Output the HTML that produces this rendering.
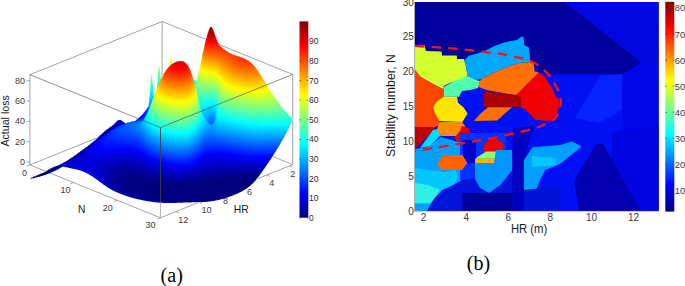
<!DOCTYPE html>
<html><head><meta charset="utf-8"><style>
html,body{margin:0;padding:0;background:#fff;}
svg{display:block;}
text{font-family:"Liberation Sans",sans-serif;fill:#333;}
.tb{font-size:10px;fill:#383838;}
.ta{font-size:9px;fill:#3a3a3a;}
.lb{font-size:12px;fill:#1a1a1a;}
.la{font-size:10.5px;fill:#1a1a1a;}
.tc{font-size:8.5px;fill:#2a2a2a;}
.tcb{font-size:9.3px;fill:#383838;}
.cap{font-family:"Liberation Serif",serif;font-size:20px;fill:#000;}
</style></head><body>
<svg width="685" height="286" viewBox="0 0 685 286">
<rect x="415" y="2" width="243.5" height="209" fill="#00009c"/>
<polygon points="565.0,2.0 658.5,2.0 658.5,211.0 415.0,211.0 415.0,62.0 530.0,62.0 534.0,64.0 538.8,72.5 548.0,74.3 622.7,74.3 642.0,62.7" fill="#0010f4"/>
<polygon points="565.0,2.0 658.5,2.0 658.5,66.0 642.0,62.7" fill="#0008e0"/>
<polygon points="622.7,74.3 642.0,62.7 658.5,66.0 658.5,211.0 622.0,211.0 622.0,120.0" fill="#0006ea"/>
<polygon points="600.0,76.0 622.0,74.0 622.0,110.0 600.0,123.0 575.0,118.0" fill="#0622ff"/>
<polygon points="415.0,45.0 424.5,45.0 426.0,51.0 441.5,51.5 442.0,55.5 456.8,55.5 457.0,59.0 463.8,59.0 465.5,64.0 467.6,76.0 460.0,80.0 450.0,83.0 443.5,86.0 443.5,89.3 433.0,84.0 420.4,76.7 415.0,70.0" fill="#d2ff2d"/>
<polygon points="463.8,59.0 464.6,59.9 468.8,55.7 477.2,53.6 485.6,50.4 494.0,46.2 502.4,43.1 510.8,41.0 517.0,40.0 521.3,36.8 523.4,36.5 524.4,45.2 528.6,47.3 530.5,62.0 519.2,63.0 506.6,67.2 494.0,72.5 481.4,79.0 476.0,80.0 467.6,76.0 465.5,64.0" fill="#00a8ff"/>
<polygon points="443.5,87.0 455.0,81.0 467.6,76.0 476.0,80.0 480.0,81.0 478.0,88.0 470.0,90.0 462.0,91.0 459.0,96.8 443.5,96.8" fill="#50ffaa"/>
<polygon points="415.0,70.0 420.4,76.7 433.0,84.0 443.5,89.3 443.5,97.0 437.0,101.0 433.0,107.3 435.0,113.6 439.3,121.0 439.3,125.0 433.0,128.0 415.0,128.0" fill="#ff4600"/>
<polygon points="415.0,127.0 433.0,127.0 434.0,130.0 415.0,149.0" fill="#c00000"/>
<polygon points="433.0,130.0 441.0,128.0 442.0,134.0 430.0,146.0 420.0,148.0" fill="#00dcff"/>
<polygon points="443.5,96.8 457.0,96.8 458.2,103.0 463.4,107.3 467.6,113.6 462.4,122.0 439.3,121.0 435.0,113.6 433.0,107.3 437.2,101.0" fill="#ffe600"/>
<polygon points="481.4,79.0 494.0,72.5 506.6,67.2 519.2,63.0 530.5,62.0 533.6,63.1 534.6,71.5 538.8,72.5 531.5,79.9 527.3,84.1 521.0,90.4 516.0,95.2 486.5,90.0 478.0,86.8 480.0,81.0" fill="#ff7000"/>
<polygon points="483.5,91.0 516.0,95.0 521.0,97.0 521.0,107.3 483.5,107.3" fill="#aa0000"/>
<polygon points="538.8,72.5 544.0,75.7 548.3,82.0 553.5,90.4 555.6,96.7 558.8,98.9 558.8,107.3 556.7,114.6 550.4,121.0 535.7,120.0 531.5,115.7 525.2,109.4 521.0,107.3 521.0,97.0 516.0,95.2 521.0,90.4 527.3,84.1 531.5,79.9" fill="#f00000"/>
<polygon points="488.0,107.3 512.0,107.3 500.0,118.0 497.0,120.4 474.0,121.0 480.0,114.0" fill="#ff7000"/>
<polygon points="439.3,122.0 462.0,122.0 465.0,126.0 460.0,136.0 441.0,136.0 437.0,130.0" fill="#ff8c00"/>
<polygon points="462.0,126.0 468.0,128.0 471.0,134.0 471.0,142.0 458.0,142.0 454.0,138.0 460.0,131.0" fill="#e60000"/>
<polygon points="415.0,149.0 428.0,147.0 441.0,137.0 458.0,142.0 464.0,142.0 466.0,150.0 462.0,160.0 462.0,180.0 455.0,184.0 442.0,190.0 434.7,198.0 427.0,211.0 415.0,211.0" fill="#00a0ff"/>
<polygon points="460.0,133.0 506.0,133.0 506.0,180.0 460.0,180.0" fill="#0032ff"/>
<polygon points="463.0,140.0 476.0,140.0 476.0,163.0 463.0,163.0" fill="#0000c8"/>
<polygon points="415.0,168.0 430.0,170.0 445.0,172.0 455.0,170.0 458.0,176.0 455.0,184.0 442.0,190.0 434.7,198.0 430.0,204.0 415.0,204.0" fill="#00c8ff"/>
<polygon points="415.0,183.0 428.0,185.0 439.7,190.0 434.7,198.0 430.0,203.0 415.0,203.0" fill="#30f0e6"/>
<polygon points="443.5,155.0 462.4,155.0 467.4,162.7 462.0,170.0 442.0,170.0 437.0,164.0" fill="#ff6400"/>
<polygon points="427.0,211.0 434.7,198.0 442.2,190.4 449.8,189.0 454.8,184.0 462.4,180.3 475.0,177.8 482.0,177.8 489.3,193.0 500.8,184.5 512.3,170.0 512.3,211.0" fill="#0014dc"/>
<polygon points="462.4,211.0 462.4,193.0 482.0,193.0 515.0,193.0 515.0,211.0" fill="#00009a"/>
<polygon points="490.0,138.6 497.0,139.0 503.7,144.0 503.7,151.5 483.6,151.5 484.0,145.0" fill="#f00000"/>
<polygon points="486.0,151.5 500.8,151.5 495.0,158.7 475.0,158.7" fill="#8cff6e"/>
<polygon points="475.0,158.7 496.5,158.7 494.0,163.0 475.0,163.0" fill="#ffb400"/>
<polygon points="496.0,150.0 512.3,150.0 512.3,170.0 500.8,184.5 489.3,193.0 480.0,188.0 475.0,178.8 475.0,163.0 494.0,163.0" fill="#0096ff"/>
<polygon points="513.0,128.4 534.6,126.0 526.6,150.0 526.6,211.0 512.3,211.0 512.3,150.0" fill="#0000c0"/>
<polygon points="532.5,147.3 560.0,145.0 572.0,141.6 581.6,146.6 560.0,164.0 545.0,170.0 540.0,180.0 535.0,193.0 524.0,193.0 524.0,160.0" fill="#00a0ff"/>
<polygon points="532.0,156.0 555.6,158.0 555.6,165.0 532.0,167.0" fill="#00c8ff"/>
<polygon points="524.0,190.0 560.0,186.0 560.0,211.0 524.0,211.0" fill="#0012d8"/>
<polygon points="612.0,132.0 658.5,126.0 658.5,211.0 612.0,211.0" fill="#0006e2"/>
<polygon points="596.0,144.0 603.0,144.0 641.0,211.0 579.0,211.0 574.0,181.0" fill="#0000b0"/>
<path d="M415.0,45.9 L452.0,48.3 L500.0,53.6 L524.4,58.8 L533.0,62.0 L541.0,67.0 L550.4,76.7 L556.7,87.2 L559.8,94.6 L560.9,101.0 L559.8,111.5 L554.6,118.8 L548.3,123.0 L537.8,127.2 L527.3,130.4 L512.6,133.5 L492.0,138.3 L452.0,145.0 L415.0,151.0" fill="none" stroke="#ff1010" stroke-width="2.3" stroke-dasharray="9.6 7"/>
<line x1="414.5" y1="2" x2="414.5" y2="211.5" stroke="#999" stroke-width="0.8"/>
<line x1="414.5" y1="211.3" x2="659" y2="211.3" stroke="#999" stroke-width="0.6"/>
<defs><linearGradient id="gb" x1="0" y1="0" x2="0" y2="1"><stop offset="0.000" stop-color="#800000"/><stop offset="0.025" stop-color="#990000"/><stop offset="0.050" stop-color="#b30000"/><stop offset="0.075" stop-color="#cc0000"/><stop offset="0.100" stop-color="#e50000"/><stop offset="0.125" stop-color="#ff0000"/><stop offset="0.150" stop-color="#ff1a00"/><stop offset="0.175" stop-color="#ff3300"/><stop offset="0.200" stop-color="#ff4c00"/><stop offset="0.225" stop-color="#ff6600"/><stop offset="0.250" stop-color="#ff8000"/><stop offset="0.275" stop-color="#ff9900"/><stop offset="0.300" stop-color="#ffb300"/><stop offset="0.325" stop-color="#ffcc00"/><stop offset="0.350" stop-color="#ffe500"/><stop offset="0.375" stop-color="#ffff00"/><stop offset="0.400" stop-color="#e5ff1a"/><stop offset="0.425" stop-color="#ccff33"/><stop offset="0.450" stop-color="#b3ff4c"/><stop offset="0.475" stop-color="#99ff66"/><stop offset="0.500" stop-color="#80ff80"/><stop offset="0.525" stop-color="#66ff99"/><stop offset="0.550" stop-color="#4cffb3"/><stop offset="0.575" stop-color="#33ffcc"/><stop offset="0.600" stop-color="#1affe5"/><stop offset="0.625" stop-color="#00ffff"/><stop offset="0.650" stop-color="#00e5ff"/><stop offset="0.675" stop-color="#00ccff"/><stop offset="0.700" stop-color="#00b3ff"/><stop offset="0.725" stop-color="#0099ff"/><stop offset="0.750" stop-color="#0080ff"/><stop offset="0.775" stop-color="#0066ff"/><stop offset="0.800" stop-color="#004cff"/><stop offset="0.825" stop-color="#0033ff"/><stop offset="0.850" stop-color="#001aff"/><stop offset="0.875" stop-color="#0000ff"/><stop offset="0.900" stop-color="#0000e5"/><stop offset="0.925" stop-color="#0000cc"/><stop offset="0.950" stop-color="#0000b3"/><stop offset="0.975" stop-color="#000099"/><stop offset="1.000" stop-color="#000080"/></linearGradient></defs>
<rect x="665.3" y="1.8" width="9" height="209.8" fill="url(#gb)"/>
<text x="674.8" y="194.0" class="tcb">10</text>
<path d="M665.3 190.6h1.6M672.7 190.6h1.6" stroke="#333" stroke-width="0.6"/>
<text x="674.8" y="167.9" class="tcb">20</text>
<path d="M665.3 164.5h1.6M672.7 164.5h1.6" stroke="#333" stroke-width="0.6"/>
<text x="674.8" y="141.8" class="tcb">30</text>
<path d="M665.3 138.4h1.6M672.7 138.4h1.6" stroke="#333" stroke-width="0.6"/>
<text x="674.8" y="115.7" class="tcb">40</text>
<path d="M665.3 112.3h1.6M672.7 112.3h1.6" stroke="#333" stroke-width="0.6"/>
<text x="674.8" y="89.7" class="tcb">50</text>
<path d="M665.3 86.2h1.6M672.7 86.2h1.6" stroke="#333" stroke-width="0.6"/>
<text x="674.8" y="63.6" class="tcb">60</text>
<path d="M665.3 60.2h1.6M672.7 60.2h1.6" stroke="#333" stroke-width="0.6"/>
<text x="674.8" y="37.5" class="tcb">70</text>
<path d="M665.3 34.1h1.6M672.7 34.1h1.6" stroke="#333" stroke-width="0.6"/>
<text x="674.8" y="11.4" class="tcb">80</text>
<path d="M665.3 8.0h1.6M672.7 8.0h1.6" stroke="#333" stroke-width="0.6"/>
<text x="413.8" y="214.6" class="tb" text-anchor="end">0</text>
<text x="413.8" y="179.8" class="tb" text-anchor="end">5</text>
<text x="413.8" y="144.9" class="tb" text-anchor="end">10</text>
<text x="413.8" y="110.0" class="tb" text-anchor="end">15</text>
<text x="413.8" y="75.2" class="tb" text-anchor="end">20</text>
<text x="413.8" y="40.4" class="tb" text-anchor="end">25</text>
<text x="413.8" y="5.5" class="tb" text-anchor="end">30</text>
<text x="423.5" y="220.8" class="tb" text-anchor="middle">2</text>
<text x="466.2" y="220.8" class="tb" text-anchor="middle">4</text>
<text x="508.3" y="220.8" class="tb" text-anchor="middle">6</text>
<text x="550.3" y="220.8" class="tb" text-anchor="middle">8</text>
<text x="591.5" y="220.8" class="tb" text-anchor="middle">10</text>
<text x="633.6" y="220.8" class="tb" text-anchor="middle">12</text>
<text x="510.9" y="232.6" class="lb" textLength="36.4" lengthAdjust="spacingAndGlyphs">HR (m)</text>
<text transform="translate(395.1,157.1) rotate(-90)" class="lb" textLength="102.9" lengthAdjust="spacingAndGlyphs">Stability number, N</text>
<text x="466.8" y="269.8" class="cap">(b)</text>
<text x="160.6" y="281.5" class="cap">(a)</text>
<line x1="29.9" y1="164.9" x2="162.1" y2="111.7" stroke="#666" stroke-width="0.60"/><line x1="162.1" y1="111.7" x2="292.7" y2="164.6" stroke="#666" stroke-width="0.60"/><line x1="162.1" y1="111.7" x2="162.1" y2="21.5" stroke="#666" stroke-width="0.60"/><line x1="29.9" y1="74.7" x2="162.1" y2="21.5" stroke="#666" stroke-width="0.60"/><line x1="162.1" y1="21.5" x2="292.7" y2="74.4" stroke="#666" stroke-width="0.60"/><line x1="29.9" y1="164.9" x2="29.9" y2="74.7" stroke="#666" stroke-width="0.60"/><line x1="292.7" y1="164.6" x2="292.7" y2="74.4" stroke="#666" stroke-width="0.60"/><line x1="29.9" y1="164.9" x2="160.5" y2="217.8" stroke="#666" stroke-width="0.60"/><line x1="160.5" y1="217.8" x2="292.7" y2="164.6" stroke="#666" stroke-width="0.60"/>
<line x1="26.2" y1="162.0" x2="29.9" y2="162.0" stroke="#777" stroke-width="0.60"/>
<text x="24.9" y="164.9" class="ta" text-anchor="end">0</text>
<line x1="26.2" y1="141.7" x2="29.9" y2="141.7" stroke="#777" stroke-width="0.60"/>
<text x="24.9" y="144.6" class="ta" text-anchor="end">20</text>
<line x1="26.2" y1="121.4" x2="29.9" y2="121.4" stroke="#777" stroke-width="0.60"/>
<text x="24.9" y="124.3" class="ta" text-anchor="end">40</text>
<line x1="26.2" y1="101.1" x2="29.9" y2="101.1" stroke="#777" stroke-width="0.60"/>
<text x="24.9" y="104.0" class="ta" text-anchor="end">60</text>
<line x1="26.2" y1="80.8" x2="29.9" y2="80.8" stroke="#777" stroke-width="0.60"/>
<text x="24.9" y="83.7" class="ta" text-anchor="end">80</text>
<line x1="29.9" y1="164.9" x2="26.7" y2="166.2" stroke="#777" stroke-width="0.60"/>
<line x1="73.4" y1="182.5" x2="70.2" y2="183.8" stroke="#777" stroke-width="0.60"/>
<line x1="117.0" y1="200.2" x2="113.8" y2="201.5" stroke="#777" stroke-width="0.60"/>
<line x1="160.5" y1="217.8" x2="157.3" y2="219.1" stroke="#777" stroke-width="0.60"/>
<line x1="289.5" y1="165.9" x2="292.7" y2="167.2" stroke="#777" stroke-width="0.60"/>
<line x1="266.8" y1="175.0" x2="270.0" y2="176.3" stroke="#777" stroke-width="0.60"/>
<line x1="244.1" y1="184.2" x2="247.3" y2="185.5" stroke="#777" stroke-width="0.60"/>
<line x1="221.4" y1="193.3" x2="224.6" y2="194.6" stroke="#777" stroke-width="0.60"/>
<line x1="198.7" y1="202.4" x2="201.9" y2="203.7" stroke="#777" stroke-width="0.60"/>
<line x1="175.9" y1="211.6" x2="179.1" y2="212.9" stroke="#777" stroke-width="0.60"/>
<defs><linearGradient id="s0" x2="0" y2="1"><stop offset="0" stop-color="#9f9fcf"/><stop offset="0.75" stop-color="#8080c0"/></linearGradient><linearGradient id="s1" x2="0" y2="1"><stop offset="0" stop-color="#5050a8"/><stop offset="0.75" stop-color="#9f9fcf"/></linearGradient><linearGradient id="s2" x2="0" y2="1"><stop offset="0" stop-color="#efeff7"/><stop offset="0.5" stop-color="#000080"/><stop offset="0.833" stop-color="#bfbfdf"/></linearGradient><linearGradient id="s3" x2="0" y2="1"><stop offset="0" stop-color="#8080c0"/><stop offset="0.75" stop-color="#101088"/></linearGradient><linearGradient id="s4" x2="0" y2="1"><stop offset="0" stop-color="#303098"/><stop offset="0.75" stop-color="#5050a8"/></linearGradient><linearGradient id="s5" x2="0" y2="1"><stop offset="0" stop-color="#bfbfdf"/><stop offset="0.5" stop-color="#000080"/><stop offset="0.833" stop-color="#8080c0"/></linearGradient><linearGradient id="s6" x2="0" y2="1"><stop offset="0" stop-color="#5050a8"/><stop offset="0.5" stop-color="#000080"/><stop offset="0.833" stop-color="#cfcfe7"/></linearGradient><linearGradient id="s7" x2="0" y2="1"><stop offset="0" stop-color="#efeff7"/><stop offset="0.5" stop-color="#000080"/><stop offset="0.833" stop-color="#202090"/></linearGradient><linearGradient id="s8" x2="0" y2="1"><stop offset="0" stop-color="#8080c0"/><stop offset="0.5" stop-color="#000080"/><stop offset="0.833" stop-color="#5050a8"/></linearGradient><linearGradient id="s9" x2="0" y2="1"><stop offset="0" stop-color="#efeff7"/><stop offset="0.375" stop-color="#101088"/><stop offset="0.625" stop-color="#000080"/><stop offset="0.875" stop-color="#9f9fcf"/></linearGradient><linearGradient id="s10" x2="0" y2="1"><stop offset="0" stop-color="#9f9fcf"/><stop offset="0.375" stop-color="#000080"/><stop offset="0.625" stop-color="#000080"/><stop offset="0.875" stop-color="#efeff7"/></linearGradient><linearGradient id="s11" x2="0" y2="1"><stop offset="0" stop-color="#303098"/><stop offset="0.5" stop-color="#000080"/><stop offset="0.833" stop-color="#303098"/></linearGradient><linearGradient id="s12" x2="0" y2="1"><stop offset="0" stop-color="#dfdfef"/><stop offset="0.375" stop-color="#000080"/><stop offset="0.625" stop-color="#000080"/><stop offset="0.875" stop-color="#8f8fc7"/></linearGradient><linearGradient id="s13" x2="0" y2="1"><stop offset="0" stop-color="#5050a8"/><stop offset="0.375" stop-color="#000080"/><stop offset="0.625" stop-color="#000080"/><stop offset="0.875" stop-color="#dfdfef"/></linearGradient><linearGradient id="s14" x2="0" y2="1"><stop offset="0" stop-color="#cfcfe7"/><stop offset="0.375" stop-color="#000080"/><stop offset="0.625" stop-color="#000080"/><stop offset="0.875" stop-color="#303098"/></linearGradient><linearGradient id="s15" x2="0" y2="1"><stop offset="0" stop-color="#efeff7"/><stop offset="0.3" stop-color="#303098"/><stop offset="0.5" stop-color="#000080"/><stop offset="0.7" stop-color="#000080"/><stop offset="0.9" stop-color="#9f9fcf"/></linearGradient><linearGradient id="s16" x2="0" y2="1"><stop offset="0" stop-color="#7070b8"/><stop offset="0.3" stop-color="#000080"/><stop offset="0.7" stop-color="#000080"/><stop offset="0.9" stop-color="#efeff7"/></linearGradient><linearGradient id="s17" x2="0" y2="1"><stop offset="0" stop-color="#cfcfe7"/><stop offset="0.3" stop-color="#000080"/><stop offset="0.7" stop-color="#000080"/><stop offset="0.9" stop-color="#6060b0"/></linearGradient><linearGradient id="s18" x2="0" y2="1"><stop offset="0" stop-color="#4040a2"/><stop offset="0.3" stop-color="#000080"/><stop offset="0.7" stop-color="#000080"/><stop offset="0.9" stop-color="#afafd7"/></linearGradient><linearGradient id="s19" x2="0" y2="1"><stop offset="0" stop-color="#afafdc"/><stop offset="0.3" stop-color="#000082"/><stop offset="0.7" stop-color="#000080"/><stop offset="0.9" stop-color="#202090"/></linearGradient><linearGradient id="s20" x2="0" y2="1"><stop offset="0" stop-color="#3030a4"/><stop offset="0.3" stop-color="#000080"/><stop offset="0.7" stop-color="#000080"/><stop offset="0.9" stop-color="#9f9fcf"/></linearGradient><linearGradient id="s21" x2="0" y2="1"><stop offset="0" stop-color="#bfbfe8"/><stop offset="0.3" stop-color="#000088"/><stop offset="0.7" stop-color="#000080"/><stop offset="0.9" stop-color="#101088"/></linearGradient><linearGradient id="s22" x2="0" y2="1"><stop offset="0" stop-color="#4040b6"/><stop offset="0.3" stop-color="#000081"/><stop offset="0.7" stop-color="#000080"/><stop offset="0.9" stop-color="#8080c0"/></linearGradient><linearGradient id="s23" x2="0" y2="1"><stop offset="0" stop-color="#efeffa"/><stop offset="0.25" stop-color="#000095"/><stop offset="0.417" stop-color="#000080"/><stop offset="0.583" stop-color="#000080"/><stop offset="0.75" stop-color="#101088"/><stop offset="0.917" stop-color="#efeff7"/></linearGradient><linearGradient id="s24" x2="0" y2="1"><stop offset="0" stop-color="#8f8fdc"/><stop offset="0.3" stop-color="#000086"/><stop offset="0.7" stop-color="#000080"/><stop offset="0.9" stop-color="#6060b0"/></linearGradient><linearGradient id="s25" x2="0" y2="1"><stop offset="0" stop-color="#2020b2"/><stop offset="0.3" stop-color="#000080"/><stop offset="0.7" stop-color="#000080"/><stop offset="0.9" stop-color="#dfdfef"/></linearGradient><linearGradient id="s26" x2="0" y2="1"><stop offset="0" stop-color="#dfdff6"/><stop offset="0.3" stop-color="#0000a3"/><stop offset="0.5" stop-color="#000080"/><stop offset="0.7" stop-color="#000080"/><stop offset="0.9" stop-color="#8080c0"/></linearGradient><linearGradient id="s27" x2="0" y2="1"><stop offset="0" stop-color="#7070da"/><stop offset="0.3" stop-color="#0000a0"/><stop offset="0.5" stop-color="#000080"/><stop offset="0.7" stop-color="#101088"/><stop offset="0.9" stop-color="#dfdfef"/></linearGradient><linearGradient id="s28" x2="0" y2="1"><stop offset="0" stop-color="#dfdff2"/><stop offset="0.3" stop-color="#1010c5"/><stop offset="0.5" stop-color="#000094"/><stop offset="0.7" stop-color="#000080"/><stop offset="0.9" stop-color="#8080c0"/></linearGradient><linearGradient id="s29" x2="0" y2="1"><stop offset="0" stop-color="#8080d0"/><stop offset="0.375" stop-color="#0000c7"/><stop offset="0.625" stop-color="#00009e"/><stop offset="0.875" stop-color="#202090"/></linearGradient><linearGradient id="s30" x2="0" y2="1"><stop offset="0" stop-color="#dfdfef"/><stop offset="0.3" stop-color="#1010b5"/><stop offset="0.5" stop-color="#0000cb"/><stop offset="0.7" stop-color="#0000aa"/><stop offset="0.9" stop-color="#afafd7"/></linearGradient><linearGradient id="s31" x2="0" y2="1"><stop offset="0" stop-color="#7070c1"/><stop offset="0.375" stop-color="#0000c2"/><stop offset="0.625" stop-color="#0000cf"/><stop offset="0.875" stop-color="#4040d0"/></linearGradient><linearGradient id="s32" x2="0" y2="1"><stop offset="0" stop-color="#dfdfef"/><stop offset="0.3" stop-color="#0000a3"/><stop offset="0.5" stop-color="#0000c6"/><stop offset="0.7" stop-color="#0000d1"/><stop offset="0.9" stop-color="#4040e2"/></linearGradient><linearGradient id="s33" x2="0" y2="1"><stop offset="0" stop-color="#4040a3"/><stop offset="0.3" stop-color="#0000be"/><stop offset="0.7" stop-color="#0000d2"/><stop offset="0.9" stop-color="#1010dc"/></linearGradient><linearGradient id="s34" x2="0" y2="1"><stop offset="0" stop-color="#bfbfdf"/><stop offset="0.214" stop-color="#000098"/><stop offset="0.357" stop-color="#0000c4"/><stop offset="0.786" stop-color="#0000db"/><stop offset="0.929" stop-color="#dfdffb"/></linearGradient><linearGradient id="s35" x2="0" y2="1"><stop offset="0" stop-color="#30309a"/><stop offset="0.214" stop-color="#0000b7"/><stop offset="0.5" stop-color="#0000ce"/><stop offset="0.786" stop-color="#0000db"/><stop offset="0.929" stop-color="#afaff5"/></linearGradient><linearGradient id="s36" x2="0" y2="1"><stop offset="0" stop-color="#8080c0"/><stop offset="0.188" stop-color="#000097"/><stop offset="0.312" stop-color="#0000c2"/><stop offset="0.812" stop-color="#0000db"/><stop offset="0.938" stop-color="#8080f0"/></linearGradient><linearGradient id="s37" x2="0" y2="1"><stop offset="0" stop-color="#efeff7"/><stop offset="0.167" stop-color="#101088"/><stop offset="0.278" stop-color="#0000b3"/><stop offset="0.389" stop-color="#0000c6"/><stop offset="0.833" stop-color="#0000da"/><stop offset="0.944" stop-color="#4040e9"/></linearGradient><linearGradient id="s38" x2="0" y2="1"><stop offset="0" stop-color="#4040a0"/><stop offset="0.167" stop-color="#000097"/><stop offset="0.278" stop-color="#0000c2"/><stop offset="0.944" stop-color="#0000e2"/></linearGradient><linearGradient id="s39" x2="0" y2="1"><stop offset="0" stop-color="#9f9fcf"/><stop offset="0.136" stop-color="#000080"/><stop offset="0.227" stop-color="#0000b8"/><stop offset="0.409" stop-color="#0000cb"/><stop offset="0.864" stop-color="#0000e2"/><stop offset="0.955" stop-color="#cfcffb"/></linearGradient><linearGradient id="s40" x2="0" y2="1"><stop offset="0" stop-color="#efeff7"/><stop offset="0.125" stop-color="#101088"/><stop offset="0.208" stop-color="#00009a"/><stop offset="0.292" stop-color="#0000c2"/><stop offset="0.875" stop-color="#0000e1"/><stop offset="0.958" stop-color="#8f8ff5"/></linearGradient><linearGradient id="s41" x2="0" y2="1"><stop offset="0" stop-color="#5050a8"/><stop offset="0.125" stop-color="#000086"/><stop offset="0.208" stop-color="#0000ba"/><stop offset="0.375" stop-color="#0000cc"/><stop offset="0.875" stop-color="#0000e0"/><stop offset="0.958" stop-color="#6060f2"/></linearGradient><linearGradient id="s42" x2="0" y2="1"><stop offset="0" stop-color="#9f9fcf"/><stop offset="0.115" stop-color="#000080"/><stop offset="0.269" stop-color="#0000c4"/><stop offset="0.885" stop-color="#0000e0"/><stop offset="0.962" stop-color="#3030ef"/></linearGradient><linearGradient id="s43" x2="0" y2="1"><stop offset="0" stop-color="#dfdfef"/><stop offset="0.107" stop-color="#101088"/><stop offset="0.179" stop-color="#00008c"/><stop offset="0.25" stop-color="#0000bf"/><stop offset="0.536" stop-color="#0000d0"/><stop offset="0.893" stop-color="#0000e0"/><stop offset="0.964" stop-color="#0000ec"/></linearGradient><linearGradient id="s44" x2="0" y2="1"><stop offset="0" stop-color="#303098"/><stop offset="0.1" stop-color="#000083"/><stop offset="0.167" stop-color="#0000b3"/><stop offset="0.233" stop-color="#0000c7"/><stop offset="0.833" stop-color="#0000df"/><stop offset="0.9" stop-color="#0000eb"/><stop offset="0.967" stop-color="#bfbffc"/></linearGradient><linearGradient id="s45" x2="0" y2="1"><stop offset="0" stop-color="#8f8fc7"/><stop offset="0.094" stop-color="#000080"/><stop offset="0.156" stop-color="#00009b"/><stop offset="0.219" stop-color="#0000c4"/><stop offset="0.531" stop-color="#0000d1"/><stop offset="0.844" stop-color="#0000df"/><stop offset="0.906" stop-color="#0000ea"/><stop offset="0.969" stop-color="#8080f9"/></linearGradient><linearGradient id="s46" x2="0" y2="1"><stop offset="0" stop-color="#bfbfdf"/><stop offset="0.088" stop-color="#000080"/><stop offset="0.147" stop-color="#00008f"/><stop offset="0.206" stop-color="#0000bf"/><stop offset="0.382" stop-color="#0000d0"/><stop offset="0.794" stop-color="#0000d7"/><stop offset="0.912" stop-color="#0000e9"/><stop offset="0.971" stop-color="#5050f7"/></linearGradient><linearGradient id="s47" x2="0" y2="1"><stop offset="0" stop-color="#efeff7"/><stop offset="0.083" stop-color="#101088"/><stop offset="0.139" stop-color="#000083"/><stop offset="0.194" stop-color="#0000b5"/><stop offset="0.25" stop-color="#0000ca"/><stop offset="0.806" stop-color="#0000d7"/><stop offset="0.972" stop-color="#0000f3"/></linearGradient><linearGradient id="s48" x2="0" y2="1"><stop offset="0" stop-color="#6060b0"/><stop offset="0.079" stop-color="#000082"/><stop offset="0.184" stop-color="#0000c7"/><stop offset="0.395" stop-color="#0000d3"/><stop offset="0.763" stop-color="#0000d7"/><stop offset="0.921" stop-color="#0000f3"/><stop offset="0.974" stop-color="#bfbffd"/></linearGradient><linearGradient id="s49" x2="0" y2="1"><stop offset="0" stop-color="#8f8fc7"/><stop offset="0.075" stop-color="#000080"/><stop offset="0.175" stop-color="#0000c5"/><stop offset="0.325" stop-color="#0000d4"/><stop offset="0.775" stop-color="#0000d7"/><stop offset="0.925" stop-color="#0000f1"/><stop offset="0.975" stop-color="#7070fb"/></linearGradient><linearGradient id="s50" x2="0" y2="1"><stop offset="0" stop-color="#dfdfef"/><stop offset="0.071" stop-color="#000080"/><stop offset="0.119" stop-color="#000094"/><stop offset="0.167" stop-color="#0000bf"/><stop offset="0.262" stop-color="#0000d4"/><stop offset="0.786" stop-color="#0000d6"/><stop offset="0.929" stop-color="#0000f0"/><stop offset="0.976" stop-color="#1010f8"/></linearGradient><linearGradient id="s51" x2="0" y2="1"><stop offset="0" stop-color="#efeff7"/><stop offset="0.065" stop-color="#303098"/><stop offset="0.109" stop-color="#000091"/><stop offset="0.152" stop-color="#0000bb"/><stop offset="0.196" stop-color="#0000ce"/><stop offset="0.413" stop-color="#0000d7"/><stop offset="0.761" stop-color="#0000d6"/><stop offset="0.935" stop-color="#0000f6"/><stop offset="0.978" stop-color="#afaffd"/></linearGradient><linearGradient id="s52" x2="0" y2="1"><stop offset="0" stop-color="#6060b0"/><stop offset="0.065" stop-color="#000088"/><stop offset="0.109" stop-color="#0000b9"/><stop offset="0.152" stop-color="#0000ce"/><stop offset="0.326" stop-color="#0000da"/><stop offset="0.761" stop-color="#0000d6"/><stop offset="0.935" stop-color="#0000f4"/><stop offset="0.978" stop-color="#6060fb"/></linearGradient><linearGradient id="s53" x2="0" y2="1"><stop offset="0" stop-color="#afafd7"/><stop offset="0.06" stop-color="#000086"/><stop offset="0.1" stop-color="#0000b0"/><stop offset="0.14" stop-color="#0000cc"/><stop offset="0.26" stop-color="#0000dc"/><stop offset="0.7" stop-color="#0000d2"/><stop offset="0.94" stop-color="#0000f7"/><stop offset="0.98" stop-color="#dfdffe"/></linearGradient><linearGradient id="s54" x2="0" y2="1"><stop offset="0" stop-color="#cfcfe7"/><stop offset="0.058" stop-color="#10108a"/><stop offset="0.096" stop-color="#0000af"/><stop offset="0.135" stop-color="#0000cc"/><stop offset="0.25" stop-color="#0000de"/><stop offset="0.712" stop-color="#0000d2"/><stop offset="0.942" stop-color="#0000f5"/><stop offset="0.981" stop-color="#7070fb"/></linearGradient><linearGradient id="s55" x2="0" y2="1"><stop offset="0" stop-color="#303098"/><stop offset="0.056" stop-color="#0000a3"/><stop offset="0.093" stop-color="#0000cc"/><stop offset="0.204" stop-color="#0000e0"/><stop offset="0.685" stop-color="#0000d2"/><stop offset="0.907" stop-color="#0000f2"/><stop offset="0.944" stop-color="#1010f7"/><stop offset="0.981" stop-color="#dfdffe"/></linearGradient><linearGradient id="s56" x2="0" y2="1"><stop offset="0" stop-color="#7070b8"/><stop offset="0.054" stop-color="#00009e"/><stop offset="0.089" stop-color="#0000c8"/><stop offset="0.161" stop-color="#0000df"/><stop offset="0.411" stop-color="#0000dc"/><stop offset="0.696" stop-color="#0000d1"/><stop offset="0.946" stop-color="#0000f3"/><stop offset="0.982" stop-color="#6060f9"/></linearGradient><linearGradient id="s57" x2="0" y2="1"><stop offset="0" stop-color="#9f9fcf"/><stop offset="0.05" stop-color="#000094"/><stop offset="0.083" stop-color="#0000ca"/><stop offset="0.15" stop-color="#0000e2"/><stop offset="0.383" stop-color="#0000df"/><stop offset="0.683" stop-color="#0000d1"/><stop offset="0.95" stop-color="#0000f4"/><stop offset="0.983" stop-color="#dfdffe"/></linearGradient><linearGradient id="s58" x2="0" y2="1"><stop offset="0" stop-color="#efeff7"/><stop offset="0.048" stop-color="#00008a"/><stop offset="0.081" stop-color="#0000c2"/><stop offset="0.113" stop-color="#0000db"/><stop offset="0.242" stop-color="#0000e9"/><stop offset="0.694" stop-color="#0000d0"/><stop offset="0.952" stop-color="#0000f0"/><stop offset="0.984" stop-color="#4040f5"/></linearGradient><linearGradient id="s59" x2="0" y2="1"><stop offset="0" stop-color="#efeff7"/><stop offset="0.045" stop-color="#30309d"/><stop offset="0.076" stop-color="#0000c0"/><stop offset="0.106" stop-color="#0000db"/><stop offset="0.197" stop-color="#0000ec"/><stop offset="0.682" stop-color="#0000d0"/><stop offset="0.955" stop-color="#0000ef"/><stop offset="0.985" stop-color="#afaffa"/></linearGradient><linearGradient id="s60" x2="0" y2="1"><stop offset="0" stop-color="#5050a8"/><stop offset="0.045" stop-color="#0000b5"/><stop offset="0.076" stop-color="#0000dd"/><stop offset="0.167" stop-color="#0000ef"/><stop offset="0.682" stop-color="#0000cf"/><stop offset="0.955" stop-color="#0000eb"/><stop offset="0.985" stop-color="#1010ef"/></linearGradient><linearGradient id="s61" x2="0" y2="1"><stop offset="0" stop-color="#8f8fc7"/><stop offset="0.043" stop-color="#0000a6"/><stop offset="0.071" stop-color="#0000da"/><stop offset="0.129" stop-color="#0000f0"/><stop offset="0.329" stop-color="#0000ea"/><stop offset="0.671" stop-color="#0000ce"/><stop offset="0.957" stop-color="#0000ea"/><stop offset="0.986" stop-color="#7070f4"/></linearGradient><linearGradient id="s62" x2="0" y2="1"><stop offset="0" stop-color="#9f9fcf"/><stop offset="0.041" stop-color="#000096"/><stop offset="0.068" stop-color="#0000db"/><stop offset="0.122" stop-color="#0000f2"/><stop offset="0.311" stop-color="#0000ee"/><stop offset="0.662" stop-color="#0000cd"/><stop offset="0.959" stop-color="#0000e8"/><stop offset="0.986" stop-color="#afaff8"/></linearGradient><linearGradient id="s63" x2="0" y2="1"><stop offset="0" stop-color="#cfcfe7"/><stop offset="0.038" stop-color="#101091"/><stop offset="0.064" stop-color="#0000d2"/><stop offset="0.09" stop-color="#0000ec"/><stop offset="0.192" stop-color="#0000f9"/><stop offset="0.654" stop-color="#0000cc"/><stop offset="0.936" stop-color="#0000e3"/><stop offset="0.962" stop-color="#1010e8"/><stop offset="0.987" stop-color="#efeffd"/></linearGradient><linearGradient id="s64" x2="0" y2="1"><stop offset="0" stop-color="#efeff7"/><stop offset="0.037" stop-color="#30309c"/><stop offset="0.062" stop-color="#0000c7"/><stop offset="0.087" stop-color="#0000ec"/><stop offset="0.188" stop-color="#0000fd"/><stop offset="0.662" stop-color="#0000cb"/><stop offset="0.963" stop-color="#0000e1"/><stop offset="0.988" stop-color="#6060ee"/></linearGradient><linearGradient id="s65" x2="0" y2="1"><stop offset="0" stop-color="#efeff7"/><stop offset="0.036" stop-color="#303098"/><stop offset="0.06" stop-color="#0000b7"/><stop offset="0.083" stop-color="#0000ed"/><stop offset="0.155" stop-color="#0001ff"/><stop offset="0.369" stop-color="#0000ec"/><stop offset="0.655" stop-color="#0000ca"/><stop offset="0.964" stop-color="#0000df"/><stop offset="0.988" stop-color="#9f9ff3"/></linearGradient><linearGradient id="s66" x2="0" y2="1"><stop offset="0" stop-color="#efeff7"/><stop offset="0.034" stop-color="#303098"/><stop offset="0.057" stop-color="#00009e"/><stop offset="0.08" stop-color="#0000e9"/><stop offset="0.102" stop-color="#0000fb"/><stop offset="0.284" stop-color="#0000fb"/><stop offset="0.648" stop-color="#0000c9"/><stop offset="0.943" stop-color="#0000da"/><stop offset="0.966" stop-color="#1010df"/><stop offset="0.989" stop-color="#efeffd"/></linearGradient><linearGradient id="s67" x2="0" y2="1"><stop offset="0" stop-color="#efeff7"/><stop offset="0.033" stop-color="#303098"/><stop offset="0.056" stop-color="#000091"/><stop offset="0.078" stop-color="#0000e6"/><stop offset="0.1" stop-color="#0000fa"/><stop offset="0.233" stop-color="#0005ff"/><stop offset="0.522" stop-color="#0000d6"/><stop offset="0.722" stop-color="#0000c7"/><stop offset="0.967" stop-color="#0000d8"/><stop offset="0.989" stop-color="#3030e0"/></linearGradient><linearGradient id="s68" x2="0" y2="1"><stop offset="0" stop-color="#efeff7"/><stop offset="0.032" stop-color="#303098"/><stop offset="0.053" stop-color="#000083"/><stop offset="0.074" stop-color="#0000da"/><stop offset="0.096" stop-color="#0001fc"/><stop offset="0.202" stop-color="#000bff"/><stop offset="0.351" stop-color="#0000f5"/><stop offset="0.649" stop-color="#0000c6"/><stop offset="0.968" stop-color="#0000d5"/><stop offset="0.989" stop-color="#7070e8"/></linearGradient><linearGradient id="s69" x2="0" y2="1"><stop offset="0" stop-color="#4040a0"/><stop offset="0.031" stop-color="#000081"/><stop offset="0.073" stop-color="#0001fa"/><stop offset="0.156" stop-color="#000fff"/><stop offset="0.323" stop-color="#0000f9"/><stop offset="0.656" stop-color="#0000c3"/><stop offset="0.948" stop-color="#0000d0"/><stop offset="0.969" stop-color="#0000d3"/><stop offset="0.99" stop-color="#afaff1"/></linearGradient><linearGradient id="s70" x2="0" y2="1"><stop offset="0" stop-color="#6060b0"/><stop offset="0.03" stop-color="#000080"/><stop offset="0.05" stop-color="#0000ab"/><stop offset="0.07" stop-color="#0001f8"/><stop offset="0.15" stop-color="#0012ff"/><stop offset="0.33" stop-color="#0000f9"/><stop offset="0.63" stop-color="#0000c3"/><stop offset="0.91" stop-color="#0000c8"/><stop offset="0.95" stop-color="#0000ce"/><stop offset="0.97" stop-color="#1010d2"/><stop offset="0.99" stop-color="#efeffc"/></linearGradient><linearGradient id="s71" x2="0" y2="1"><stop offset="0" stop-color="#6060b0"/><stop offset="0.029" stop-color="#000081"/><stop offset="0.049" stop-color="#000093"/><stop offset="0.069" stop-color="#0001f0"/><stop offset="0.088" stop-color="#000cff"/><stop offset="0.167" stop-color="#0016ff"/><stop offset="0.343" stop-color="#0000fa"/><stop offset="0.657" stop-color="#0000c0"/><stop offset="0.931" stop-color="#0000c5"/><stop offset="0.971" stop-color="#0000cb"/><stop offset="0.99" stop-color="#3030d6"/></linearGradient><linearGradient id="s72" x2="0" y2="1"><stop offset="0" stop-color="#8f8fc7"/><stop offset="0.028" stop-color="#000082"/><stop offset="0.047" stop-color="#00008d"/><stop offset="0.066" stop-color="#0000de"/><stop offset="0.085" stop-color="#000aff"/><stop offset="0.142" stop-color="#001aff"/><stop offset="0.349" stop-color="#0000fa"/><stop offset="0.651" stop-color="#0000be"/><stop offset="0.915" stop-color="#0000c1"/><stop offset="0.972" stop-color="#0000c9"/><stop offset="0.991" stop-color="#7070e1"/></linearGradient><linearGradient id="s73" x2="0" y2="1"><stop offset="0" stop-color="#9f9fd1"/><stop offset="0.027" stop-color="#000085"/><stop offset="0.045" stop-color="#00008c"/><stop offset="0.082" stop-color="#000afe"/><stop offset="0.136" stop-color="#001cff"/><stop offset="0.318" stop-color="#0003ff"/><stop offset="0.645" stop-color="#0000bc"/><stop offset="0.9" stop-color="#0000bb"/><stop offset="0.973" stop-color="#0000c6"/><stop offset="0.991" stop-color="#cfcff4"/></linearGradient><linearGradient id="s74" x2="0" y2="1"><stop offset="0" stop-color="#afafda"/><stop offset="0.026" stop-color="#000089"/><stop offset="0.044" stop-color="#00008e"/><stop offset="0.061" stop-color="#0000aa"/><stop offset="0.079" stop-color="#0008f8"/><stop offset="0.114" stop-color="#001eff"/><stop offset="0.254" stop-color="#0013ff"/><stop offset="0.377" stop-color="#0000f5"/><stop offset="0.64" stop-color="#0000ba"/><stop offset="0.886" stop-color="#0000b7"/><stop offset="0.956" stop-color="#0000c2"/><stop offset="0.974" stop-color="#2020ca"/><stop offset="0.991" stop-color="#efeffb"/></linearGradient><linearGradient id="s75" x2="0" y2="1"><stop offset="0" stop-color="#efeff8"/><stop offset="0.026" stop-color="#20209a"/><stop offset="0.043" stop-color="#00008f"/><stop offset="0.06" stop-color="#00009c"/><stop offset="0.078" stop-color="#0004ec"/><stop offset="0.095" stop-color="#0016ff"/><stop offset="0.164" stop-color="#0024ff"/><stop offset="0.371" stop-color="#0000fa"/><stop offset="0.647" stop-color="#0000b9"/><stop offset="0.888" stop-color="#0000b2"/><stop offset="0.974" stop-color="#0000bf"/><stop offset="0.991" stop-color="#6060d8"/></linearGradient><linearGradient id="s76" x2="0" y2="1"><stop offset="0" stop-color="#3030a5"/><stop offset="0.025" stop-color="#000092"/><stop offset="0.042" stop-color="#00009a"/><stop offset="0.059" stop-color="#0003d1"/><stop offset="0.076" stop-color="#0015ff"/><stop offset="0.127" stop-color="#0027ff"/><stop offset="0.314" stop-color="#0008ff"/><stop offset="0.415" stop-color="#0000eb"/><stop offset="0.653" stop-color="#0000b5"/><stop offset="0.89" stop-color="#0000b0"/><stop offset="0.975" stop-color="#0000be"/><stop offset="0.992" stop-color="#bfbfee"/></linearGradient><linearGradient id="s77" x2="0" y2="1"><stop offset="0" stop-color="#8f8fd0"/><stop offset="0.025" stop-color="#000094"/><stop offset="0.041" stop-color="#00009a"/><stop offset="0.057" stop-color="#0000b5"/><stop offset="0.074" stop-color="#000ffb"/><stop offset="0.107" stop-color="#0029ff"/><stop offset="0.221" stop-color="#0020ff"/><stop offset="0.369" stop-color="#0000f9"/><stop offset="0.648" stop-color="#0000b4"/><stop offset="0.877" stop-color="#0000ab"/><stop offset="0.959" stop-color="#0000ba"/><stop offset="0.975" stop-color="#2020c4"/><stop offset="0.992" stop-color="#efeffb"/></linearGradient><linearGradient id="s78" x2="0" y2="1"><stop offset="0" stop-color="#cfcfeb"/><stop offset="0.024" stop-color="#000096"/><stop offset="0.056" stop-color="#0000a4"/><stop offset="0.073" stop-color="#000aed"/><stop offset="0.089" stop-color="#0021ff"/><stop offset="0.153" stop-color="#002eff"/><stop offset="0.379" stop-color="#0000f9"/><stop offset="0.653" stop-color="#0000b1"/><stop offset="0.879" stop-color="#0000a8"/><stop offset="0.976" stop-color="#0000b8"/><stop offset="0.992" stop-color="#7070d8"/></linearGradient><linearGradient id="s79" x2="0" y2="1"><stop offset="0" stop-color="#efeff9"/><stop offset="0.023" stop-color="#3030ac"/><stop offset="0.039" stop-color="#00009c"/><stop offset="0.055" stop-color="#0000a3"/><stop offset="0.07" stop-color="#0004ce"/><stop offset="0.086" stop-color="#0020ff"/><stop offset="0.133" stop-color="#0032ff"/><stop offset="0.305" stop-color="#0011ff"/><stop offset="0.398" stop-color="#0000f4"/><stop offset="0.648" stop-color="#0000b0"/><stop offset="0.867" stop-color="#0000a3"/><stop offset="0.961" stop-color="#0000b5"/><stop offset="0.977" stop-color="#1010bc"/><stop offset="0.992" stop-color="#dfdff6"/></linearGradient><linearGradient id="s80" x2="0" y2="1"><stop offset="0" stop-color="#8f8fd3"/><stop offset="0.023" stop-color="#00009d"/><stop offset="0.039" stop-color="#0000a2"/><stop offset="0.055" stop-color="#0000b5"/><stop offset="0.07" stop-color="#0014f8"/><stop offset="0.086" stop-color="#002bff"/><stop offset="0.148" stop-color="#0034ff"/><stop offset="0.383" stop-color="#0000f8"/><stop offset="0.648" stop-color="#0000ae"/><stop offset="0.867" stop-color="#00009f"/><stop offset="0.977" stop-color="#0000b4"/><stop offset="0.992" stop-color="#5050cd"/></linearGradient><linearGradient id="s81" x2="0" y2="1"><stop offset="0" stop-color="#afafe1"/><stop offset="0.023" stop-color="#00009f"/><stop offset="0.053" stop-color="#0000ab"/><stop offset="0.068" stop-color="#000be0"/><stop offset="0.083" stop-color="#0029ff"/><stop offset="0.129" stop-color="#0038ff"/><stop offset="0.295" stop-color="#0016ff"/><stop offset="0.386" stop-color="#0000f8"/><stop offset="0.644" stop-color="#0000ad"/><stop offset="0.856" stop-color="#00009c"/><stop offset="0.977" stop-color="#0000b4"/><stop offset="0.992" stop-color="#bfbfec"/></linearGradient><linearGradient id="s82" x2="0" y2="1"><stop offset="0" stop-color="#cfcfee"/><stop offset="0.022" stop-color="#1010aa"/><stop offset="0.037" stop-color="#0000a6"/><stop offset="0.052" stop-color="#0000ac"/><stop offset="0.067" stop-color="#0001bf"/><stop offset="0.082" stop-color="#0024ff"/><stop offset="0.112" stop-color="#003aff"/><stop offset="0.231" stop-color="#002bff"/><stop offset="0.381" stop-color="#0000fc"/><stop offset="0.649" stop-color="#0000ab"/><stop offset="0.873" stop-color="#000099"/><stop offset="0.978" stop-color="#0000b1"/><stop offset="0.993" stop-color="#5050cb"/></linearGradient><linearGradient id="s83" x2="0" y2="1"><stop offset="0" stop-color="#cfcff0"/><stop offset="0.022" stop-color="#1010af"/><stop offset="0.036" stop-color="#0000ab"/><stop offset="0.065" stop-color="#0000b6"/><stop offset="0.08" stop-color="#0012ea"/><stop offset="0.094" stop-color="#0031ff"/><stop offset="0.138" stop-color="#003fff"/><stop offset="0.312" stop-color="#0016ff"/><stop offset="0.399" stop-color="#0000f6"/><stop offset="0.645" stop-color="#0000aa"/><stop offset="0.862" stop-color="#000096"/><stop offset="0.978" stop-color="#0000b2"/><stop offset="0.993" stop-color="#bfbfec"/></linearGradient><linearGradient id="s84" x2="0" y2="1"><stop offset="0" stop-color="#afafe7"/><stop offset="0.021" stop-color="#1010b6"/><stop offset="0.036" stop-color="#0000b1"/><stop offset="0.064" stop-color="#0000b5"/><stop offset="0.079" stop-color="#0005cf"/><stop offset="0.093" stop-color="#002dff"/><stop offset="0.121" stop-color="#0040ff"/><stop offset="0.236" stop-color="#0030ff"/><stop offset="0.393" stop-color="#0000fb"/><stop offset="0.65" stop-color="#0000a9"/><stop offset="0.864" stop-color="#000092"/><stop offset="0.979" stop-color="#0000af"/><stop offset="0.993" stop-color="#5050ca"/></linearGradient><linearGradient id="s85" x2="0" y2="1"><stop offset="0" stop-color="#cfcff2"/><stop offset="0.021" stop-color="#0000b6"/><stop offset="0.076" stop-color="#0000c0"/><stop offset="0.09" stop-color="#0019ec"/><stop offset="0.104" stop-color="#003aff"/><stop offset="0.16" stop-color="#0044ff"/><stop offset="0.354" stop-color="#000cff"/><stop offset="0.424" stop-color="#0000f0"/><stop offset="0.66" stop-color="#0000a5"/><stop offset="0.854" stop-color="#00008f"/><stop offset="0.979" stop-color="#0000b1"/><stop offset="0.993" stop-color="#dfdff5"/></linearGradient><linearGradient id="s86" x2="0" y2="1"><stop offset="0" stop-color="#cfcff3"/><stop offset="0.021" stop-color="#1010c0"/><stop offset="0.034" stop-color="#0000bd"/><stop offset="0.075" stop-color="#0000c0"/><stop offset="0.089" stop-color="#0004d1"/><stop offset="0.103" stop-color="#0033ff"/><stop offset="0.13" stop-color="#0047ff"/><stop offset="0.226" stop-color="#003aff"/><stop offset="0.404" stop-color="#0000fb"/><stop offset="0.651" stop-color="#0000a6"/><stop offset="0.856" stop-color="#00008c"/><stop offset="0.979" stop-color="#0000ae"/><stop offset="0.993" stop-color="#7070d3"/></linearGradient><linearGradient id="s87" x2="0" y2="1"><stop offset="0" stop-color="#2020c8"/><stop offset="0.02" stop-color="#0000c1"/><stop offset="0.074" stop-color="#0000c6"/><stop offset="0.088" stop-color="#001eed"/><stop offset="0.101" stop-color="#0040ff"/><stop offset="0.155" stop-color="#004aff"/><stop offset="0.345" stop-color="#0010ff"/><stop offset="0.412" stop-color="#0000f5"/><stop offset="0.642" stop-color="#0000a6"/><stop offset="0.845" stop-color="#000089"/><stop offset="0.953" stop-color="#0000a5"/><stop offset="0.966" stop-color="#0000aa"/><stop offset="0.98" stop-color="#1010b4"/><stop offset="0.993" stop-color="#efeffa"/></linearGradient><linearGradient id="s88" x2="0" y2="1"><stop offset="0" stop-color="#0000c0"/><stop offset="0.061" stop-color="#0000c5"/><stop offset="0.074" stop-color="#0002d0"/><stop offset="0.088" stop-color="#0036fd"/><stop offset="0.101" stop-color="#0048ff"/><stop offset="0.169" stop-color="#004bff"/><stop offset="0.399" stop-color="#0000fa"/><stop offset="0.642" stop-color="#0000a5"/><stop offset="0.858" stop-color="#000087"/><stop offset="0.98" stop-color="#0000ad"/><stop offset="0.993" stop-color="#9f9fe2"/></linearGradient><linearGradient id="s89" x2="0" y2="1"><stop offset="0" stop-color="#2020c5"/><stop offset="0.02" stop-color="#0000c1"/><stop offset="0.061" stop-color="#0000c7"/><stop offset="0.074" stop-color="#0019e8"/><stop offset="0.088" stop-color="#0044ff"/><stop offset="0.128" stop-color="#0052ff"/><stop offset="0.264" stop-color="#002fff"/><stop offset="0.399" stop-color="#0000f9"/><stop offset="0.642" stop-color="#0000a4"/><stop offset="0.845" stop-color="#000084"/><stop offset="0.939" stop-color="#000098"/><stop offset="0.98" stop-color="#0000aa"/><stop offset="0.993" stop-color="#4040c4"/></linearGradient><linearGradient id="s90" x2="0" y2="1"><stop offset="0" stop-color="#afafe7"/><stop offset="0.02" stop-color="#0000ba"/><stop offset="0.06" stop-color="#0000c9"/><stop offset="0.073" stop-color="#0039fc"/><stop offset="0.087" stop-color="#004cff"/><stop offset="0.14" stop-color="#0053ff"/><stop offset="0.353" stop-color="#000aff"/><stop offset="0.42" stop-color="#0000ee"/><stop offset="0.647" stop-color="#0000a0"/><stop offset="0.847" stop-color="#000082"/><stop offset="0.94" stop-color="#000099"/><stop offset="0.98" stop-color="#0000ae"/><stop offset="0.993" stop-color="#bfbfec"/></linearGradient><linearGradient id="s91" x2="0" y2="1"><stop offset="0" stop-color="#6060cf"/><stop offset="0.02" stop-color="#0000b9"/><stop offset="0.034" stop-color="#0000bf"/><stop offset="0.047" stop-color="#0012dc"/><stop offset="0.061" stop-color="#0047ff"/><stop offset="0.101" stop-color="#0058ff"/><stop offset="0.236" stop-color="#0035ff"/><stop offset="0.385" stop-color="#0000f9"/><stop offset="0.628" stop-color="#0000a3"/><stop offset="0.845" stop-color="#000080"/><stop offset="0.926" stop-color="#000091"/><stop offset="0.98" stop-color="#0000ab"/><stop offset="0.993" stop-color="#7070d3"/></linearGradient><linearGradient id="s92" x2="0" y2="1"><stop offset="0" stop-color="#4040c1"/><stop offset="0.021" stop-color="#0000b9"/><stop offset="0.034" stop-color="#002ef0"/><stop offset="0.048" stop-color="#004fff"/><stop offset="0.103" stop-color="#0059ff"/><stop offset="0.295" stop-color="#001bff"/><stop offset="0.377" stop-color="#0000f9"/><stop offset="0.637" stop-color="#00009f"/><stop offset="0.829" stop-color="#000080"/><stop offset="0.911" stop-color="#000087"/><stop offset="0.979" stop-color="#0000a6"/><stop offset="0.993" stop-color="#2020b9"/></linearGradient><linearGradient id="s93" x2="0" y2="1"><stop offset="0" stop-color="#efeff9"/><stop offset="0.02" stop-color="#0004b1"/><stop offset="0.034" stop-color="#0048ff"/><stop offset="0.061" stop-color="#005bff"/><stop offset="0.155" stop-color="#004eff"/><stop offset="0.372" stop-color="#0000f9"/><stop offset="0.615" stop-color="#0000a2"/><stop offset="0.804" stop-color="#000080"/><stop offset="0.899" stop-color="#000084"/><stop offset="0.98" stop-color="#0000ac"/><stop offset="0.993" stop-color="#9f9fe2"/></linearGradient><linearGradient id="s94" x2="0" y2="1"><stop offset="0" stop-color="#607bec"/><stop offset="0.021" stop-color="#0050ff"/><stop offset="0.062" stop-color="#0060ff"/><stop offset="0.185" stop-color="#0041ff"/><stop offset="0.363" stop-color="#0000f9"/><stop offset="0.61" stop-color="#0000a2"/><stop offset="0.801" stop-color="#000080"/><stop offset="0.911" stop-color="#000086"/><stop offset="0.979" stop-color="#0000a8"/><stop offset="0.993" stop-color="#6060ce"/></linearGradient><linearGradient id="s95" x2="0" y2="1"><stop offset="0" stop-color="#3069ff"/><stop offset="0.02" stop-color="#0057ff"/><stop offset="0.074" stop-color="#0061ff"/><stop offset="0.236" stop-color="#002cff"/><stop offset="0.358" stop-color="#0000f9"/><stop offset="0.601" stop-color="#0000a2"/><stop offset="0.777" stop-color="#000080"/><stop offset="0.912" stop-color="#000087"/><stop offset="0.966" stop-color="#0000a4"/><stop offset="0.98" stop-color="#1010b4"/><stop offset="0.993" stop-color="#efeffa"/></linearGradient><linearGradient id="s96" x2="0" y2="1"><stop offset="0" stop-color="#dfe6ff"/><stop offset="0.02" stop-color="#004eff"/><stop offset="0.047" stop-color="#0062ff"/><stop offset="0.127" stop-color="#005aff"/><stop offset="0.353" stop-color="#0000fe"/><stop offset="0.62" stop-color="#00009e"/><stop offset="0.78" stop-color="#000080"/><stop offset="0.913" stop-color="#000084"/><stop offset="0.98" stop-color="#0000aa"/><stop offset="0.993" stop-color="#9f9fe3"/></linearGradient><linearGradient id="s97" x2="0" y2="1"><stop offset="0" stop-color="#8facff"/><stop offset="0.02" stop-color="#0055ff"/><stop offset="0.06" stop-color="#0067ff"/><stop offset="0.167" stop-color="#004eff"/><stop offset="0.367" stop-color="#0000f9"/><stop offset="0.62" stop-color="#00009e"/><stop offset="0.78" stop-color="#000080"/><stop offset="0.927" stop-color="#000086"/><stop offset="0.98" stop-color="#0000a6"/><stop offset="0.993" stop-color="#5050ca"/></linearGradient><linearGradient id="s98" x2="0" y2="1"><stop offset="0" stop-color="#5083ff"/><stop offset="0.02" stop-color="#005bff"/><stop offset="0.072" stop-color="#0069ff"/><stop offset="0.217" stop-color="#003aff"/><stop offset="0.362" stop-color="#0000fa"/><stop offset="0.612" stop-color="#00009f"/><stop offset="0.757" stop-color="#000080"/><stop offset="0.914" stop-color="#000083"/><stop offset="0.967" stop-color="#0000a0"/><stop offset="0.98" stop-color="#0000af"/><stop offset="0.993" stop-color="#efeffa"/></linearGradient><linearGradient id="s99" x2="0" y2="1"><stop offset="0" stop-color="#004fff"/><stop offset="0.033" stop-color="#0068ff"/><stop offset="0.099" stop-color="#0066ff"/><stop offset="0.362" stop-color="#0000fa"/><stop offset="0.625" stop-color="#00009b"/><stop offset="0.757" stop-color="#000080"/><stop offset="0.928" stop-color="#000086"/><stop offset="0.98" stop-color="#0000a9"/><stop offset="0.993" stop-color="#9f9fe4"/></linearGradient><linearGradient id="s100" x2="0" y2="1"><stop offset="0" stop-color="#bfd0ff"/><stop offset="0.019" stop-color="#0056ff"/><stop offset="0.058" stop-color="#006eff"/><stop offset="0.149" stop-color="#005cff"/><stop offset="0.37" stop-color="#0000fb"/><stop offset="0.617" stop-color="#00009f"/><stop offset="0.76" stop-color="#000080"/><stop offset="0.929" stop-color="#000082"/><stop offset="0.981" stop-color="#0000a4"/><stop offset="0.994" stop-color="#6060d0"/></linearGradient><linearGradient id="s101" x2="0" y2="1"><stop offset="0" stop-color="#80a5ff"/><stop offset="0.019" stop-color="#005cff"/><stop offset="0.058" stop-color="#0071ff"/><stop offset="0.162" stop-color="#0059ff"/><stop offset="0.37" stop-color="#0000fc"/><stop offset="0.63" stop-color="#00009c"/><stop offset="0.76" stop-color="#000080"/><stop offset="0.942" stop-color="#000085"/><stop offset="0.981" stop-color="#00009e"/><stop offset="0.994" stop-color="#2020ba"/></linearGradient><linearGradient id="s102" x2="0" y2="1"><stop offset="0" stop-color="#407aff"/><stop offset="0.019" stop-color="#0060ff"/><stop offset="0.058" stop-color="#0074ff"/><stop offset="0.147" stop-color="#005fff"/><stop offset="0.365" stop-color="#0000fd"/><stop offset="0.635" stop-color="#000098"/><stop offset="0.75" stop-color="#000080"/><stop offset="0.929" stop-color="#000082"/><stop offset="0.968" stop-color="#000099"/><stop offset="0.981" stop-color="#0000ab"/><stop offset="0.994" stop-color="#cfcff2"/></linearGradient><linearGradient id="s103" x2="0" y2="1"><stop offset="0" stop-color="#105cff"/><stop offset="0.019" stop-color="#0064ff"/><stop offset="0.058" stop-color="#0078ff"/><stop offset="0.147" stop-color="#0062ff"/><stop offset="0.378" stop-color="#0000f9"/><stop offset="0.66" stop-color="#000092"/><stop offset="0.75" stop-color="#000080"/><stop offset="0.942" stop-color="#000085"/><stop offset="0.981" stop-color="#0000a3"/><stop offset="0.994" stop-color="#8f8fe0"/></linearGradient><linearGradient id="s104" x2="0" y2="1"><stop offset="0" stop-color="#bfccfc"/><stop offset="0.019" stop-color="#0057ff"/><stop offset="0.057" stop-color="#0079ff"/><stop offset="0.12" stop-color="#0073ff"/><stop offset="0.386" stop-color="#0000fb"/><stop offset="0.652" stop-color="#000096"/><stop offset="0.753" stop-color="#000080"/><stop offset="0.943" stop-color="#000082"/><stop offset="0.981" stop-color="#00009e"/><stop offset="0.994" stop-color="#5050cb"/></linearGradient><linearGradient id="s105" x2="0" y2="1"><stop offset="0" stop-color="#efeffd"/><stop offset="0.019" stop-color="#1026ee"/><stop offset="0.031" stop-color="#005bff"/><stop offset="0.069" stop-color="#007eff"/><stop offset="0.131" stop-color="#0077ff"/><stop offset="0.394" stop-color="#0000fc"/><stop offset="0.681" stop-color="#00008e"/><stop offset="0.769" stop-color="#000080"/><stop offset="0.956" stop-color="#000085"/><stop offset="0.981" stop-color="#000098"/><stop offset="0.994" stop-color="#1010b4"/></linearGradient><linearGradient id="s106" x2="0" y2="1"><stop offset="0" stop-color="#6060ee"/><stop offset="0.019" stop-color="#002efe"/><stop offset="0.031" stop-color="#005fff"/><stop offset="0.068" stop-color="#0084ff"/><stop offset="0.13" stop-color="#007bff"/><stop offset="0.401" stop-color="#0000fa"/><stop offset="0.673" stop-color="#00008f"/><stop offset="0.747" stop-color="#000080"/><stop offset="0.944" stop-color="#000082"/><stop offset="0.969" stop-color="#000094"/><stop offset="0.981" stop-color="#0000a7"/><stop offset="0.994" stop-color="#cfcff3"/></linearGradient><linearGradient id="s107" x2="0" y2="1"><stop offset="0" stop-color="#6060ed"/><stop offset="0.018" stop-color="#0004f9"/><stop offset="0.03" stop-color="#0043ff"/><stop offset="0.043" stop-color="#0064ff"/><stop offset="0.079" stop-color="#008bff"/><stop offset="0.14" stop-color="#0080ff"/><stop offset="0.409" stop-color="#0000fd"/><stop offset="0.665" stop-color="#000094"/><stop offset="0.75" stop-color="#000080"/><stop offset="0.957" stop-color="#000086"/><stop offset="0.982" stop-color="#00009f"/><stop offset="0.994" stop-color="#9f9fe7"/></linearGradient><linearGradient id="s108" x2="0" y2="1"><stop offset="0" stop-color="#8080f3"/><stop offset="0.018" stop-color="#0002f8"/><stop offset="0.03" stop-color="#0018ff"/><stop offset="0.042" stop-color="#004dff"/><stop offset="0.078" stop-color="#0090ff"/><stop offset="0.114" stop-color="#0092ff"/><stop offset="0.428" stop-color="#0000fa"/><stop offset="0.693" stop-color="#00008c"/><stop offset="0.765" stop-color="#000080"/><stop offset="0.958" stop-color="#000083"/><stop offset="0.982" stop-color="#000098"/><stop offset="0.994" stop-color="#7070d7"/></linearGradient><linearGradient id="s109" x2="0" y2="1"><stop offset="0" stop-color="#9f9ffa"/><stop offset="0.018" stop-color="#0002f9"/><stop offset="0.03" stop-color="#000eff"/><stop offset="0.054" stop-color="#0053ff"/><stop offset="0.089" stop-color="#009eff"/><stop offset="0.149" stop-color="#008fff"/><stop offset="0.435" stop-color="#0001fd"/><stop offset="0.696" stop-color="#00008d"/><stop offset="0.768" stop-color="#000080"/><stop offset="0.958" stop-color="#000081"/><stop offset="0.982" stop-color="#000094"/><stop offset="0.994" stop-color="#4040c3"/></linearGradient><linearGradient id="s110" x2="0" y2="1"><stop offset="0" stop-color="#9fa0fd"/><stop offset="0.018" stop-color="#0005fd"/><stop offset="0.041" stop-color="#001cff"/><stop offset="0.076" stop-color="#0073ff"/><stop offset="0.088" stop-color="#00a8ff"/><stop offset="0.112" stop-color="#00abff"/><stop offset="0.453" stop-color="#0000fb"/><stop offset="0.688" stop-color="#000091"/><stop offset="0.759" stop-color="#000080"/><stop offset="0.971" stop-color="#000084"/><stop offset="0.982" stop-color="#00008e"/><stop offset="0.994" stop-color="#0000ad"/></linearGradient><linearGradient id="s111" x2="0" y2="1"><stop offset="0" stop-color="#8f91fe"/><stop offset="0.017" stop-color="#000aff"/><stop offset="0.052" stop-color="#0029ff"/><stop offset="0.063" stop-color="#003fff"/><stop offset="0.075" stop-color="#0069ff"/><stop offset="0.086" stop-color="#00acff"/><stop offset="0.098" stop-color="#00baff"/><stop offset="0.27" stop-color="#0066ff"/><stop offset="0.454" stop-color="#0001fc"/><stop offset="0.707" stop-color="#00008a"/><stop offset="0.787" stop-color="#000080"/><stop offset="0.96" stop-color="#000082"/><stop offset="0.971" stop-color="#00008b"/><stop offset="0.983" stop-color="#0000a5"/><stop offset="0.994" stop-color="#bfbff1"/></linearGradient><linearGradient id="s112" x2="0" y2="1"><stop offset="0" stop-color="#efeffe"/><stop offset="0.017" stop-color="#5057fe"/><stop offset="0.028" stop-color="#0014ff"/><stop offset="0.073" stop-color="#0033ff"/><stop offset="0.084" stop-color="#006eff"/><stop offset="0.096" stop-color="#00c2ff"/><stop offset="0.107" stop-color="#00cbff"/><stop offset="0.478" stop-color="#0000fc"/><stop offset="0.713" stop-color="#00008a"/><stop offset="0.792" stop-color="#000080"/><stop offset="0.961" stop-color="#000080"/><stop offset="0.983" stop-color="#000097"/><stop offset="0.994" stop-color="#8f8fe8"/></linearGradient><linearGradient id="s113" x2="0" y2="1"><stop offset="0" stop-color="#eff0ff"/><stop offset="0.017" stop-color="#303fff"/><stop offset="0.028" stop-color="#001dff"/><stop offset="0.061" stop-color="#002aff"/><stop offset="0.072" stop-color="#0044ff"/><stop offset="0.083" stop-color="#00a8ff"/><stop offset="0.094" stop-color="#00dbff"/><stop offset="0.239" stop-color="#0091ff"/><stop offset="0.494" stop-color="#0000f9"/><stop offset="0.717" stop-color="#00008a"/><stop offset="0.794" stop-color="#000080"/><stop offset="0.972" stop-color="#000084"/><stop offset="0.983" stop-color="#000091"/><stop offset="0.994" stop-color="#6060df"/></linearGradient><linearGradient id="s114" x2="0" y2="1"><stop offset="0" stop-color="#afb7ff"/><stop offset="0.016" stop-color="#102dff"/><stop offset="0.027" stop-color="#0026ff"/><stop offset="0.049" stop-color="#002eff"/><stop offset="0.06" stop-color="#003cff"/><stop offset="0.082" stop-color="#00e3ff"/><stop offset="0.093" stop-color="#00edff"/><stop offset="0.346" stop-color="#005dff"/><stop offset="0.5" stop-color="#0000fc"/><stop offset="0.731" stop-color="#000087"/><stop offset="0.885" stop-color="#000080"/><stop offset="0.973" stop-color="#000082"/><stop offset="0.984" stop-color="#00008d"/><stop offset="0.995" stop-color="#3030c9"/></linearGradient><linearGradient id="s115" x2="0" y2="1"><stop offset="0" stop-color="#7085ff"/><stop offset="0.016" stop-color="#002dff"/><stop offset="0.049" stop-color="#0143fe"/><stop offset="0.06" stop-color="#0580fa"/><stop offset="0.071" stop-color="#07f2f8"/><stop offset="0.082" stop-color="#05fefa"/><stop offset="0.234" stop-color="#00aeff"/><stop offset="0.505" stop-color="#0002fe"/><stop offset="0.745" stop-color="#000083"/><stop offset="0.973" stop-color="#000081"/><stop offset="0.984" stop-color="#000089"/><stop offset="0.995" stop-color="#0000c1"/></linearGradient><linearGradient id="s116" x2="0" y2="1"><stop offset="0" stop-color="#bfc9ff"/><stop offset="0.016" stop-color="#204dff"/><stop offset="0.026" stop-color="#003fff"/><stop offset="0.037" stop-color="#0042ff"/><stop offset="0.047" stop-color="#0559fa"/><stop offset="0.058" stop-color="#0f9ff0"/><stop offset="0.068" stop-color="#1bf3e4"/><stop offset="0.079" stop-color="#19ffe6"/><stop offset="0.142" stop-color="#00f6ff"/><stop offset="0.521" stop-color="#0002fc"/><stop offset="0.742" stop-color="#000084"/><stop offset="0.974" stop-color="#000086"/><stop offset="0.984" stop-color="#0000b3"/><stop offset="0.995" stop-color="#cfcff3"/></linearGradient><linearGradient id="s117" x2="0" y2="1"><stop offset="0" stop-color="#eff6ff"/><stop offset="0.015" stop-color="#bfe0ff"/><stop offset="0.025" stop-color="#afd6ff"/><stop offset="0.035" stop-color="#70adff"/><stop offset="0.045" stop-color="#005bff"/><stop offset="0.056" stop-color="#0063ff"/><stop offset="0.066" stop-color="#0c77f3"/><stop offset="0.086" stop-color="#36ffc9"/><stop offset="0.187" stop-color="#00f8ff"/><stop offset="0.389" stop-color="#006eff"/><stop offset="0.551" stop-color="#0000fb"/><stop offset="0.742" stop-color="#00008a"/><stop offset="0.813" stop-color="#000080"/><stop offset="0.975" stop-color="#000083"/><stop offset="0.985" stop-color="#0000b4"/><stop offset="0.995" stop-color="#afafee"/></linearGradient><linearGradient id="s118" x2="0" y2="1"><stop offset="0" stop-color="#e2fdfc"/><stop offset="0.014" stop-color="#c1f8fd"/><stop offset="0.032" stop-color="#bff3ff"/><stop offset="0.041" stop-color="#80efff"/><stop offset="0.05" stop-color="#80deff"/><stop offset="0.059" stop-color="#80e1ff"/><stop offset="0.068" stop-color="#40c9ff"/><stop offset="0.077" stop-color="#40c6ff"/><stop offset="0.086" stop-color="#30b7ff"/><stop offset="0.095" stop-color="#00a1ff"/><stop offset="0.123" stop-color="#0088ff"/><stop offset="0.132" stop-color="#0685fa"/><stop offset="0.15" stop-color="#3ed9c1"/><stop offset="0.159" stop-color="#4cffb3"/><stop offset="0.277" stop-color="#02f9fd"/><stop offset="0.595" stop-color="#0000fe"/><stop offset="0.768" stop-color="#00008b"/><stop offset="0.823" stop-color="#000080"/><stop offset="0.977" stop-color="#000081"/><stop offset="0.986" stop-color="#0000b0"/><stop offset="0.995" stop-color="#8080e6"/></linearGradient><linearGradient id="s119" x2="0" y2="1"><stop offset="0" stop-color="#dbffe3"/><stop offset="0.02" stop-color="#d6ffe8"/><stop offset="0.028" stop-color="#a4ffda"/><stop offset="0.037" stop-color="#a7ffd8"/><stop offset="0.045" stop-color="#9cffe2"/><stop offset="0.053" stop-color="#7affd4"/><stop offset="0.061" stop-color="#66ffd9"/><stop offset="0.069" stop-color="#54ffeb"/><stop offset="0.077" stop-color="#49ffe5"/><stop offset="0.085" stop-color="#1cfde3"/><stop offset="0.093" stop-color="#17ffe8"/><stop offset="0.118" stop-color="#02eefd"/><stop offset="0.126" stop-color="#00eeff"/><stop offset="0.134" stop-color="#00deff"/><stop offset="0.142" stop-color="#00e1ff"/><stop offset="0.159" stop-color="#00c0ff"/><stop offset="0.175" stop-color="#00bcff"/><stop offset="0.191" stop-color="#0099ff"/><stop offset="0.199" stop-color="#0097ff"/><stop offset="0.224" stop-color="#5ff6a0"/><stop offset="0.248" stop-color="#59ffa6"/><stop offset="0.362" stop-color="#00f9ff"/><stop offset="0.541" stop-color="#005dff"/><stop offset="0.573" stop-color="#003aff"/><stop offset="0.646" stop-color="#0000fb"/><stop offset="0.793" stop-color="#00008c"/><stop offset="0.841" stop-color="#000080"/><stop offset="0.98" stop-color="#000080"/><stop offset="0.988" stop-color="#00009f"/><stop offset="0.996" stop-color="#6060e2"/></linearGradient><linearGradient id="s120" x2="0" y2="1"><stop offset="0" stop-color="#e9ffe5"/><stop offset="0.012" stop-color="#b5ffa9"/><stop offset="0.02" stop-color="#8bff94"/><stop offset="0.028" stop-color="#73ff8c"/><stop offset="0.035" stop-color="#76ff89"/><stop offset="0.043" stop-color="#6aff95"/><stop offset="0.051" stop-color="#50ffaf"/><stop offset="0.075" stop-color="#4bffb4"/><stop offset="0.091" stop-color="#21ffde"/><stop offset="0.122" stop-color="#15feea"/><stop offset="0.138" stop-color="#00edff"/><stop offset="0.169" stop-color="#00daff"/><stop offset="0.177" stop-color="#00c6ff"/><stop offset="0.201" stop-color="#00b6ff"/><stop offset="0.209" stop-color="#09b2f6"/><stop offset="0.217" stop-color="#3dc6c2"/><stop offset="0.224" stop-color="#73f28c"/><stop offset="0.232" stop-color="#7eff81"/><stop offset="0.35" stop-color="#20ffdf"/><stop offset="0.39" stop-color="#01fbfe"/><stop offset="0.5" stop-color="#0096ff"/><stop offset="0.531" stop-color="#0075ff"/><stop offset="0.657" stop-color="#0002fd"/><stop offset="0.815" stop-color="#000083"/><stop offset="0.98" stop-color="#000080"/><stop offset="0.988" stop-color="#00009e"/><stop offset="0.996" stop-color="#4040e0"/></linearGradient><linearGradient id="s121" x2="0" y2="1"><stop offset="0" stop-color="#eefff0"/><stop offset="0.028" stop-color="#b3ffcc"/><stop offset="0.036" stop-color="#abffd3"/><stop offset="0.044" stop-color="#7affc5"/><stop offset="0.052" stop-color="#82ffbd"/><stop offset="0.06" stop-color="#71ffce"/><stop offset="0.068" stop-color="#36ffc9"/><stop offset="0.108" stop-color="#14fcea"/><stop offset="0.124" stop-color="#00f0ff"/><stop offset="0.14" stop-color="#00f7ff"/><stop offset="0.156" stop-color="#00cdff"/><stop offset="0.172" stop-color="#00ccff"/><stop offset="0.188" stop-color="#70e58f"/><stop offset="0.196" stop-color="#9dff62"/><stop offset="0.332" stop-color="#2effd1"/><stop offset="0.388" stop-color="#01fafe"/><stop offset="0.46" stop-color="#00baff"/><stop offset="0.508" stop-color="#0088ff"/><stop offset="0.532" stop-color="#0075ff"/><stop offset="0.54" stop-color="#0066ff"/><stop offset="0.588" stop-color="#0040ff"/><stop offset="0.62" stop-color="#001eff"/><stop offset="0.66" stop-color="#0000f8"/><stop offset="0.812" stop-color="#000085"/><stop offset="0.98" stop-color="#000080"/><stop offset="0.988" stop-color="#00009d"/><stop offset="0.996" stop-color="#0000d5"/></linearGradient><linearGradient id="s122" x2="0" y2="1"><stop offset="0" stop-color="#c5fff9"/><stop offset="0.013" stop-color="#c0fffe"/><stop offset="0.022" stop-color="#cafef4"/><stop offset="0.031" stop-color="#90f9fe"/><stop offset="0.039" stop-color="#82fdfc"/><stop offset="0.048" stop-color="#75f4fa"/><stop offset="0.057" stop-color="#40edfe"/><stop offset="0.066" stop-color="#40ddff"/><stop offset="0.075" stop-color="#35f0da"/><stop offset="0.083" stop-color="#6ae895"/><stop offset="0.092" stop-color="#aefb51"/><stop offset="0.11" stop-color="#afff50"/><stop offset="0.259" stop-color="#3dffc2"/><stop offset="0.329" stop-color="#03fbfc"/><stop offset="0.355" stop-color="#00ecff"/><stop offset="0.364" stop-color="#00deff"/><stop offset="0.373" stop-color="#00ddff"/><stop offset="0.443" stop-color="#009bff"/><stop offset="0.478" stop-color="#007aff"/><stop offset="0.487" stop-color="#007aff"/><stop offset="0.496" stop-color="#006bff"/><stop offset="0.627" stop-color="#0002fb"/><stop offset="0.794" stop-color="#000086"/><stop offset="0.978" stop-color="#000080"/><stop offset="0.987" stop-color="#000096"/><stop offset="0.996" stop-color="#0000dc"/></linearGradient><linearGradient id="s123" x2="0" y2="1"><stop offset="0" stop-color="#fdfff1"/><stop offset="0.014" stop-color="#f3ffac"/><stop offset="0.023" stop-color="#d9ff46"/><stop offset="0.032" stop-color="#d2ff2d"/><stop offset="0.186" stop-color="#64ff9b"/><stop offset="0.268" stop-color="#21ffde"/><stop offset="0.277" stop-color="#12ffed"/><stop offset="0.314" stop-color="#00f5ff"/><stop offset="0.423" stop-color="#009cff"/><stop offset="0.432" stop-color="#008dff"/><stop offset="0.441" stop-color="#008dff"/><stop offset="0.45" stop-color="#007dff"/><stop offset="0.459" stop-color="#007eff"/><stop offset="0.468" stop-color="#006fff"/><stop offset="0.605" stop-color="#0004fd"/><stop offset="0.786" stop-color="#000082"/><stop offset="0.977" stop-color="#000082"/><stop offset="0.986" stop-color="#0000e2"/><stop offset="0.995" stop-color="#bfbfee"/></linearGradient><linearGradient id="s124" x2="0" y2="1"><stop offset="0" stop-color="#fdffb1"/><stop offset="0.022" stop-color="#efff10"/><stop offset="0.174" stop-color="#7eff82"/><stop offset="0.317" stop-color="#02fcfd"/><stop offset="0.326" stop-color="#00fdfe"/><stop offset="0.335" stop-color="#00efff"/><stop offset="0.344" stop-color="#00eeff"/><stop offset="0.353" stop-color="#00dfff"/><stop offset="0.362" stop-color="#00deff"/><stop offset="0.371" stop-color="#00d0ff"/><stop offset="0.379" stop-color="#00d0ff"/><stop offset="0.388" stop-color="#00c1ff"/><stop offset="0.397" stop-color="#00c0ff"/><stop offset="0.406" stop-color="#00b0ff"/><stop offset="0.415" stop-color="#00b0ff"/><stop offset="0.424" stop-color="#00a0ff"/><stop offset="0.433" stop-color="#00a0ff"/><stop offset="0.442" stop-color="#0091ff"/><stop offset="0.451" stop-color="#0091ff"/><stop offset="0.46" stop-color="#0081ff"/><stop offset="0.469" stop-color="#0082ff"/><stop offset="0.478" stop-color="#0072ff"/><stop offset="0.487" stop-color="#0072ff"/><stop offset="0.496" stop-color="#0063ff"/><stop offset="0.621" stop-color="#0001fa"/><stop offset="0.79" stop-color="#000083"/><stop offset="0.978" stop-color="#000081"/><stop offset="0.987" stop-color="#0000e7"/><stop offset="0.996" stop-color="#bfbff1"/></linearGradient><linearGradient id="s125" x2="0" y2="1"><stop offset="0" stop-color="#eff9ef"/><stop offset="0.013" stop-color="#fff78f"/><stop offset="0.022" stop-color="#fff620"/><stop offset="0.03" stop-color="#fdf902"/><stop offset="0.083" stop-color="#e1ff1e"/><stop offset="0.204" stop-color="#7eff82"/><stop offset="0.23" stop-color="#61ff9e"/><stop offset="0.239" stop-color="#60ff9e"/><stop offset="0.248" stop-color="#53ffac"/><stop offset="0.257" stop-color="#52ffad"/><stop offset="0.265" stop-color="#43ffbc"/><stop offset="0.274" stop-color="#42ffbe"/><stop offset="0.283" stop-color="#34ffcc"/><stop offset="0.309" stop-color="#22ffdc"/><stop offset="0.317" stop-color="#14ffeb"/><stop offset="0.326" stop-color="#12ffed"/><stop offset="0.335" stop-color="#04fffb"/><stop offset="0.361" stop-color="#00f4ff"/><stop offset="0.37" stop-color="#00e3ff"/><stop offset="0.378" stop-color="#00e4ff"/><stop offset="0.387" stop-color="#00d4ff"/><stop offset="0.396" stop-color="#00d5ff"/><stop offset="0.404" stop-color="#00c3ff"/><stop offset="0.413" stop-color="#00c5ff"/><stop offset="0.422" stop-color="#00b3ff"/><stop offset="0.43" stop-color="#00b4ff"/><stop offset="0.439" stop-color="#00a4ff"/><stop offset="0.448" stop-color="#00a4ff"/><stop offset="0.457" stop-color="#0095ff"/><stop offset="0.465" stop-color="#0094ff"/><stop offset="0.474" stop-color="#0086ff"/><stop offset="0.483" stop-color="#0085ff"/><stop offset="0.491" stop-color="#0076ff"/><stop offset="0.5" stop-color="#0075ff"/><stop offset="0.509" stop-color="#0066ff"/><stop offset="0.517" stop-color="#0066ff"/><stop offset="0.526" stop-color="#0056ff"/><stop offset="0.535" stop-color="#0056ff"/><stop offset="0.63" stop-color="#0003fc"/><stop offset="0.804" stop-color="#000080"/><stop offset="0.978" stop-color="#000080"/><stop offset="0.987" stop-color="#0000ed"/><stop offset="0.996" stop-color="#8f8fe5"/></linearGradient><linearGradient id="s126" x2="0" y2="1"><stop offset="0" stop-color="#edfff2"/><stop offset="0.012" stop-color="#d1ffee"/><stop offset="0.02" stop-color="#d6ffe8"/><stop offset="0.027" stop-color="#cdfff1"/><stop offset="0.035" stop-color="#9dffe1"/><stop offset="0.051" stop-color="#90ffee"/><stop offset="0.059" stop-color="#7bfdf3"/><stop offset="0.066" stop-color="#5cffe3"/><stop offset="0.074" stop-color="#4cfdf3"/><stop offset="0.082" stop-color="#48f8f7"/><stop offset="0.09" stop-color="#48eeb7"/><stop offset="0.105" stop-color="#ffdd00"/><stop offset="0.16" stop-color="#f8fe07"/><stop offset="0.254" stop-color="#a4ff5b"/><stop offset="0.262" stop-color="#96ff69"/><stop offset="0.402" stop-color="#0afff5"/><stop offset="0.426" stop-color="#00f5ff"/><stop offset="0.434" stop-color="#00e8ff"/><stop offset="0.441" stop-color="#00e9ff"/><stop offset="0.449" stop-color="#00d7ff"/><stop offset="0.457" stop-color="#00d8ff"/><stop offset="0.465" stop-color="#00c7ff"/><stop offset="0.473" stop-color="#00c8ff"/><stop offset="0.48" stop-color="#00b8ff"/><stop offset="0.488" stop-color="#00b7ff"/><stop offset="0.66" stop-color="#0009ff"/><stop offset="0.707" stop-color="#0000de"/><stop offset="0.824" stop-color="#000081"/><stop offset="0.98" stop-color="#000080"/><stop offset="0.988" stop-color="#0000f2"/><stop offset="0.996" stop-color="#8080e5"/></linearGradient><linearGradient id="s127" x2="0" y2="1"><stop offset="0" stop-color="#eeffe1"/><stop offset="0.011" stop-color="#cdffb1"/><stop offset="0.018" stop-color="#cbffb4"/><stop offset="0.026" stop-color="#b3ff9c"/><stop offset="0.033" stop-color="#a0ff9e"/><stop offset="0.04" stop-color="#9fff9f"/><stop offset="0.047" stop-color="#70ff8f"/><stop offset="0.055" stop-color="#73ff8c"/><stop offset="0.069" stop-color="#54ffab"/><stop offset="0.091" stop-color="#46ffb9"/><stop offset="0.106" stop-color="#28ffd7"/><stop offset="0.12" stop-color="#27ffd8"/><stop offset="0.128" stop-color="#16ffe9"/><stop offset="0.135" stop-color="#62e69d"/><stop offset="0.142" stop-color="#d0ce2f"/><stop offset="0.15" stop-color="#ffca00"/><stop offset="0.223" stop-color="#f9fe06"/><stop offset="0.325" stop-color="#92ff6d"/><stop offset="0.332" stop-color="#83ff7c"/><stop offset="0.339" stop-color="#82ff7c"/><stop offset="0.347" stop-color="#74ff8b"/><stop offset="0.354" stop-color="#73ff8c"/><stop offset="0.361" stop-color="#64ff9b"/><stop offset="0.456" stop-color="#00fcff"/><stop offset="0.464" stop-color="#00fbff"/><stop offset="0.471" stop-color="#00ebff"/><stop offset="0.478" stop-color="#00ecff"/><stop offset="0.485" stop-color="#00daff"/><stop offset="0.493" stop-color="#00dbff"/><stop offset="0.5" stop-color="#00ccff"/><stop offset="0.602" stop-color="#0062ff"/><stop offset="0.69" stop-color="#0005ff"/><stop offset="0.836" stop-color="#000081"/><stop offset="0.982" stop-color="#000080"/><stop offset="0.989" stop-color="#0000f6"/><stop offset="0.996" stop-color="#8080e8"/></linearGradient><linearGradient id="s128" x2="0" y2="1"><stop offset="0" stop-color="#d8ffb7"/><stop offset="0.011" stop-color="#cfffb0"/><stop offset="0.018" stop-color="#afff90"/><stop offset="0.026" stop-color="#a9ff96"/><stop offset="0.033" stop-color="#8cff73"/><stop offset="0.055" stop-color="#6bff94"/><stop offset="0.069" stop-color="#60ff9f"/><stop offset="0.077" stop-color="#4cffb3"/><stop offset="0.099" stop-color="#44ffbb"/><stop offset="0.106" stop-color="#2bffd4"/><stop offset="0.113" stop-color="#3ef4c1"/><stop offset="0.12" stop-color="#90d16f"/><stop offset="0.128" stop-color="#f1b50e"/><stop offset="0.135" stop-color="#ffb200"/><stop offset="0.23" stop-color="#fafe05"/><stop offset="0.274" stop-color="#c7ff38"/><stop offset="0.281" stop-color="#c6ff38"/><stop offset="0.288" stop-color="#b6ff49"/><stop offset="0.296" stop-color="#b5ff4a"/><stop offset="0.303" stop-color="#a7ff58"/><stop offset="0.31" stop-color="#a7ff58"/><stop offset="0.318" stop-color="#98ff68"/><stop offset="0.325" stop-color="#97ff68"/><stop offset="0.332" stop-color="#88ff78"/><stop offset="0.339" stop-color="#89ff76"/><stop offset="0.347" stop-color="#77ff88"/><stop offset="0.354" stop-color="#79ff86"/><stop offset="0.361" stop-color="#66ff99"/><stop offset="0.369" stop-color="#68ff97"/><stop offset="0.376" stop-color="#56ffa9"/><stop offset="0.383" stop-color="#57ffa8"/><stop offset="0.442" stop-color="#11ffee"/><stop offset="0.449" stop-color="#10ffef"/><stop offset="0.456" stop-color="#00ffff"/><stop offset="0.464" stop-color="#00ffff"/><stop offset="0.471" stop-color="#00efff"/><stop offset="0.478" stop-color="#00eeff"/><stop offset="0.507" stop-color="#00ccff"/><stop offset="0.558" stop-color="#0097ff"/><stop offset="0.566" stop-color="#0088ff"/><stop offset="0.573" stop-color="#0087ff"/><stop offset="0.609" stop-color="#0059ff"/><stop offset="0.697" stop-color="#0003fe"/><stop offset="0.836" stop-color="#000082"/><stop offset="0.982" stop-color="#000080"/><stop offset="0.989" stop-color="#0002f8"/><stop offset="0.996" stop-color="#4040da"/></linearGradient><linearGradient id="s129" x2="0" y2="1"><stop offset="0" stop-color="#dbffe3"/><stop offset="0.012" stop-color="#deffe1"/><stop offset="0.019" stop-color="#d3ffeb"/><stop offset="0.027" stop-color="#b1ffce"/><stop offset="0.035" stop-color="#a8ffd7"/><stop offset="0.042" stop-color="#8effe0"/><stop offset="0.05" stop-color="#70f1af"/><stop offset="0.058" stop-color="#b6bc49"/><stop offset="0.065" stop-color="#ff9700"/><stop offset="0.196" stop-color="#f9ff06"/><stop offset="0.204" stop-color="#eaff15"/><stop offset="0.212" stop-color="#e9ff16"/><stop offset="0.219" stop-color="#dbff24"/><stop offset="0.258" stop-color="#baff45"/><stop offset="0.296" stop-color="#8dff72"/><stop offset="0.304" stop-color="#8eff71"/><stop offset="0.312" stop-color="#7cff83"/><stop offset="0.319" stop-color="#7cff83"/><stop offset="0.327" stop-color="#6bff94"/><stop offset="0.335" stop-color="#6bff94"/><stop offset="0.358" stop-color="#4cffb2"/><stop offset="0.404" stop-color="#23ffdc"/><stop offset="0.412" stop-color="#13ffec"/><stop offset="0.419" stop-color="#13ffec"/><stop offset="0.427" stop-color="#02fffd"/><stop offset="0.45" stop-color="#00efff"/><stop offset="0.488" stop-color="#00caff"/><stop offset="0.496" stop-color="#00bbff"/><stop offset="0.504" stop-color="#00bbff"/><stop offset="0.512" stop-color="#00abff"/><stop offset="0.519" stop-color="#00aaff"/><stop offset="0.681" stop-color="#0002ff"/><stop offset="0.827" stop-color="#000083"/><stop offset="0.981" stop-color="#000080"/><stop offset="0.988" stop-color="#0004fa"/><stop offset="0.996" stop-color="#4040de"/></linearGradient><linearGradient id="s130" x2="0" y2="1"><stop offset="0" stop-color="#ffeedf"/><stop offset="0.012" stop-color="#ffae60"/><stop offset="0.02" stop-color="#ff8300"/><stop offset="0.139" stop-color="#ffe300"/><stop offset="0.147" stop-color="#fff100"/><stop offset="0.171" stop-color="#fbfe04"/><stop offset="0.258" stop-color="#a0ff5e"/><stop offset="0.266" stop-color="#9fff60"/><stop offset="0.274" stop-color="#8fff70"/><stop offset="0.282" stop-color="#90ff6f"/><stop offset="0.29" stop-color="#7eff81"/><stop offset="0.298" stop-color="#7fff80"/><stop offset="0.345" stop-color="#49ffb6"/><stop offset="0.369" stop-color="#37ffc8"/><stop offset="0.377" stop-color="#27ffd8"/><stop offset="0.385" stop-color="#26ffd9"/><stop offset="0.417" stop-color="#02fffd"/><stop offset="0.44" stop-color="#00edff"/><stop offset="0.448" stop-color="#00ddff"/><stop offset="0.456" stop-color="#00ddff"/><stop offset="0.464" stop-color="#00ceff"/><stop offset="0.544" stop-color="#0085ff"/><stop offset="0.552" stop-color="#0077ff"/><stop offset="0.56" stop-color="#0075ff"/><stop offset="0.567" stop-color="#0067ff"/><stop offset="0.575" stop-color="#0065ff"/><stop offset="0.583" stop-color="#0057ff"/><stop offset="0.591" stop-color="#0055ff"/><stop offset="0.679" stop-color="#0000fe"/><stop offset="0.821" stop-color="#000084"/><stop offset="0.98" stop-color="#000080"/><stop offset="0.988" stop-color="#0001dc"/><stop offset="0.996" stop-color="#4040e1"/></linearGradient><linearGradient id="s131" x2="0" y2="1"><stop offset="0" stop-color="#fff6ef"/><stop offset="0.012" stop-color="#ffa360"/><stop offset="0.02" stop-color="#ff7100"/><stop offset="0.098" stop-color="#ffab00"/><stop offset="0.176" stop-color="#fffa00"/><stop offset="0.23" stop-color="#d1ff2e"/><stop offset="0.254" stop-color="#b4ff4b"/><stop offset="0.262" stop-color="#b3ff4c"/><stop offset="0.27" stop-color="#a2ff5d"/><stop offset="0.277" stop-color="#a2ff5d"/><stop offset="0.285" stop-color="#93ff6c"/><stop offset="0.348" stop-color="#5affa5"/><stop offset="0.355" stop-color="#4bffb4"/><stop offset="0.363" stop-color="#4affb5"/><stop offset="0.371" stop-color="#3affc5"/><stop offset="0.418" stop-color="#11ffee"/><stop offset="0.426" stop-color="#02fffd"/><stop offset="0.434" stop-color="#01fffe"/><stop offset="0.496" stop-color="#00b9ff"/><stop offset="0.504" stop-color="#00b7ff"/><stop offset="0.512" stop-color="#00a9ff"/><stop offset="0.559" stop-color="#007dff"/><stop offset="0.684" stop-color="#0001fd"/><stop offset="0.832" stop-color="#000081"/><stop offset="0.98" stop-color="#000080"/><stop offset="0.988" stop-color="#0000bd"/><stop offset="0.996" stop-color="#3030df"/></linearGradient><linearGradient id="s132" x2="0" y2="1"><stop offset="0" stop-color="#fff5ef"/><stop offset="0.019" stop-color="#ff6810"/><stop offset="0.027" stop-color="#ff6300"/><stop offset="0.119" stop-color="#ffb000"/><stop offset="0.142" stop-color="#ffcb00"/><stop offset="0.15" stop-color="#ffca00"/><stop offset="0.173" stop-color="#ffe800"/><stop offset="0.212" stop-color="#f5ff0a"/><stop offset="0.219" stop-color="#e7ff18"/><stop offset="0.227" stop-color="#e5ff1a"/><stop offset="0.235" stop-color="#d7ff28"/><stop offset="0.242" stop-color="#d6ff29"/><stop offset="0.25" stop-color="#c6ff39"/><stop offset="0.258" stop-color="#c6ff39"/><stop offset="0.265" stop-color="#b6ff49"/><stop offset="0.327" stop-color="#7cff82"/><stop offset="0.335" stop-color="#6dff92"/><stop offset="0.342" stop-color="#6dff92"/><stop offset="0.35" stop-color="#5effa2"/><stop offset="0.396" stop-color="#34ffca"/><stop offset="0.404" stop-color="#24ffdb"/><stop offset="0.412" stop-color="#24ffdb"/><stop offset="0.442" stop-color="#00feff"/><stop offset="0.465" stop-color="#00eaff"/><stop offset="0.473" stop-color="#00dbff"/><stop offset="0.519" stop-color="#00b2ff"/><stop offset="0.681" stop-color="#0009ff"/><stop offset="0.727" stop-color="#0000de"/><stop offset="0.835" stop-color="#000081"/><stop offset="0.981" stop-color="#000080"/><stop offset="0.996" stop-color="#0000d4"/></linearGradient><linearGradient id="s133" x2="0" y2="1"><stop offset="0" stop-color="#ffd0bf"/><stop offset="0.011" stop-color="#ff6120"/><stop offset="0.019" stop-color="#ff4d00"/><stop offset="0.126" stop-color="#ffac00"/><stop offset="0.164" stop-color="#ffd500"/><stop offset="0.172" stop-color="#ffd600"/><stop offset="0.179" stop-color="#ffe400"/><stop offset="0.187" stop-color="#ffe500"/><stop offset="0.195" stop-color="#fff400"/><stop offset="0.218" stop-color="#f8ff07"/><stop offset="0.263" stop-color="#c5ff3a"/><stop offset="0.302" stop-color="#a0ff5f"/><stop offset="0.309" stop-color="#90ff6e"/><stop offset="0.355" stop-color="#66ff99"/><stop offset="0.378" stop-color="#48ffb7"/><stop offset="0.424" stop-color="#1effe1"/><stop offset="0.447" stop-color="#02fdfd"/><stop offset="0.477" stop-color="#00e2ff"/><stop offset="0.691" stop-color="#0003ff"/><stop offset="0.836" stop-color="#000082"/><stop offset="0.981" stop-color="#000080"/><stop offset="0.989" stop-color="#00009d"/><stop offset="0.996" stop-color="#0000d6"/></linearGradient><linearGradient id="s134" x2="0" y2="1"><stop offset="0" stop-color="#fff2ef"/><stop offset="0.011" stop-color="#ff7850"/><stop offset="0.019" stop-color="#ff3d00"/><stop offset="0.117" stop-color="#ff9000"/><stop offset="0.222" stop-color="#fcfa03"/><stop offset="0.252" stop-color="#e3ff1c"/><stop offset="0.259" stop-color="#d5ff2a"/><stop offset="0.267" stop-color="#d3ff2c"/><stop offset="0.327" stop-color="#8dff72"/><stop offset="0.335" stop-color="#8bff74"/><stop offset="0.342" stop-color="#7cff83"/><stop offset="0.387" stop-color="#52ffad"/><stop offset="0.462" stop-color="#01f9fe"/><stop offset="0.47" stop-color="#00f7ff"/><stop offset="0.688" stop-color="#000dff"/><stop offset="0.711" stop-color="#0000f6"/><stop offset="0.838" stop-color="#000082"/><stop offset="0.981" stop-color="#000080"/><stop offset="0.989" stop-color="#00008e"/><stop offset="0.996" stop-color="#0000d8"/></linearGradient><linearGradient id="s135" x2="0" y2="1"><stop offset="0" stop-color="#ffd7cf"/><stop offset="0.011" stop-color="#ff4820"/><stop offset="0.019" stop-color="#ff3100"/><stop offset="0.108" stop-color="#ff7f00"/><stop offset="0.213" stop-color="#ffe900"/><stop offset="0.22" stop-color="#fff700"/><stop offset="0.257" stop-color="#e3ff1c"/><stop offset="0.362" stop-color="#74ff8b"/><stop offset="0.369" stop-color="#65ff9a"/><stop offset="0.377" stop-color="#64ff9b"/><stop offset="0.407" stop-color="#3fffc0"/><stop offset="0.429" stop-color="#2cffd3"/><stop offset="0.459" stop-color="#07fff8"/><stop offset="0.481" stop-color="#00f2ff"/><stop offset="0.489" stop-color="#00e3ff"/><stop offset="0.705" stop-color="#0003fd"/><stop offset="0.847" stop-color="#000080"/><stop offset="0.989" stop-color="#000080"/><stop offset="0.996" stop-color="#0000d8"/></linearGradient><linearGradient id="s136" x2="0" y2="1"><stop offset="0" stop-color="#ffaa9f"/><stop offset="0.011" stop-color="#ff2100"/><stop offset="0.093" stop-color="#ff6500"/><stop offset="0.241" stop-color="#fefd01"/><stop offset="0.47" stop-color="#02fffd"/><stop offset="0.707" stop-color="#0002ff"/><stop offset="0.848" stop-color="#000080"/><stop offset="0.989" stop-color="#000080"/><stop offset="0.996" stop-color="#0000cb"/></linearGradient><linearGradient id="s137" x2="0" y2="1"><stop offset="0" stop-color="#ff6c60"/><stop offset="0.011" stop-color="#ff1700"/><stop offset="0.077" stop-color="#ff4d00"/><stop offset="0.246" stop-color="#fdff02"/><stop offset="0.482" stop-color="#00faff"/><stop offset="0.717" stop-color="#0000fc"/><stop offset="0.849" stop-color="#000081"/><stop offset="0.989" stop-color="#000080"/><stop offset="0.996" stop-color="#0000be"/></linearGradient><linearGradient id="s138" x2="0" y2="1"><stop offset="0" stop-color="#fefff1"/><stop offset="0.011" stop-color="#f0ffce"/><stop offset="0.018" stop-color="#f6ffc9"/><stop offset="0.025" stop-color="#ff6660"/><stop offset="0.032" stop-color="#ff0c00"/><stop offset="0.111" stop-color="#ff5000"/><stop offset="0.268" stop-color="#fdfb02"/><stop offset="0.496" stop-color="#02fafd"/><stop offset="0.725" stop-color="#0001fc"/><stop offset="0.854" stop-color="#000081"/><stop offset="0.989" stop-color="#000080"/><stop offset="0.996" stop-color="#0000bc"/></linearGradient><linearGradient id="s139" x2="0" y2="1"><stop offset="0" stop-color="#fffecf"/><stop offset="0.01" stop-color="#feff80"/><stop offset="0.024" stop-color="#eeff31"/><stop offset="0.031" stop-color="#e2ff1d"/><stop offset="0.045" stop-color="#dbff24"/><stop offset="0.051" stop-color="#c1ff3e"/><stop offset="0.058" stop-color="#d6a029"/><stop offset="0.065" stop-color="#ff0200"/><stop offset="0.147" stop-color="#ff4f00"/><stop offset="0.305" stop-color="#fcff03"/><stop offset="0.517" stop-color="#00fefe"/><stop offset="0.736" stop-color="#0001fd"/><stop offset="0.86" stop-color="#000081"/><stop offset="0.99" stop-color="#000080"/><stop offset="0.997" stop-color="#0000ba"/></linearGradient><linearGradient id="s140" x2="0" y2="1"><stop offset="0" stop-color="#fdffd1"/><stop offset="0.01" stop-color="#fdff91"/><stop offset="0.017" stop-color="#f6ff89"/><stop offset="0.031" stop-color="#e4ff5b"/><stop offset="0.038" stop-color="#e2ff5d"/><stop offset="0.045" stop-color="#dc9f20"/><stop offset="0.052" stop-color="#f90000"/><stop offset="0.086" stop-color="#ff1300"/><stop offset="0.3" stop-color="#faff05"/><stop offset="0.514" stop-color="#03fcfc"/><stop offset="0.734" stop-color="#0002fe"/><stop offset="0.859" stop-color="#000082"/><stop offset="0.99" stop-color="#000080"/><stop offset="0.997" stop-color="#0000b3"/></linearGradient><linearGradient id="s141" x2="0" y2="1"><stop offset="0" stop-color="#feefef"/><stop offset="0.011" stop-color="#f20000"/><stop offset="0.046" stop-color="#ff0a00"/><stop offset="0.275" stop-color="#fdfe02"/><stop offset="0.496" stop-color="#02fffd"/><stop offset="0.725" stop-color="#0003fe"/><stop offset="0.854" stop-color="#000081"/><stop offset="0.989" stop-color="#000080"/><stop offset="0.996" stop-color="#0000a3"/></linearGradient><linearGradient id="s142" x2="0" y2="1"><stop offset="0" stop-color="#f04040"/><stop offset="0.011" stop-color="#ec0000"/><stop offset="0.046" stop-color="#ff0a00"/><stop offset="0.275" stop-color="#fcfd03"/><stop offset="0.504" stop-color="#00f9fe"/><stop offset="0.725" stop-color="#0003ff"/><stop offset="0.854" stop-color="#000082"/><stop offset="0.989" stop-color="#000080"/><stop offset="0.996" stop-color="#0000a1"/></linearGradient><linearGradient id="s143" x2="0" y2="1"><stop offset="0" stop-color="#f8bfbf"/><stop offset="0.011" stop-color="#e60000"/><stop offset="0.053" stop-color="#ff0700"/><stop offset="0.28" stop-color="#fefe01"/><stop offset="0.507" stop-color="#01fcfe"/><stop offset="0.727" stop-color="#0005ff"/><stop offset="0.855" stop-color="#000082"/><stop offset="0.989" stop-color="#000080"/><stop offset="0.996" stop-color="#00009f"/></linearGradient><linearGradient id="s144" x2="0" y2="1"><stop offset="0" stop-color="#ea5050"/><stop offset="0.011" stop-color="#e20000"/><stop offset="0.053" stop-color="#ff0600"/><stop offset="0.28" stop-color="#fefc01"/><stop offset="0.507" stop-color="#01fcfe"/><stop offset="0.734" stop-color="#0000fa"/><stop offset="0.855" stop-color="#000082"/><stop offset="0.989" stop-color="#000080"/><stop offset="0.996" stop-color="#00009c"/></linearGradient><linearGradient id="s145" x2="0" y2="1"><stop offset="0" stop-color="#fdefef"/><stop offset="0.011" stop-color="#de0000"/><stop offset="0.06" stop-color="#ff0500"/><stop offset="0.292" stop-color="#f9ff06"/><stop offset="0.511" stop-color="#01fcfe"/><stop offset="0.736" stop-color="#0000fc"/><stop offset="0.863" stop-color="#000080"/><stop offset="0.989" stop-color="#000080"/><stop offset="0.996" stop-color="#00009a"/></linearGradient><linearGradient id="s146" x2="0" y2="1"><stop offset="0" stop-color="#f29f9f"/><stop offset="0.011" stop-color="#db0000"/><stop offset="0.06" stop-color="#ff0400"/><stop offset="0.292" stop-color="#faff06"/><stop offset="0.511" stop-color="#02fdfe"/><stop offset="0.736" stop-color="#0001fc"/><stop offset="0.856" stop-color="#000083"/><stop offset="0.989" stop-color="#000080"/><stop offset="0.996" stop-color="#4040af"/></linearGradient><linearGradient id="s147" x2="0" y2="1"><stop offset="0" stop-color="#ec8080"/><stop offset="0.011" stop-color="#da0000"/><stop offset="0.06" stop-color="#ff0400"/><stop offset="0.292" stop-color="#fafe05"/><stop offset="0.511" stop-color="#02fdfd"/><stop offset="0.736" stop-color="#0001fd"/><stop offset="0.863" stop-color="#000080"/><stop offset="0.989" stop-color="#000080"/><stop offset="0.996" stop-color="#4040ae"/></linearGradient><linearGradient id="s148" x2="0" y2="1"><stop offset="0" stop-color="#e24040"/><stop offset="0.011" stop-color="#d90000"/><stop offset="0.06" stop-color="#ff0300"/><stop offset="0.292" stop-color="#faff05"/><stop offset="0.511" stop-color="#03fdfc"/><stop offset="0.736" stop-color="#0000fd"/><stop offset="0.863" stop-color="#000080"/><stop offset="0.989" stop-color="#000080"/><stop offset="0.996" stop-color="#4040ad"/></linearGradient><linearGradient id="s149" x2="0" y2="1"><stop offset="0" stop-color="#e14040"/><stop offset="0.011" stop-color="#d90000"/><stop offset="0.06" stop-color="#ff0300"/><stop offset="0.292" stop-color="#faff05"/><stop offset="0.511" stop-color="#02fdfd"/><stop offset="0.736" stop-color="#0001fe"/><stop offset="0.856" stop-color="#000083"/><stop offset="0.989" stop-color="#000080"/><stop offset="0.996" stop-color="#4040b0"/></linearGradient><linearGradient id="s150" x2="0" y2="1"><stop offset="0" stop-color="#e14040"/><stop offset="0.011" stop-color="#d90000"/><stop offset="0.06" stop-color="#ff0300"/><stop offset="0.292" stop-color="#faff05"/><stop offset="0.511" stop-color="#01fdfe"/><stop offset="0.736" stop-color="#0001fe"/><stop offset="0.856" stop-color="#000083"/><stop offset="0.989" stop-color="#000080"/><stop offset="0.996" stop-color="#4040b3"/></linearGradient><linearGradient id="s151" x2="0" y2="1"><stop offset="0" stop-color="#e55050"/><stop offset="0.011" stop-color="#da0000"/><stop offset="0.06" stop-color="#ff0300"/><stop offset="0.292" stop-color="#faff05"/><stop offset="0.511" stop-color="#03fdfc"/><stop offset="0.736" stop-color="#0000fe"/><stop offset="0.856" stop-color="#000082"/><stop offset="0.989" stop-color="#000080"/><stop offset="0.996" stop-color="#4040b0"/></linearGradient><linearGradient id="s152" x2="0" y2="1"><stop offset="0" stop-color="#f4afaf"/><stop offset="0.011" stop-color="#dc0000"/><stop offset="0.06" stop-color="#ff0400"/><stop offset="0.292" stop-color="#fbff04"/><stop offset="0.511" stop-color="#02fdfc"/><stop offset="0.736" stop-color="#0001fc"/><stop offset="0.856" stop-color="#000083"/><stop offset="0.989" stop-color="#000080"/><stop offset="0.996" stop-color="#8080c8"/></linearGradient><linearGradient id="s153" x2="0" y2="1"><stop offset="0" stop-color="#e63030"/><stop offset="0.011" stop-color="#e40000"/><stop offset="0.053" stop-color="#ff0600"/><stop offset="0.287" stop-color="#faff05"/><stop offset="0.507" stop-color="#02fefe"/><stop offset="0.734" stop-color="#0001fb"/><stop offset="0.855" stop-color="#000082"/><stop offset="0.989" stop-color="#000080"/><stop offset="0.996" stop-color="#8080c7"/></linearGradient><linearGradient id="s154" x2="0" y2="1"><stop offset="0" stop-color="#fdefef"/><stop offset="0.011" stop-color="#ed3030"/><stop offset="0.018" stop-color="#ec0000"/><stop offset="0.053" stop-color="#ff0900"/><stop offset="0.223" stop-color="#ffbe00"/><stop offset="0.28" stop-color="#fffc00"/><stop offset="0.507" stop-color="#01fafe"/><stop offset="0.734" stop-color="#0001fd"/><stop offset="0.855" stop-color="#000081"/><stop offset="0.989" stop-color="#000080"/><stop offset="0.996" stop-color="#8080c6"/></linearGradient><linearGradient id="s155" x2="0" y2="1"><stop offset="0" stop-color="#feefef"/><stop offset="0.011" stop-color="#f53030"/><stop offset="0.018" stop-color="#f60000"/><stop offset="0.046" stop-color="#ff0d00"/><stop offset="0.182" stop-color="#ff9800"/><stop offset="0.275" stop-color="#fcfb03"/><stop offset="0.346" stop-color="#b2ff4d"/><stop offset="0.389" stop-color="#7eff81"/><stop offset="0.425" stop-color="#59ffa6"/><stop offset="0.454" stop-color="#35ffca"/><stop offset="0.504" stop-color="#00fdff"/><stop offset="0.718" stop-color="#0009ff"/><stop offset="0.754" stop-color="#0000e3"/><stop offset="0.854" stop-color="#000081"/><stop offset="0.989" stop-color="#000080"/><stop offset="0.996" stop-color="#8080c5"/></linearGradient><linearGradient id="s156" x2="0" y2="1"><stop offset="0" stop-color="#ffefef"/><stop offset="0.011" stop-color="#fd5050"/><stop offset="0.018" stop-color="#ff0200"/><stop offset="0.097" stop-color="#ff4700"/><stop offset="0.27" stop-color="#f9ff06"/><stop offset="0.291" stop-color="#e8ff17"/><stop offset="0.299" stop-color="#d9ff26"/><stop offset="0.371" stop-color="#90ff6f"/><stop offset="0.378" stop-color="#81ff7e"/><stop offset="0.385" stop-color="#7fff80"/><stop offset="0.392" stop-color="#70ff8f"/><stop offset="0.421" stop-color="#53ffac"/><stop offset="0.457" stop-color="#28ffd7"/><stop offset="0.464" stop-color="#26ffd9"/><stop offset="0.493" stop-color="#02fffd"/><stop offset="0.514" stop-color="#00edff"/><stop offset="0.522" stop-color="#00deff"/><stop offset="0.565" stop-color="#00b4ff"/><stop offset="0.723" stop-color="#0001fe"/><stop offset="0.853" stop-color="#000081"/><stop offset="0.989" stop-color="#000080"/><stop offset="0.996" stop-color="#8080c4"/></linearGradient><linearGradient id="s157" x2="0" y2="1"><stop offset="0" stop-color="#ffc3bf"/><stop offset="0.011" stop-color="#ff2d20"/><stop offset="0.018" stop-color="#ff1400"/><stop offset="0.106" stop-color="#ff6100"/><stop offset="0.252" stop-color="#fcfa03"/><stop offset="0.296" stop-color="#d3ff2c"/><stop offset="0.303" stop-color="#c5ff3a"/><stop offset="0.31" stop-color="#c6ff39"/><stop offset="0.318" stop-color="#b4ff4b"/><stop offset="0.325" stop-color="#b5ff4a"/><stop offset="0.332" stop-color="#a4ff5b"/><stop offset="0.339" stop-color="#a4ff5b"/><stop offset="0.398" stop-color="#5dffa2"/><stop offset="0.405" stop-color="#5dffa2"/><stop offset="0.412" stop-color="#4cffb3"/><stop offset="0.42" stop-color="#4cffb4"/><stop offset="0.464" stop-color="#15ffea"/><stop offset="0.471" stop-color="#14ffeb"/><stop offset="0.478" stop-color="#03fffc"/><stop offset="0.485" stop-color="#03fffc"/><stop offset="0.536" stop-color="#00caff"/><stop offset="0.544" stop-color="#00baff"/><stop offset="0.551" stop-color="#00baff"/><stop offset="0.558" stop-color="#00aaff"/><stop offset="0.617" stop-color="#0071ff"/><stop offset="0.624" stop-color="#0063ff"/><stop offset="0.719" stop-color="#0002fe"/><stop offset="0.85" stop-color="#000080"/><stop offset="0.989" stop-color="#000080"/><stop offset="0.996" stop-color="#8080c3"/></linearGradient><linearGradient id="s158" x2="0" y2="1"><stop offset="0" stop-color="#ffaa9f"/><stop offset="0.011" stop-color="#ff3e20"/><stop offset="0.019" stop-color="#ff2600"/><stop offset="0.122" stop-color="#ff8300"/><stop offset="0.241" stop-color="#f9fc06"/><stop offset="0.27" stop-color="#e1ff1e"/><stop offset="0.293" stop-color="#c2ff3d"/><stop offset="0.3" stop-color="#c3ff3c"/><stop offset="0.307" stop-color="#b0ff4e"/><stop offset="0.315" stop-color="#b2ff4d"/><stop offset="0.322" stop-color="#a0ff60"/><stop offset="0.33" stop-color="#a1ff5e"/><stop offset="0.389" stop-color="#5affa5"/><stop offset="0.396" stop-color="#5bffa4"/><stop offset="0.404" stop-color="#48ffb7"/><stop offset="0.411" stop-color="#49ffb6"/><stop offset="0.419" stop-color="#37ffc8"/><stop offset="0.426" stop-color="#37ffc8"/><stop offset="0.47" stop-color="#01fffe"/><stop offset="0.478" stop-color="#02fffd"/><stop offset="0.485" stop-color="#00eeff"/><stop offset="0.493" stop-color="#00eeff"/><stop offset="0.552" stop-color="#00a7ff"/><stop offset="0.559" stop-color="#00a8ff"/><stop offset="0.567" stop-color="#0096ff"/><stop offset="0.574" stop-color="#0096ff"/><stop offset="0.619" stop-color="#0063ff"/><stop offset="0.715" stop-color="#0001f9"/><stop offset="0.848" stop-color="#000080"/><stop offset="0.989" stop-color="#000080"/><stop offset="0.996" stop-color="#8080c2"/></linearGradient><linearGradient id="s159" x2="0" y2="1"><stop offset="0" stop-color="#ffbfaf"/><stop offset="0.011" stop-color="#ff6a40"/><stop offset="0.019" stop-color="#ff3c00"/><stop offset="0.102" stop-color="#ff8200"/><stop offset="0.184" stop-color="#ffd200"/><stop offset="0.192" stop-color="#ffe000"/><stop offset="0.199" stop-color="#ffe100"/><stop offset="0.207" stop-color="#fff100"/><stop offset="0.214" stop-color="#fff100"/><stop offset="0.222" stop-color="#fcfe03"/><stop offset="0.229" stop-color="#fcfe03"/><stop offset="0.237" stop-color="#edff12"/><stop offset="0.244" stop-color="#edff12"/><stop offset="0.252" stop-color="#ddff22"/><stop offset="0.259" stop-color="#ddff22"/><stop offset="0.267" stop-color="#cdff32"/><stop offset="0.274" stop-color="#ceff31"/><stop offset="0.282" stop-color="#bdff42"/><stop offset="0.289" stop-color="#bdff42"/><stop offset="0.297" stop-color="#adff52"/><stop offset="0.357" stop-color="#75ff8a"/><stop offset="0.365" stop-color="#65ff9a"/><stop offset="0.372" stop-color="#64ff9b"/><stop offset="0.38" stop-color="#53ffac"/><stop offset="0.387" stop-color="#55ffaa"/><stop offset="0.395" stop-color="#44ffbb"/><stop offset="0.425" stop-color="#28ffd7"/><stop offset="0.447" stop-color="#0dfff2"/><stop offset="0.455" stop-color="#0cfff2"/><stop offset="0.462" stop-color="#00fbff"/><stop offset="0.47" stop-color="#00fcff"/><stop offset="0.477" stop-color="#00e9ff"/><stop offset="0.485" stop-color="#00eaff"/><stop offset="0.545" stop-color="#00a4ff"/><stop offset="0.553" stop-color="#00a5ff"/><stop offset="0.56" stop-color="#0092ff"/><stop offset="0.568" stop-color="#0094ff"/><stop offset="0.575" stop-color="#0082ff"/><stop offset="0.583" stop-color="#0083ff"/><stop offset="0.695" stop-color="#0007ff"/><stop offset="0.756" stop-color="#0000cd"/><stop offset="0.846" stop-color="#000080"/><stop offset="0.989" stop-color="#000080"/><stop offset="0.996" stop-color="#8080c1"/></linearGradient><linearGradient id="s160" x2="0" y2="1"><stop offset="0" stop-color="#ffe8df"/><stop offset="0.011" stop-color="#ffa580"/><stop offset="0.019" stop-color="#ff7230"/><stop offset="0.027" stop-color="#ff5700"/><stop offset="0.149" stop-color="#ffc300"/><stop offset="0.21" stop-color="#f8fd07"/><stop offset="0.271" stop-color="#c0ff3f"/><stop offset="0.279" stop-color="#b1ff4e"/><stop offset="0.286" stop-color="#afff50"/><stop offset="0.294" stop-color="#a0ff5f"/><stop offset="0.302" stop-color="#a0ff5f"/><stop offset="0.309" stop-color="#91ff6e"/><stop offset="0.317" stop-color="#90ff6f"/><stop offset="0.324" stop-color="#80ff7f"/><stop offset="0.332" stop-color="#80ff7f"/><stop offset="0.34" stop-color="#70ff8f"/><stop offset="0.385" stop-color="#47ffb8"/><stop offset="0.408" stop-color="#28ffd7"/><stop offset="0.416" stop-color="#29ffd6"/><stop offset="0.424" stop-color="#17ffe8"/><stop offset="0.431" stop-color="#18ffe7"/><stop offset="0.439" stop-color="#09fff6"/><stop offset="0.469" stop-color="#00eaff"/><stop offset="0.508" stop-color="#00c0ff"/><stop offset="0.515" stop-color="#00c0ff"/><stop offset="0.523" stop-color="#00afff"/><stop offset="0.531" stop-color="#00b1ff"/><stop offset="0.538" stop-color="#009fff"/><stop offset="0.546" stop-color="#00a0ff"/><stop offset="0.553" stop-color="#0090ff"/><stop offset="0.561" stop-color="#008fff"/><stop offset="0.569" stop-color="#0080ff"/><stop offset="0.637" stop-color="#003fff"/><stop offset="0.645" stop-color="#0031ff"/><stop offset="0.653" stop-color="#0031ff"/><stop offset="0.66" stop-color="#0022ff"/><stop offset="0.706" stop-color="#0000f9"/><stop offset="0.836" stop-color="#000082"/><stop offset="0.989" stop-color="#000080"/><stop offset="0.996" stop-color="#9f9fd0"/></linearGradient><linearGradient id="s161" x2="0" y2="1"><stop offset="0" stop-color="#ffe2cf"/><stop offset="0.012" stop-color="#ffaa70"/><stop offset="0.02" stop-color="#ff8120"/><stop offset="0.027" stop-color="#ff7600"/><stop offset="0.121" stop-color="#ffc600"/><stop offset="0.184" stop-color="#fcfb03"/><stop offset="0.285" stop-color="#94ff6b"/><stop offset="0.293" stop-color="#93ff6c"/><stop offset="0.301" stop-color="#82ff7d"/><stop offset="0.309" stop-color="#81ff7e"/><stop offset="0.316" stop-color="#72ff8d"/><stop offset="0.324" stop-color="#70ff8f"/><stop offset="0.332" stop-color="#62ff9c"/><stop offset="0.34" stop-color="#61ff9e"/><stop offset="0.348" stop-color="#53ffac"/><stop offset="0.434" stop-color="#00f9ff"/><stop offset="0.441" stop-color="#00faff"/><stop offset="0.449" stop-color="#00e9ff"/><stop offset="0.457" stop-color="#00ebff"/><stop offset="0.465" stop-color="#00d8ff"/><stop offset="0.473" stop-color="#00d9ff"/><stop offset="0.621" stop-color="#003eff"/><stop offset="0.645" stop-color="#002eff"/><stop offset="0.652" stop-color="#001fff"/><stop offset="0.691" stop-color="#0000f8"/><stop offset="0.832" stop-color="#000081"/><stop offset="0.988" stop-color="#000080"/><stop offset="0.996" stop-color="#bfbfdf"/></linearGradient><linearGradient id="s162" x2="0" y2="1"><stop offset="0" stop-color="#ffeedf"/><stop offset="0.012" stop-color="#f1cb8d"/><stop offset="0.02" stop-color="#c7ab38"/><stop offset="0.028" stop-color="#ff9300"/><stop offset="0.156" stop-color="#fafc04"/><stop offset="0.284" stop-color="#84ff7c"/><stop offset="0.292" stop-color="#75ff8a"/><stop offset="0.3" stop-color="#73ff8c"/><stop offset="0.308" stop-color="#65ff9a"/><stop offset="0.412" stop-color="#02fcfd"/><stop offset="0.436" stop-color="#00ecff"/><stop offset="0.444" stop-color="#00dcff"/><stop offset="0.452" stop-color="#00dbff"/><stop offset="0.46" stop-color="#00cdff"/><stop offset="0.468" stop-color="#00cbff"/><stop offset="0.476" stop-color="#00bcff"/><stop offset="0.484" stop-color="#00bdff"/><stop offset="0.492" stop-color="#00adff"/><stop offset="0.5" stop-color="#00adff"/><stop offset="0.508" stop-color="#009cff"/><stop offset="0.516" stop-color="#009dff"/><stop offset="0.524" stop-color="#008dff"/><stop offset="0.532" stop-color="#008dff"/><stop offset="0.54" stop-color="#007eff"/><stop offset="0.548" stop-color="#007dff"/><stop offset="0.556" stop-color="#006fff"/><stop offset="0.564" stop-color="#006eff"/><stop offset="0.572" stop-color="#005fff"/><stop offset="0.676" stop-color="#0003ff"/><stop offset="0.828" stop-color="#000080"/><stop offset="0.988" stop-color="#000080"/><stop offset="0.996" stop-color="#bfbfdf"/></linearGradient><linearGradient id="s163" x2="0" y2="1"><stop offset="0" stop-color="#66ffe9"/><stop offset="0.012" stop-color="#1cffe3"/><stop offset="0.028" stop-color="#98d067"/><stop offset="0.037" stop-color="#d2c42d"/><stop offset="0.045" stop-color="#ffbb00"/><stop offset="0.126" stop-color="#fdf802"/><stop offset="0.248" stop-color="#90ff6f"/><stop offset="0.394" stop-color="#02fcfd"/><stop offset="0.451" stop-color="#00ceff"/><stop offset="0.524" stop-color="#0082ff"/><stop offset="0.671" stop-color="#0000fb"/><stop offset="0.825" stop-color="#000080"/><stop offset="0.988" stop-color="#000080"/><stop offset="0.996" stop-color="#bfbfdf"/></linearGradient><linearGradient id="s164" x2="0" y2="1"><stop offset="0" stop-color="#9efff0"/><stop offset="0.012" stop-color="#20ffdf"/><stop offset="0.02" stop-color="#1bffe4"/><stop offset="0.037" stop-color="#3cffc3"/><stop offset="0.045" stop-color="#5ffda0"/><stop offset="0.069" stop-color="#e2e01d"/><stop offset="0.077" stop-color="#ffe000"/><stop offset="0.126" stop-color="#f6fe09"/><stop offset="0.232" stop-color="#9aff65"/><stop offset="0.28" stop-color="#68ff98"/><stop offset="0.386" stop-color="#05fdfa"/><stop offset="0.654" stop-color="#0005ff"/><stop offset="0.825" stop-color="#000080"/><stop offset="0.988" stop-color="#000080"/><stop offset="0.996" stop-color="#bfbfdf"/></linearGradient><linearGradient id="s165" x2="0" y2="1"><stop offset="0" stop-color="#efffef"/><stop offset="0.012" stop-color="#93ffbc"/><stop offset="0.02" stop-color="#60ff9f"/><stop offset="0.028" stop-color="#74ff8b"/><stop offset="0.085" stop-color="#6efd91"/><stop offset="0.101" stop-color="#abfc54"/><stop offset="0.117" stop-color="#f2fe0d"/><stop offset="0.23" stop-color="#97ff68"/><stop offset="0.278" stop-color="#64ff9b"/><stop offset="0.286" stop-color="#63ff9c"/><stop offset="0.383" stop-color="#04fbfa"/><stop offset="0.448" stop-color="#00c4ff"/><stop offset="0.657" stop-color="#0001fe"/><stop offset="0.827" stop-color="#000080"/><stop offset="0.988" stop-color="#000080"/><stop offset="0.996" stop-color="#bfbfdf"/></linearGradient><linearGradient id="s166" x2="0" y2="1"><stop offset="0" stop-color="#f4ffea"/><stop offset="0.027" stop-color="#a8ff77"/><stop offset="0.035" stop-color="#97ff68"/><stop offset="0.113" stop-color="#69ff96"/><stop offset="0.145" stop-color="#4effb1"/><stop offset="0.16" stop-color="#8dff72"/><stop offset="0.184" stop-color="#c4ff3c"/><stop offset="0.285" stop-color="#6bff94"/><stop offset="0.395" stop-color="#04fcfb"/><stop offset="0.66" stop-color="#0003ff"/><stop offset="0.832" stop-color="#000080"/><stop offset="0.988" stop-color="#000080"/><stop offset="0.996" stop-color="#bfbfdf"/></linearGradient><linearGradient id="s167" x2="0" y2="1"><stop offset="0" stop-color="#f6ffd8"/><stop offset="0.011" stop-color="#eaffa5"/><stop offset="0.027" stop-color="#caff55"/><stop offset="0.034" stop-color="#baff45"/><stop offset="0.155" stop-color="#60ffa0"/><stop offset="0.201" stop-color="#34ffcb"/><stop offset="0.208" stop-color="#3cffc3"/><stop offset="0.231" stop-color="#8eff71"/><stop offset="0.239" stop-color="#9cff63"/><stop offset="0.405" stop-color="#04fcfb"/><stop offset="0.663" stop-color="#0006ff"/><stop offset="0.837" stop-color="#000080"/><stop offset="0.989" stop-color="#000080"/><stop offset="0.996" stop-color="#bfbfdf"/></linearGradient><linearGradient id="s168" x2="0" y2="1"><stop offset="0" stop-color="#fdfec2"/><stop offset="0.011" stop-color="#f9ff86"/><stop offset="0.018" stop-color="#f2ff5d"/><stop offset="0.026" stop-color="#e7ff28"/><stop offset="0.033" stop-color="#e1ff1e"/><stop offset="0.18" stop-color="#62ff9d"/><stop offset="0.254" stop-color="#18ffe7"/><stop offset="0.261" stop-color="#1effe1"/><stop offset="0.283" stop-color="#64fe9b"/><stop offset="0.29" stop-color="#70ff8f"/><stop offset="0.415" stop-color="#03f9fc"/><stop offset="0.673" stop-color="#0001fe"/><stop offset="0.842" stop-color="#000080"/><stop offset="0.989" stop-color="#000080"/><stop offset="0.996" stop-color="#bfbfdf"/></linearGradient><linearGradient id="s169" x2="0" y2="1"><stop offset="0" stop-color="#fff8cf"/><stop offset="0.018" stop-color="#fff170"/><stop offset="0.025" stop-color="#ffee30"/><stop offset="0.032" stop-color="#fff100"/><stop offset="0.06" stop-color="#f2ff0d"/><stop offset="0.216" stop-color="#5cffa3"/><stop offset="0.309" stop-color="#00f8ff"/><stop offset="0.316" stop-color="#0af4f5"/><stop offset="0.337" stop-color="#4afdb5"/><stop offset="0.387" stop-color="#26ffd9"/><stop offset="0.422" stop-color="#04fafb"/><stop offset="0.528" stop-color="#0095ff"/><stop offset="0.677" stop-color="#0003ff"/><stop offset="0.848" stop-color="#000080"/><stop offset="0.989" stop-color="#000080"/><stop offset="0.996" stop-color="#bfbfdf"/></linearGradient><linearGradient id="s170" x2="0" y2="1"><stop offset="0" stop-color="#fffaef"/><stop offset="0.01" stop-color="#ffe9bf"/><stop offset="0.024" stop-color="#ffce40"/><stop offset="0.031" stop-color="#ffc810"/><stop offset="0.038" stop-color="#ffcd00"/><stop offset="0.092" stop-color="#f9fe06"/><stop offset="0.271" stop-color="#40ffbf"/><stop offset="0.332" stop-color="#00faff"/><stop offset="0.36" stop-color="#00ddff"/><stop offset="0.38" stop-color="#27fcd8"/><stop offset="0.435" stop-color="#02fbfd"/><stop offset="0.682" stop-color="#0003ff"/><stop offset="0.853" stop-color="#000080"/><stop offset="0.99" stop-color="#000080"/><stop offset="0.997" stop-color="#bfbfdf"/></linearGradient><linearGradient id="s171" x2="0" y2="1"><stop offset="0" stop-color="#ffe0bf"/><stop offset="0.01" stop-color="#ffcc8f"/><stop offset="0.017" stop-color="#ffb350"/><stop offset="0.023" stop-color="#ffa420"/><stop offset="0.03" stop-color="#ff9e00"/><stop offset="0.117" stop-color="#fdfa02"/><stop offset="0.299" stop-color="#3affc6"/><stop offset="0.352" stop-color="#00fbff"/><stop offset="0.399" stop-color="#00cbff"/><stop offset="0.419" stop-color="#0dfff2"/><stop offset="0.453" stop-color="#00f0ff"/><stop offset="0.695" stop-color="#0001fe"/><stop offset="0.862" stop-color="#000080"/><stop offset="0.997" stop-color="#000080"/></linearGradient><linearGradient id="s172" x2="0" y2="1"><stop offset="0" stop-color="#ffe9df"/><stop offset="0.01" stop-color="#ffccaf"/><stop offset="0.016" stop-color="#ffa570"/><stop offset="0.023" stop-color="#ff8c40"/><stop offset="0.029" stop-color="#ff6b00"/><stop offset="0.088" stop-color="#ffb800"/><stop offset="0.094" stop-color="#ffb900"/><stop offset="0.101" stop-color="#ffc800"/><stop offset="0.107" stop-color="#ffc900"/><stop offset="0.114" stop-color="#ffd700"/><stop offset="0.153" stop-color="#fffe00"/><stop offset="0.373" stop-color="#00faff"/><stop offset="0.432" stop-color="#00c0ff"/><stop offset="0.438" stop-color="#00c4ff"/><stop offset="0.451" stop-color="#00f1ff"/><stop offset="0.516" stop-color="#00bcff"/><stop offset="0.698" stop-color="#0002ff"/><stop offset="0.867" stop-color="#000080"/><stop offset="0.997" stop-color="#000080"/></linearGradient><linearGradient id="s173" x2="0" y2="1"><stop offset="0" stop-color="#ffcbbf"/><stop offset="0.009" stop-color="#ff9980"/><stop offset="0.016" stop-color="#ff7550"/><stop offset="0.022" stop-color="#ff4b10"/><stop offset="0.028" stop-color="#ff4900"/><stop offset="0.066" stop-color="#ff7a00"/><stop offset="0.073" stop-color="#ff7a00"/><stop offset="0.079" stop-color="#ff8b00"/><stop offset="0.085" stop-color="#ff8b00"/><stop offset="0.092" stop-color="#ff9c00"/><stop offset="0.117" stop-color="#ffb700"/><stop offset="0.174" stop-color="#fffb00"/><stop offset="0.37" stop-color="#12ffed"/><stop offset="0.396" stop-color="#00f3ff"/><stop offset="0.459" stop-color="#00b5ff"/><stop offset="0.465" stop-color="#00c2ff"/><stop offset="0.472" stop-color="#00ddff"/><stop offset="0.509" stop-color="#00c7ff"/><stop offset="0.706" stop-color="#0001fe"/><stop offset="0.864" stop-color="#000080"/><stop offset="0.997" stop-color="#000080"/></linearGradient><linearGradient id="s174" x2="0" y2="1"><stop offset="0" stop-color="#fec1bf"/><stop offset="0.022" stop-color="#ff1600"/><stop offset="0.071" stop-color="#ff5e00"/><stop offset="0.077" stop-color="#ff5d00"/><stop offset="0.09" stop-color="#ff7300"/><stop offset="0.102" stop-color="#ff8700"/><stop offset="0.108" stop-color="#ff8700"/><stop offset="0.114" stop-color="#ff9900"/><stop offset="0.139" stop-color="#ffb200"/><stop offset="0.145" stop-color="#ffc000"/><stop offset="0.201" stop-color="#fafd05"/><stop offset="0.404" stop-color="#00faff"/><stop offset="0.472" stop-color="#00afff"/><stop offset="0.485" stop-color="#00b1ff"/><stop offset="0.491" stop-color="#00c8ff"/><stop offset="0.503" stop-color="#00ceff"/><stop offset="0.59" stop-color="#007bff"/><stop offset="0.713" stop-color="#0000fc"/><stop offset="0.867" stop-color="#000080"/><stop offset="0.997" stop-color="#000080"/></linearGradient><linearGradient id="s175" x2="0" y2="1"><stop offset="0" stop-color="#f9cfcf"/><stop offset="0.009" stop-color="#f38f8f"/><stop offset="0.015" stop-color="#f04040"/><stop offset="0.021" stop-color="#f40000"/><stop offset="0.039" stop-color="#ff0700"/><stop offset="0.045" stop-color="#ff1700"/><stop offset="0.063" stop-color="#ff2f00"/><stop offset="0.069" stop-color="#ff2f00"/><stop offset="0.075" stop-color="#ff4400"/><stop offset="0.087" stop-color="#ff4b00"/><stop offset="0.093" stop-color="#ff5b00"/><stop offset="0.099" stop-color="#ff5c00"/><stop offset="0.111" stop-color="#ff7300"/><stop offset="0.117" stop-color="#ff7300"/><stop offset="0.123" stop-color="#ff8500"/><stop offset="0.148" stop-color="#ff9e00"/><stop offset="0.154" stop-color="#ffad00"/><stop offset="0.22" stop-color="#fefe01"/><stop offset="0.413" stop-color="#00ffff"/><stop offset="0.485" stop-color="#00a9ff"/><stop offset="0.503" stop-color="#00a0ff"/><stop offset="0.515" stop-color="#00c5ff"/><stop offset="0.569" stop-color="#0098ff"/><stop offset="0.714" stop-color="#0001fe"/><stop offset="0.87" stop-color="#000080"/><stop offset="0.991" stop-color="#000080"/><stop offset="0.997" stop-color="#4040a0"/></linearGradient><linearGradient id="s176" x2="0" y2="1"><stop offset="0" stop-color="#fbefef"/><stop offset="0.009" stop-color="#eaafaf"/><stop offset="0.021" stop-color="#d11010"/><stop offset="0.026" stop-color="#d70000"/><stop offset="0.056" stop-color="#ff0200"/><stop offset="0.062" stop-color="#ff0100"/><stop offset="0.068" stop-color="#ff1600"/><stop offset="0.079" stop-color="#ff1d00"/><stop offset="0.085" stop-color="#ff2e00"/><stop offset="0.097" stop-color="#ff3a00"/><stop offset="0.103" stop-color="#ff4800"/><stop offset="0.109" stop-color="#ff4900"/><stop offset="0.121" stop-color="#ff6000"/><stop offset="0.126" stop-color="#ff6300"/><stop offset="0.138" stop-color="#ff7800"/><stop offset="0.238" stop-color="#fdfe02"/><stop offset="0.385" stop-color="#39ffc6"/><stop offset="0.391" stop-color="#2affd5"/><stop offset="0.415" stop-color="#0efff1"/><stop offset="0.421" stop-color="#02fffd"/><stop offset="0.426" stop-color="#02fefd"/><stop offset="0.432" stop-color="#00f0ff"/><stop offset="0.438" stop-color="#00efff"/><stop offset="0.444" stop-color="#00e0ff"/><stop offset="0.521" stop-color="#008fff"/><stop offset="0.526" stop-color="#0098ff"/><stop offset="0.532" stop-color="#00b6ff"/><stop offset="0.562" stop-color="#00a7ff"/><stop offset="0.721" stop-color="#0001fd"/><stop offset="0.874" stop-color="#000080"/><stop offset="0.991" stop-color="#000080"/><stop offset="0.997" stop-color="#4040a0"/></linearGradient><linearGradient id="s177" x2="0" y2="1"><stop offset="0" stop-color="#e8bfbf"/><stop offset="0.009" stop-color="#ca6060"/><stop offset="0.015" stop-color="#b71010"/><stop offset="0.02" stop-color="#b80000"/><stop offset="0.026" stop-color="#c50000"/><stop offset="0.032" stop-color="#c50000"/><stop offset="0.038" stop-color="#d70000"/><stop offset="0.044" stop-color="#d60000"/><stop offset="0.073" stop-color="#ff0600"/><stop offset="0.09" stop-color="#ff1f00"/><stop offset="0.125" stop-color="#ff5200"/><stop offset="0.247" stop-color="#fffc00"/><stop offset="0.416" stop-color="#17ffe8"/><stop offset="0.422" stop-color="#06fff8"/><stop offset="0.445" stop-color="#00eeff"/><stop offset="0.451" stop-color="#00dcff"/><stop offset="0.456" stop-color="#00dcff"/><stop offset="0.485" stop-color="#00b1ff"/><stop offset="0.532" stop-color="#007eff"/><stop offset="0.538" stop-color="#0084ff"/><stop offset="0.544" stop-color="#00a9ff"/><stop offset="0.555" stop-color="#00aeff"/><stop offset="0.724" stop-color="#0000fd"/><stop offset="0.875" stop-color="#000080"/><stop offset="0.991" stop-color="#000080"/><stop offset="0.997" stop-color="#6060b0"/></linearGradient><linearGradient id="s178" x2="0" y2="1"><stop offset="0" stop-color="#f8efef"/><stop offset="0.009" stop-color="#c78080"/><stop offset="0.014" stop-color="#a32020"/><stop offset="0.02" stop-color="#a00000"/><stop offset="0.026" stop-color="#a30000"/><stop offset="0.031" stop-color="#b20000"/><stop offset="0.071" stop-color="#ea0000"/><stop offset="0.089" stop-color="#fe0700"/><stop offset="0.26" stop-color="#fefb01"/><stop offset="0.431" stop-color="#08fff7"/><stop offset="0.449" stop-color="#00f1ff"/><stop offset="0.466" stop-color="#00daff"/><stop offset="0.471" stop-color="#00c9ff"/><stop offset="0.477" stop-color="#00c9ff"/><stop offset="0.483" stop-color="#00baff"/><stop offset="0.546" stop-color="#006dff"/><stop offset="0.551" stop-color="#0075ff"/><stop offset="0.557" stop-color="#00aaff"/><stop offset="0.603" stop-color="#0086ff"/><stop offset="0.729" stop-color="#0000fc"/><stop offset="0.877" stop-color="#000080"/><stop offset="0.991" stop-color="#000080"/><stop offset="0.997" stop-color="#8080c0"/></linearGradient><linearGradient id="s179" x2="0" y2="1"><stop offset="0" stop-color="#9e3030"/><stop offset="0.009" stop-color="#8c0000"/><stop offset="0.089" stop-color="#fe0500"/><stop offset="0.26" stop-color="#fefc02"/><stop offset="0.414" stop-color="#1dffe2"/><stop offset="0.443" stop-color="#00f4ff"/><stop offset="0.54" stop-color="#006cff"/><stop offset="0.551" stop-color="#0060ff"/><stop offset="0.563" stop-color="#00a8ff"/><stop offset="0.631" stop-color="#0066ff"/><stop offset="0.729" stop-color="#0000fa"/><stop offset="0.877" stop-color="#000080"/><stop offset="0.991" stop-color="#000080"/><stop offset="0.997" stop-color="#9f9fcf"/></linearGradient><linearGradient id="s180" x2="0" y2="1"><stop offset="0" stop-color="#ac5050"/><stop offset="0.009" stop-color="#890000"/><stop offset="0.089" stop-color="#fe0200"/><stop offset="0.26" stop-color="#fffa00"/><stop offset="0.346" stop-color="#87ff78"/><stop offset="0.431" stop-color="#05fffa"/><stop offset="0.551" stop-color="#005cff"/><stop offset="0.563" stop-color="#00a8ff"/><stop offset="0.62" stop-color="#0073ff"/><stop offset="0.729" stop-color="#0000fa"/><stop offset="0.877" stop-color="#000080"/><stop offset="0.991" stop-color="#000080"/><stop offset="0.997" stop-color="#bfbfdf"/></linearGradient><linearGradient id="s181" x2="0" y2="1"><stop offset="0" stop-color="#c78080"/><stop offset="0.009" stop-color="#9a1010"/><stop offset="0.014" stop-color="#9b0000"/><stop offset="0.083" stop-color="#fe0400"/><stop offset="0.261" stop-color="#fafe04"/><stop offset="0.302" stop-color="#c5ff3a"/><stop offset="0.434" stop-color="#01fbfe"/><stop offset="0.549" stop-color="#005eff"/><stop offset="0.555" stop-color="#009aff"/><stop offset="0.56" stop-color="#00abff"/><stop offset="0.647" stop-color="#0053ff"/><stop offset="0.727" stop-color="#0000fa"/><stop offset="0.871" stop-color="#000080"/><stop offset="0.991" stop-color="#000080"/><stop offset="0.997" stop-color="#efeff7"/></linearGradient><linearGradient id="s182" x2="0" y2="1"><stop offset="0" stop-color="#f9efef"/><stop offset="0.009" stop-color="#d48f8f"/><stop offset="0.015" stop-color="#b02020"/><stop offset="0.02" stop-color="#ab0000"/><stop offset="0.078" stop-color="#fd0400"/><stop offset="0.224" stop-color="#ffd100"/><stop offset="0.259" stop-color="#fefa01"/><stop offset="0.282" stop-color="#d9ff26"/><stop offset="0.288" stop-color="#d8ff27"/><stop offset="0.299" stop-color="#c1ff3e"/><stop offset="0.328" stop-color="#99ff66"/><stop offset="0.363" stop-color="#65ff9a"/><stop offset="0.381" stop-color="#4effb1"/><stop offset="0.387" stop-color="#40ffbe"/><stop offset="0.398" stop-color="#34ffcb"/><stop offset="0.404" stop-color="#27ffd8"/><stop offset="0.41" stop-color="#27ffd8"/><stop offset="0.422" stop-color="#0efff2"/><stop offset="0.445" stop-color="#00f5ff"/><stop offset="0.451" stop-color="#00e2ff"/><stop offset="0.462" stop-color="#00daff"/><stop offset="0.468" stop-color="#00c8ff"/><stop offset="0.474" stop-color="#00caff"/><stop offset="0.497" stop-color="#00a3ff"/><stop offset="0.503" stop-color="#00a2ff"/><stop offset="0.526" stop-color="#0080ff"/><stop offset="0.544" stop-color="#0071ff"/><stop offset="0.549" stop-color="#009bff"/><stop offset="0.555" stop-color="#00b1ff"/><stop offset="0.637" stop-color="#0061ff"/><stop offset="0.724" stop-color="#0001fe"/><stop offset="0.875" stop-color="#000080"/><stop offset="0.997" stop-color="#000080"/></linearGradient><linearGradient id="s183" x2="0" y2="1"><stop offset="0" stop-color="#f1cfcf"/><stop offset="0.009" stop-color="#d67070"/><stop offset="0.015" stop-color="#c72020"/><stop offset="0.021" stop-color="#c40000"/><stop offset="0.062" stop-color="#fd0400"/><stop offset="0.222" stop-color="#ffd800"/><stop offset="0.228" stop-color="#ffe700"/><stop offset="0.234" stop-color="#ffe800"/><stop offset="0.246" stop-color="#fffc00"/><stop offset="0.251" stop-color="#fcfd03"/><stop offset="0.257" stop-color="#ecff13"/><stop offset="0.269" stop-color="#e1ff1e"/><stop offset="0.281" stop-color="#d5ff2a"/><stop offset="0.293" stop-color="#bdff42"/><stop offset="0.299" stop-color="#beff41"/><stop offset="0.305" stop-color="#a9ff56"/><stop offset="0.317" stop-color="#a5ff5a"/><stop offset="0.322" stop-color="#8eff71"/><stop offset="0.334" stop-color="#8cff73"/><stop offset="0.34" stop-color="#73ff8c"/><stop offset="0.352" stop-color="#73ff8c"/><stop offset="0.358" stop-color="#5affa5"/><stop offset="0.37" stop-color="#58ffa8"/><stop offset="0.376" stop-color="#41ffbe"/><stop offset="0.388" stop-color="#3cffc3"/><stop offset="0.393" stop-color="#2affd5"/><stop offset="0.399" stop-color="#2cffd3"/><stop offset="0.411" stop-color="#13ffec"/><stop offset="0.417" stop-color="#15ffea"/><stop offset="0.429" stop-color="#02fcfd"/><stop offset="0.435" stop-color="#01f8fe"/><stop offset="0.441" stop-color="#00e8ff"/><stop offset="0.447" stop-color="#00e8ff"/><stop offset="0.453" stop-color="#00d7ff"/><stop offset="0.476" stop-color="#00bdff"/><stop offset="0.518" stop-color="#008fff"/><stop offset="0.524" stop-color="#008cff"/><stop offset="0.53" stop-color="#009bff"/><stop offset="0.536" stop-color="#00b8ff"/><stop offset="0.559" stop-color="#00aeff"/><stop offset="0.719" stop-color="#0001fe"/><stop offset="0.873" stop-color="#000080"/><stop offset="0.991" stop-color="#000080"/><stop offset="0.997" stop-color="#4040a0"/></linearGradient><linearGradient id="s184" x2="0" y2="1"><stop offset="0" stop-color="#f6cfcf"/><stop offset="0.009" stop-color="#e47070"/><stop offset="0.015" stop-color="#dd2020"/><stop offset="0.021" stop-color="#df0000"/><stop offset="0.051" stop-color="#ff0900"/><stop offset="0.19" stop-color="#ffc200"/><stop offset="0.196" stop-color="#ffc300"/><stop offset="0.202" stop-color="#ffd500"/><stop offset="0.208" stop-color="#ffd400"/><stop offset="0.232" stop-color="#fffb00"/><stop offset="0.238" stop-color="#fffa00"/><stop offset="0.256" stop-color="#e9ff16"/><stop offset="0.262" stop-color="#d7ff28"/><stop offset="0.268" stop-color="#d8ff26"/><stop offset="0.28" stop-color="#c1ff3e"/><stop offset="0.286" stop-color="#c2ff3d"/><stop offset="0.292" stop-color="#aeff50"/><stop offset="0.304" stop-color="#a9ff56"/><stop offset="0.31" stop-color="#92ff6e"/><stop offset="0.322" stop-color="#8cff73"/><stop offset="0.328" stop-color="#7bff84"/><stop offset="0.334" stop-color="#7eff81"/><stop offset="0.346" stop-color="#65ff9a"/><stop offset="0.352" stop-color="#65ff9a"/><stop offset="0.358" stop-color="#52ffad"/><stop offset="0.37" stop-color="#47ffb8"/><stop offset="0.377" stop-color="#3affc5"/><stop offset="0.383" stop-color="#3affc5"/><stop offset="0.413" stop-color="#0dfef2"/><stop offset="0.431" stop-color="#02f5fd"/><stop offset="0.437" stop-color="#00e7ff"/><stop offset="0.443" stop-color="#00e9ff"/><stop offset="0.449" stop-color="#00dbff"/><stop offset="0.455" stop-color="#00dbff"/><stop offset="0.467" stop-color="#00c7ff"/><stop offset="0.497" stop-color="#00b3ff"/><stop offset="0.515" stop-color="#00ccff"/><stop offset="0.575" stop-color="#0098ff"/><stop offset="0.714" stop-color="#0001fe"/><stop offset="0.87" stop-color="#000080"/><stop offset="0.991" stop-color="#000080"/><stop offset="0.997" stop-color="#7070b8"/></linearGradient><linearGradient id="s185" x2="0" y2="1"><stop offset="0" stop-color="#f7afaf"/><stop offset="0.009" stop-color="#f16060"/><stop offset="0.015" stop-color="#f00000"/><stop offset="0.034" stop-color="#ff0900"/><stop offset="0.12" stop-color="#ff7300"/><stop offset="0.126" stop-color="#ff8100"/><stop offset="0.169" stop-color="#ffb200"/><stop offset="0.175" stop-color="#ffbf00"/><stop offset="0.181" stop-color="#ffbe00"/><stop offset="0.187" stop-color="#ffd100"/><stop offset="0.193" stop-color="#ffd000"/><stop offset="0.218" stop-color="#fff600"/><stop offset="0.224" stop-color="#fff400"/><stop offset="0.23" stop-color="#f4ff0b"/><stop offset="0.236" stop-color="#f6ff09"/><stop offset="0.248" stop-color="#e0ff1f"/><stop offset="0.255" stop-color="#e1ff1e"/><stop offset="0.261" stop-color="#ccff33"/><stop offset="0.267" stop-color="#cdff32"/><stop offset="0.279" stop-color="#b6ff49"/><stop offset="0.285" stop-color="#b4ff4a"/><stop offset="0.291" stop-color="#a5ff5a"/><stop offset="0.304" stop-color="#98ff67"/><stop offset="0.316" stop-color="#8bff74"/><stop offset="0.322" stop-color="#7bff84"/><stop offset="0.353" stop-color="#56ffa8"/><stop offset="0.408" stop-color="#0dfef2"/><stop offset="0.451" stop-color="#00e2ff"/><stop offset="0.482" stop-color="#00dfff"/><stop offset="0.506" stop-color="#00d8ff"/><stop offset="0.709" stop-color="#0001fe"/><stop offset="0.868" stop-color="#000080"/><stop offset="0.991" stop-color="#000080"/><stop offset="0.997" stop-color="#9f9fcf"/></linearGradient><linearGradient id="s186" x2="0" y2="1"><stop offset="0" stop-color="#feefef"/><stop offset="0.009" stop-color="#fe8080"/><stop offset="0.016" stop-color="#fe2220"/><stop offset="0.022" stop-color="#ff0900"/><stop offset="0.121" stop-color="#ff7e00"/><stop offset="0.127" stop-color="#ff8d00"/><stop offset="0.134" stop-color="#ff8e00"/><stop offset="0.171" stop-color="#ffbc00"/><stop offset="0.177" stop-color="#ffcb00"/><stop offset="0.183" stop-color="#ffca00"/><stop offset="0.189" stop-color="#ffda00"/><stop offset="0.196" stop-color="#ffd900"/><stop offset="0.202" stop-color="#ffe900"/><stop offset="0.227" stop-color="#f8fd07"/><stop offset="0.239" stop-color="#ecff13"/><stop offset="0.245" stop-color="#dbff24"/><stop offset="0.314" stop-color="#88ff76"/><stop offset="0.394" stop-color="#27ffd8"/><stop offset="0.438" stop-color="#0afcf5"/><stop offset="0.475" stop-color="#00f4ff"/><stop offset="0.599" stop-color="#0072ff"/><stop offset="0.705" stop-color="#0001fe"/><stop offset="0.86" stop-color="#000080"/><stop offset="0.991" stop-color="#000080"/><stop offset="0.997" stop-color="#cfcfe7"/></linearGradient><linearGradient id="s187" x2="0" y2="1"><stop offset="0" stop-color="#ffefef"/><stop offset="0.016" stop-color="#ff1f10"/><stop offset="0.022" stop-color="#ff1800"/><stop offset="0.218" stop-color="#fcfc03"/><stop offset="0.332" stop-color="#70ff8f"/><stop offset="0.345" stop-color="#67ff98"/><stop offset="0.421" stop-color="#25ffda"/><stop offset="0.472" stop-color="#00faff"/><stop offset="0.706" stop-color="#0001fe"/><stop offset="0.864" stop-color="#000080"/><stop offset="0.991" stop-color="#000080"/><stop offset="0.997" stop-color="#101088"/></linearGradient><linearGradient id="s188" x2="0" y2="1"><stop offset="0" stop-color="#fff0ef"/><stop offset="0.01" stop-color="#ff5340"/><stop offset="0.016" stop-color="#ff1e00"/><stop offset="0.144" stop-color="#ffa900"/><stop offset="0.151" stop-color="#ffb800"/><stop offset="0.157" stop-color="#ffb800"/><stop offset="0.215" stop-color="#fcfc03"/><stop offset="0.272" stop-color="#bfff40"/><stop offset="0.285" stop-color="#acff53"/><stop offset="0.381" stop-color="#51ffae"/><stop offset="0.471" stop-color="#00f9ff"/><stop offset="0.702" stop-color="#0001fe"/><stop offset="0.862" stop-color="#000080"/><stop offset="0.99" stop-color="#000080"/><stop offset="0.997" stop-color="#5050a8"/></linearGradient><linearGradient id="s189" x2="0" y2="1"><stop offset="0" stop-color="#ff8f80"/><stop offset="0.01" stop-color="#ff2400"/><stop offset="0.14" stop-color="#ffad00"/><stop offset="0.211" stop-color="#fcfb03"/><stop offset="0.464" stop-color="#00feff"/><stop offset="0.698" stop-color="#0001fe"/><stop offset="0.854" stop-color="#000083"/><stop offset="0.99" stop-color="#000080"/><stop offset="0.997" stop-color="#8f8fc7"/></linearGradient><linearGradient id="s190" x2="0" y2="1"><stop offset="0" stop-color="#ff7760"/><stop offset="0.01" stop-color="#ff2a00"/><stop offset="0.212" stop-color="#fefb01"/><stop offset="0.415" stop-color="#33ffcc"/><stop offset="0.461" stop-color="#00feff"/><stop offset="0.696" stop-color="#0001fe"/><stop offset="0.853" stop-color="#000082"/><stop offset="0.99" stop-color="#000080"/><stop offset="0.997" stop-color="#dfdfef"/></linearGradient><linearGradient id="s191" x2="0" y2="1"><stop offset="0" stop-color="#ff5f40"/><stop offset="0.01" stop-color="#ff2f00"/><stop offset="0.222" stop-color="#fafe05"/><stop offset="0.394" stop-color="#4dffb2"/><stop offset="0.467" stop-color="#00fbff"/><stop offset="0.699" stop-color="#0001fe"/><stop offset="0.858" stop-color="#000082"/><stop offset="0.99" stop-color="#000080"/><stop offset="0.997" stop-color="#101088"/></linearGradient><linearGradient id="s192" x2="0" y2="1"><stop offset="0" stop-color="#fff2ef"/><stop offset="0.01" stop-color="#ff5630"/><stop offset="0.017" stop-color="#ff3400"/><stop offset="0.228" stop-color="#fbfd04"/><stop offset="0.427" stop-color="#2bffd4"/><stop offset="0.467" stop-color="#01fbfe"/><stop offset="0.699" stop-color="#0002ff"/><stop offset="0.858" stop-color="#000082"/><stop offset="0.99" stop-color="#000080"/><stop offset="0.997" stop-color="#6060b0"/></linearGradient><linearGradient id="s193" x2="0" y2="1"><stop offset="0" stop-color="#ffcbbf"/><stop offset="0.01" stop-color="#ff3300"/><stop offset="0.163" stop-color="#ffc000"/><stop offset="0.23" stop-color="#fbfe04"/><stop offset="0.383" stop-color="#5bffa4"/><stop offset="0.463" stop-color="#02fefd"/><stop offset="0.697" stop-color="#0003fe"/><stop offset="0.857" stop-color="#000082"/><stop offset="0.99" stop-color="#000080"/><stop offset="0.997" stop-color="#afafd7"/></linearGradient><linearGradient id="s194" x2="0" y2="1"><stop offset="0" stop-color="#ffa68f"/><stop offset="0.01" stop-color="#ff3700"/><stop offset="0.171" stop-color="#ffc800"/><stop offset="0.232" stop-color="#faff05"/><stop offset="0.426" stop-color="#27ffd8"/><stop offset="0.466" stop-color="#00f9ff"/><stop offset="0.695" stop-color="#0002ff"/><stop offset="0.856" stop-color="#000081"/><stop offset="0.99" stop-color="#000080"/><stop offset="0.997" stop-color="#efeff7"/></linearGradient><linearGradient id="s195" x2="0" y2="1"><stop offset="0" stop-color="#ff7650"/><stop offset="0.01" stop-color="#ff3b00"/><stop offset="0.167" stop-color="#ffc200"/><stop offset="0.228" stop-color="#fffe00"/><stop offset="0.466" stop-color="#00faff"/><stop offset="0.697" stop-color="#0003ff"/><stop offset="0.861" stop-color="#000080"/><stop offset="0.99" stop-color="#000080"/><stop offset="0.997" stop-color="#5050a8"/></linearGradient><linearGradient id="s196" x2="0" y2="1"><stop offset="0" stop-color="#ffe6df"/><stop offset="0.01" stop-color="#ff4610"/><stop offset="0.017" stop-color="#ff3d00"/><stop offset="0.146" stop-color="#ffaa00"/><stop offset="0.235" stop-color="#fbfe04"/><stop offset="0.439" stop-color="#1effe1"/><stop offset="0.466" stop-color="#01fdfe"/><stop offset="0.697" stop-color="#0004ff"/><stop offset="0.861" stop-color="#000080"/><stop offset="0.99" stop-color="#000080"/><stop offset="0.997" stop-color="#8f8fc7"/></linearGradient><linearGradient id="s197" x2="0" y2="1"><stop offset="0" stop-color="#ff9d80"/><stop offset="0.01" stop-color="#ff3d00"/><stop offset="0.106" stop-color="#ff8600"/><stop offset="0.236" stop-color="#fbff04"/><stop offset="0.462" stop-color="#00fdff"/><stop offset="0.702" stop-color="#0000fd"/><stop offset="0.86" stop-color="#000080"/><stop offset="0.99" stop-color="#000080"/><stop offset="0.997" stop-color="#efeff7"/></linearGradient><linearGradient id="s198" x2="0" y2="1"><stop offset="0" stop-color="#ff5520"/><stop offset="0.01" stop-color="#ff3f00"/><stop offset="0.122" stop-color="#ff9600"/><stop offset="0.233" stop-color="#fdff02"/><stop offset="0.462" stop-color="#03fdfc"/><stop offset="0.705" stop-color="#0001fd"/><stop offset="0.865" stop-color="#000080"/><stop offset="0.99" stop-color="#000080"/><stop offset="0.997" stop-color="#5050a8"/></linearGradient><linearGradient id="s199" x2="0" y2="1"><stop offset="0" stop-color="#ffaa8f"/><stop offset="0.01" stop-color="#ff3d00"/><stop offset="0.101" stop-color="#ff7c00"/><stop offset="0.233" stop-color="#feff01"/><stop offset="0.469" stop-color="#00fbff"/><stop offset="0.705" stop-color="#0001fe"/><stop offset="0.865" stop-color="#000080"/><stop offset="0.99" stop-color="#000080"/><stop offset="0.997" stop-color="#9f9fcf"/></linearGradient><linearGradient id="s200" x2="0" y2="1"><stop offset="0" stop-color="#fff3ef"/><stop offset="0.01" stop-color="#ff4910"/><stop offset="0.017" stop-color="#ff3e00"/><stop offset="0.108" stop-color="#ff8000"/><stop offset="0.24" stop-color="#fcff03"/><stop offset="0.469" stop-color="#00faff"/><stop offset="0.705" stop-color="#0002ff"/><stop offset="0.865" stop-color="#000080"/><stop offset="0.983" stop-color="#000080"/><stop offset="0.99" stop-color="#101088"/><stop offset="0.997" stop-color="#efeff7"/></linearGradient><linearGradient id="s201" x2="0" y2="1"><stop offset="0" stop-color="#ff9e80"/><stop offset="0.011" stop-color="#ff3d00"/><stop offset="0.088" stop-color="#ff7000"/><stop offset="0.236" stop-color="#fcff02"/><stop offset="0.468" stop-color="#02fefd"/><stop offset="0.708" stop-color="#0002fe"/><stop offset="0.87" stop-color="#000080"/><stop offset="0.989" stop-color="#000080"/><stop offset="0.996" stop-color="#7070b8"/></linearGradient><linearGradient id="s202" x2="0" y2="1"><stop offset="0" stop-color="#ffe7df"/><stop offset="0.011" stop-color="#ff3c00"/><stop offset="0.074" stop-color="#ff6000"/><stop offset="0.243" stop-color="#f9ff06"/><stop offset="0.468" stop-color="#00fefe"/><stop offset="0.708" stop-color="#0003ff"/><stop offset="0.87" stop-color="#000080"/><stop offset="0.989" stop-color="#000080"/><stop offset="0.996" stop-color="#bfbfdf"/></linearGradient><linearGradient id="s203" x2="0" y2="1"><stop offset="0" stop-color="#ff6030"/><stop offset="0.011" stop-color="#ff3b00"/><stop offset="0.089" stop-color="#ff6f00"/><stop offset="0.239" stop-color="#f8fe06"/><stop offset="0.468" stop-color="#04fefb"/><stop offset="0.718" stop-color="#0001fc"/><stop offset="0.868" stop-color="#000082"/><stop offset="0.989" stop-color="#000080"/><stop offset="0.996" stop-color="#4040a0"/></linearGradient><linearGradient id="s204" x2="0" y2="1"><stop offset="0" stop-color="#ffb59f"/><stop offset="0.011" stop-color="#ff3a00"/><stop offset="0.075" stop-color="#ff6000"/><stop offset="0.239" stop-color="#fdfe02"/><stop offset="0.475" stop-color="#00fcff"/><stop offset="0.711" stop-color="#0005ff"/><stop offset="0.875" stop-color="#000080"/><stop offset="0.989" stop-color="#000080"/><stop offset="0.996" stop-color="#9f9fcf"/></linearGradient><linearGradient id="s205" x2="0" y2="1"><stop offset="0" stop-color="#fff3ef"/><stop offset="0.011" stop-color="#ff3800"/><stop offset="0.068" stop-color="#ff5700"/><stop offset="0.239" stop-color="#feff01"/><stop offset="0.475" stop-color="#01fbfe"/><stop offset="0.718" stop-color="#0001fd"/><stop offset="0.875" stop-color="#000080"/><stop offset="0.982" stop-color="#000080"/><stop offset="0.989" stop-color="#101088"/><stop offset="0.996" stop-color="#efeff7"/></linearGradient><linearGradient id="s206" x2="0" y2="1"><stop offset="0" stop-color="#ff5e30"/><stop offset="0.011" stop-color="#ff3700"/><stop offset="0.083" stop-color="#ff6700"/><stop offset="0.243" stop-color="#faff05"/><stop offset="0.475" stop-color="#02fefd"/><stop offset="0.721" stop-color="#0002ff"/><stop offset="0.873" stop-color="#000081"/><stop offset="0.989" stop-color="#000080"/><stop offset="0.996" stop-color="#8080c0"/></linearGradient><linearGradient id="s207" x2="0" y2="1"><stop offset="0" stop-color="#ffb49f"/><stop offset="0.011" stop-color="#ff3600"/><stop offset="0.069" stop-color="#ff5800"/><stop offset="0.243" stop-color="#fbfe04"/><stop offset="0.475" stop-color="#02fdfd"/><stop offset="0.721" stop-color="#0003ff"/><stop offset="0.873" stop-color="#000081"/><stop offset="0.989" stop-color="#000080"/><stop offset="0.996" stop-color="#dfdfef"/></linearGradient><linearGradient id="s208" x2="0" y2="1"><stop offset="0" stop-color="#fff3ef"/><stop offset="0.011" stop-color="#ff3600"/><stop offset="0.062" stop-color="#ff4f00"/><stop offset="0.245" stop-color="#feff02"/><stop offset="0.478" stop-color="#02fffc"/><stop offset="0.726" stop-color="#0003ff"/><stop offset="0.88" stop-color="#000081"/><stop offset="0.989" stop-color="#000080"/><stop offset="0.996" stop-color="#8080c0"/></linearGradient><linearGradient id="s209" x2="0" y2="1"><stop offset="0" stop-color="#ff5b30"/><stop offset="0.011" stop-color="#ff3400"/><stop offset="0.085" stop-color="#ff6600"/><stop offset="0.239" stop-color="#fdfc02"/><stop offset="0.482" stop-color="#00faff"/><stop offset="0.724" stop-color="#0004ff"/><stop offset="0.879" stop-color="#000080"/><stop offset="0.989" stop-color="#000080"/><stop offset="0.996" stop-color="#efeff7"/></linearGradient><linearGradient id="s210" x2="0" y2="1"><stop offset="0" stop-color="#ffb49f"/><stop offset="0.011" stop-color="#ff3400"/><stop offset="0.078" stop-color="#ff5e00"/><stop offset="0.241" stop-color="#fffe00"/><stop offset="0.485" stop-color="#01fdfe"/><stop offset="0.73" stop-color="#0006ff"/><stop offset="0.885" stop-color="#000080"/><stop offset="0.989" stop-color="#000080"/><stop offset="0.996" stop-color="#7070b8"/></linearGradient><linearGradient id="s211" x2="0" y2="1"><stop offset="0" stop-color="#fff2ef"/><stop offset="0.011" stop-color="#ff3500"/><stop offset="0.063" stop-color="#ff5000"/><stop offset="0.248" stop-color="#faff05"/><stop offset="0.485" stop-color="#01fcfe"/><stop offset="0.737" stop-color="#0000fd"/><stop offset="0.885" stop-color="#000080"/><stop offset="0.981" stop-color="#000080"/><stop offset="0.989" stop-color="#101088"/><stop offset="0.996" stop-color="#efeff7"/></linearGradient><linearGradient id="s212" x2="0" y2="1"><stop offset="0" stop-color="#ff8160"/><stop offset="0.011" stop-color="#ff3400"/><stop offset="0.086" stop-color="#ff6800"/><stop offset="0.244" stop-color="#fdfe02"/><stop offset="0.485" stop-color="#02fefd"/><stop offset="0.741" stop-color="#0002fe"/><stop offset="0.891" stop-color="#000080"/><stop offset="0.989" stop-color="#000080"/><stop offset="0.996" stop-color="#8f8fc7"/></linearGradient><linearGradient id="s213" x2="0" y2="1"><stop offset="0" stop-color="#ffe6df"/><stop offset="0.011" stop-color="#ff3500"/><stop offset="0.072" stop-color="#ff5a00"/><stop offset="0.246" stop-color="#fbfe04"/><stop offset="0.489" stop-color="#03fefc"/><stop offset="0.746" stop-color="#0001fe"/><stop offset="0.898" stop-color="#000080"/><stop offset="0.989" stop-color="#000080"/><stop offset="0.996" stop-color="#303098"/></linearGradient><linearGradient id="s214" x2="0" y2="1"><stop offset="0" stop-color="#ff8260"/><stop offset="0.011" stop-color="#ff3700"/><stop offset="0.095" stop-color="#ff7400"/><stop offset="0.24" stop-color="#fdfe02"/><stop offset="0.492" stop-color="#00f9ff"/><stop offset="0.744" stop-color="#0001ff"/><stop offset="0.897" stop-color="#000080"/><stop offset="0.989" stop-color="#000080"/><stop offset="0.996" stop-color="#cfcfe7"/></linearGradient><linearGradient id="s215" x2="0" y2="1"><stop offset="0" stop-color="#ffcebf"/><stop offset="0.012" stop-color="#ff3800"/><stop offset="0.081" stop-color="#ff6500"/><stop offset="0.242" stop-color="#fdfd02"/><stop offset="0.496" stop-color="#01f9fe"/><stop offset="0.75" stop-color="#0003fe"/><stop offset="0.904" stop-color="#000080"/><stop offset="0.988" stop-color="#000080"/><stop offset="0.996" stop-color="#6060b0"/></linearGradient><linearGradient id="s216" x2="0" y2="1"><stop offset="0" stop-color="#ff9170"/><stop offset="0.012" stop-color="#ff3b00"/><stop offset="0.089" stop-color="#ff7100"/><stop offset="0.244" stop-color="#f9ff06"/><stop offset="0.492" stop-color="#00fcff"/><stop offset="0.748" stop-color="#0004ff"/><stop offset="0.903" stop-color="#000080"/><stop offset="0.981" stop-color="#000080"/><stop offset="0.988" stop-color="#303098"/><stop offset="0.996" stop-color="#efeff7"/></linearGradient><linearGradient id="s217" x2="0" y2="1"><stop offset="0" stop-color="#fff3ef"/><stop offset="0.012" stop-color="#ff5620"/><stop offset="0.02" stop-color="#ff3f00"/><stop offset="0.129" stop-color="#ff9400"/><stop offset="0.246" stop-color="#f9ff06"/><stop offset="0.496" stop-color="#01fcfe"/><stop offset="0.754" stop-color="#0003ff"/><stop offset="0.91" stop-color="#000080"/><stop offset="0.988" stop-color="#000080"/><stop offset="0.996" stop-color="#dfdfef"/></linearGradient><linearGradient id="s218" x2="0" y2="1"><stop offset="0" stop-color="#ffc3af"/><stop offset="0.012" stop-color="#ff4100"/><stop offset="0.099" stop-color="#ff7f00"/><stop offset="0.242" stop-color="#f9ff06"/><stop offset="0.496" stop-color="#00fcff"/><stop offset="0.766" stop-color="#0000fc"/><stop offset="0.909" stop-color="#000081"/><stop offset="0.988" stop-color="#000080"/><stop offset="0.996" stop-color="#9f9fcf"/></linearGradient><linearGradient id="s219" x2="0" y2="1"><stop offset="0" stop-color="#ffb99f"/><stop offset="0.012" stop-color="#ff4600"/><stop offset="0.109" stop-color="#ff8c00"/><stop offset="0.238" stop-color="#faff04"/><stop offset="0.496" stop-color="#01fefe"/><stop offset="0.77" stop-color="#0000fb"/><stop offset="0.915" stop-color="#000081"/><stop offset="0.988" stop-color="#000080"/><stop offset="0.996" stop-color="#9f9fcf"/></linearGradient><linearGradient id="s220" x2="0" y2="1"><stop offset="0" stop-color="#ffbb9f"/><stop offset="0.012" stop-color="#ff4c00"/><stop offset="0.135" stop-color="#ffa900"/><stop offset="0.234" stop-color="#fbfe04"/><stop offset="0.496" stop-color="#03fefc"/><stop offset="0.775" stop-color="#0001fd"/><stop offset="0.922" stop-color="#000081"/><stop offset="0.988" stop-color="#000080"/><stop offset="0.996" stop-color="#8080c0"/></linearGradient><linearGradient id="s221" x2="0" y2="1"><stop offset="0" stop-color="#ff9160"/><stop offset="0.013" stop-color="#ff5200"/><stop offset="0.129" stop-color="#ffa800"/><stop offset="0.229" stop-color="#fbff04"/><stop offset="0.504" stop-color="#00faff"/><stop offset="0.779" stop-color="#0001fd"/><stop offset="0.929" stop-color="#000081"/><stop offset="0.988" stop-color="#000080"/><stop offset="0.996" stop-color="#6060b0"/></linearGradient><linearGradient id="s222" x2="0" y2="1"><stop offset="0" stop-color="#ff9560"/><stop offset="0.013" stop-color="#ff5800"/><stop offset="0.131" stop-color="#ffb000"/><stop offset="0.225" stop-color="#fbff04"/><stop offset="0.504" stop-color="#00f9ff"/><stop offset="0.784" stop-color="#0001fe"/><stop offset="0.936" stop-color="#000080"/><stop offset="0.987" stop-color="#000080"/><stop offset="0.996" stop-color="#6060b0"/></linearGradient><linearGradient id="s223" x2="0" y2="1"><stop offset="0" stop-color="#ffb88f"/><stop offset="0.013" stop-color="#ff6000"/><stop offset="0.159" stop-color="#ffcd00"/><stop offset="0.22" stop-color="#fcfe03"/><stop offset="0.504" stop-color="#00faff"/><stop offset="0.789" stop-color="#0001fd"/><stop offset="0.944" stop-color="#000080"/><stop offset="0.987" stop-color="#000080"/><stop offset="0.996" stop-color="#6060b0"/></linearGradient><linearGradient id="s224" x2="0" y2="1"><stop offset="0" stop-color="#ffcfaf"/><stop offset="0.013" stop-color="#ff7010"/><stop offset="0.022" stop-color="#ff6c00"/><stop offset="0.215" stop-color="#fdfe02"/><stop offset="0.504" stop-color="#00fbff"/><stop offset="0.794" stop-color="#0001fe"/><stop offset="0.952" stop-color="#000080"/><stop offset="0.987" stop-color="#000080"/><stop offset="0.996" stop-color="#8f8fc7"/></linearGradient><linearGradient id="s225" x2="0" y2="1"><stop offset="0" stop-color="#ffecdf"/><stop offset="0.013" stop-color="#ff9340"/><stop offset="0.022" stop-color="#ff7400"/><stop offset="0.21" stop-color="#fcfe02"/><stop offset="0.504" stop-color="#00fcfe"/><stop offset="0.799" stop-color="#0001fe"/><stop offset="0.96" stop-color="#000080"/><stop offset="0.978" stop-color="#000080"/><stop offset="0.987" stop-color="#101088"/><stop offset="0.996" stop-color="#afafd7"/></linearGradient><linearGradient id="s226" x2="0" y2="1"><stop offset="0" stop-color="#ffbb80"/><stop offset="0.014" stop-color="#ff7b00"/><stop offset="0.197" stop-color="#fdfe02"/><stop offset="0.5" stop-color="#00fbfe"/><stop offset="0.803" stop-color="#0001fe"/><stop offset="0.968" stop-color="#000080"/><stop offset="0.977" stop-color="#000080"/><stop offset="0.986" stop-color="#303098"/><stop offset="0.995" stop-color="#dfdfef"/></linearGradient><linearGradient id="s227" x2="0" y2="1"><stop offset="0" stop-color="#ffdfbf"/><stop offset="0.014" stop-color="#ff9520"/><stop offset="0.023" stop-color="#ff8a00"/><stop offset="0.192" stop-color="#fcfe03"/><stop offset="0.5" stop-color="#01fbfe"/><stop offset="0.808" stop-color="#0001fe"/><stop offset="0.977" stop-color="#000080"/><stop offset="0.986" stop-color="#5050a8"/><stop offset="0.995" stop-color="#efeff7"/></linearGradient><linearGradient id="s228" x2="0" y2="1"><stop offset="0" stop-color="#fff8ef"/><stop offset="0.014" stop-color="#ffb860"/><stop offset="0.024" stop-color="#ff9200"/><stop offset="0.188" stop-color="#fdfe02"/><stop offset="0.505" stop-color="#01fcfe"/><stop offset="0.822" stop-color="#0001fe"/><stop offset="0.986" stop-color="#000084"/><stop offset="0.995" stop-color="#8f8fc8"/></linearGradient><linearGradient id="s229" x2="0" y2="1"><stop offset="0" stop-color="#ffeccf"/><stop offset="0.015" stop-color="#ffa820"/><stop offset="0.025" stop-color="#ffa000"/><stop offset="0.173" stop-color="#fcff03"/><stop offset="0.5" stop-color="#00feff"/><stop offset="0.827" stop-color="#0002fe"/><stop offset="0.975" stop-color="#000091"/><stop offset="0.985" stop-color="#20209b"/><stop offset="0.995" stop-color="#cfcfe9"/></linearGradient><linearGradient id="s230" x2="0" y2="1"><stop offset="0" stop-color="#fff9ef"/><stop offset="0.015" stop-color="#ffd180"/><stop offset="0.025" stop-color="#ffaa00"/><stop offset="0.167" stop-color="#fcff03"/><stop offset="0.5" stop-color="#01fefe"/><stop offset="0.833" stop-color="#0002fe"/><stop offset="0.975" stop-color="#000098"/><stop offset="0.985" stop-color="#7070c3"/><stop offset="0.995" stop-color="#efeff8"/></linearGradient><linearGradient id="s231" x2="0" y2="1"><stop offset="0" stop-color="#ffefcf"/><stop offset="0.016" stop-color="#ffc640"/><stop offset="0.026" stop-color="#ffb800"/><stop offset="0.153" stop-color="#fcff03"/><stop offset="0.5" stop-color="#02fdfd"/><stop offset="0.847" stop-color="#0002fe"/><stop offset="0.974" stop-color="#0000a7"/><stop offset="0.984" stop-color="#2020ad"/><stop offset="0.995" stop-color="#bfbfe7"/></linearGradient><linearGradient id="s232" x2="0" y2="1"><stop offset="0" stop-color="#ffe59f"/><stop offset="0.016" stop-color="#ffc920"/><stop offset="0.027" stop-color="#ffc500"/><stop offset="0.136" stop-color="#faff05"/><stop offset="0.495" stop-color="#02fdfd"/><stop offset="0.853" stop-color="#0002fe"/><stop offset="0.973" stop-color="#0000ae"/><stop offset="0.984" stop-color="#5050c4"/><stop offset="0.995" stop-color="#efeff9"/></linearGradient><linearGradient id="s233" x2="0" y2="1"><stop offset="0" stop-color="#ffe170"/><stop offset="0.017" stop-color="#ffcf00"/><stop offset="0.119" stop-color="#f9ff06"/><stop offset="0.494" stop-color="#01fcfe"/><stop offset="0.869" stop-color="#0002fe"/><stop offset="0.972" stop-color="#0000bd"/><stop offset="0.983" stop-color="#1010bc"/><stop offset="0.994" stop-color="#8f8fde"/></linearGradient><linearGradient id="s234" x2="0" y2="1"><stop offset="0" stop-color="#fff7cf"/><stop offset="0.017" stop-color="#ffdf30"/><stop offset="0.029" stop-color="#ffdc00"/><stop offset="0.11" stop-color="#f8ff07"/><stop offset="0.494" stop-color="#02fdfd"/><stop offset="0.878" stop-color="#0002fe"/><stop offset="0.971" stop-color="#0000c5"/><stop offset="0.983" stop-color="#5050d3"/><stop offset="0.994" stop-color="#dfdff6"/></linearGradient><linearGradient id="s235" x2="0" y2="1"><stop offset="0" stop-color="#fff18f"/><stop offset="0.018" stop-color="#ffe810"/><stop offset="0.03" stop-color="#ffeb00"/><stop offset="0.091" stop-color="#f6ff09"/><stop offset="0.494" stop-color="#02fdfd"/><stop offset="0.896" stop-color="#0002fe"/><stop offset="0.982" stop-color="#0000cd"/><stop offset="0.994" stop-color="#8f8fe7"/></linearGradient><linearGradient id="s236" x2="0" y2="1"><stop offset="0" stop-color="#fffcdf"/><stop offset="0.019" stop-color="#fff450"/><stop offset="0.031" stop-color="#fff300"/><stop offset="0.094" stop-color="#eeff11"/><stop offset="0.494" stop-color="#02fdfd"/><stop offset="0.906" stop-color="#0001fe"/><stop offset="0.969" stop-color="#0000da"/><stop offset="0.981" stop-color="#4040e0"/><stop offset="0.994" stop-color="#dfdffa"/></linearGradient><linearGradient id="s237" x2="0" y2="1"><stop offset="0" stop-color="#fffecf"/><stop offset="0.02" stop-color="#fefd20"/><stop offset="0.033" stop-color="#fcff02"/><stop offset="0.296" stop-color="#74ff8a"/><stop offset="0.493" stop-color="#02fdfd"/><stop offset="0.928" stop-color="#0001fe"/><stop offset="0.967" stop-color="#0000e8"/><stop offset="0.98" stop-color="#1010e4"/><stop offset="0.993" stop-color="#8080ef"/></linearGradient><linearGradient id="s238" x2="0" y2="1"><stop offset="0" stop-color="#ffffef"/><stop offset="0.034" stop-color="#f3ff0c"/><stop offset="0.264" stop-color="#83ff7c"/><stop offset="0.493" stop-color="#02fdfd"/><stop offset="0.939" stop-color="#0001fe"/><stop offset="0.966" stop-color="#0000f0"/><stop offset="0.98" stop-color="#4040f0"/><stop offset="0.993" stop-color="#dfdffc"/></linearGradient><linearGradient id="s239" x2="0" y2="1"><stop offset="0" stop-color="#fcffd2"/><stop offset="0.021" stop-color="#f0ff4f"/><stop offset="0.036" stop-color="#e5ff1a"/><stop offset="0.321" stop-color="#5cffa3"/><stop offset="0.493" stop-color="#02fdfd"/><stop offset="0.964" stop-color="#0001fe"/><stop offset="0.979" stop-color="#0000fa"/><stop offset="0.993" stop-color="#8080fa"/></linearGradient><linearGradient id="s240" x2="0" y2="1"><stop offset="0" stop-color="#f2ff9d"/><stop offset="0.022" stop-color="#dfff30"/><stop offset="0.037" stop-color="#d7ff28"/><stop offset="0.366" stop-color="#3effc1"/><stop offset="0.485" stop-color="#02fdfd"/><stop offset="0.963" stop-color="#0007ff"/><stop offset="0.978" stop-color="#4042ff"/><stop offset="0.993" stop-color="#dfdfff"/></linearGradient><linearGradient id="s241" x2="0" y2="1"><stop offset="0" stop-color="#fcfff2"/><stop offset="0.023" stop-color="#dfff60"/><stop offset="0.039" stop-color="#ceff31"/><stop offset="0.32" stop-color="#54ffab"/><stop offset="0.492" stop-color="#02fdfd"/><stop offset="0.961" stop-color="#0016ff"/><stop offset="0.977" stop-color="#1020ff"/><stop offset="0.992" stop-color="#8f95ff"/></linearGradient><linearGradient id="s242" x2="0" y2="1"><stop offset="0" stop-color="#e8ffa6"/><stop offset="0.025" stop-color="#caff45"/><stop offset="0.057" stop-color="#bcff44"/><stop offset="0.484" stop-color="#01fdfe"/><stop offset="0.959" stop-color="#001dff"/><stop offset="0.975" stop-color="#4053ff"/><stop offset="0.992" stop-color="#dfe2ff"/></linearGradient><linearGradient id="s243" x2="0" y2="1"><stop offset="0" stop-color="#fbfff3"/><stop offset="0.026" stop-color="#ceff71"/><stop offset="0.043" stop-color="#b8ff47"/><stop offset="0.405" stop-color="#26ffd9"/><stop offset="0.491" stop-color="#01fdfe"/><stop offset="0.957" stop-color="#002cff"/><stop offset="0.974" stop-color="#1035ff"/><stop offset="0.991" stop-color="#afbaff"/></linearGradient><linearGradient id="s244" x2="0" y2="1"><stop offset="0" stop-color="#dfffb0"/><stop offset="0.027" stop-color="#b0ff4f"/><stop offset="0.427" stop-color="#16ffe8"/><stop offset="0.5" stop-color="#00f6ff"/><stop offset="0.955" stop-color="#0036ff"/><stop offset="0.973" stop-color="#5071ff"/><stop offset="0.991" stop-color="#eff2ff"/></linearGradient><linearGradient id="s245" x2="0" y2="1"><stop offset="0" stop-color="#f0ffdf"/><stop offset="0.029" stop-color="#beff81"/><stop offset="0.048" stop-color="#a2ff5d"/><stop offset="0.49" stop-color="#01fcfe"/><stop offset="0.952" stop-color="#0044ff"/><stop offset="0.971" stop-color="#2057ff"/><stop offset="0.99" stop-color="#bfceff"/></linearGradient><linearGradient id="s246" x2="0" y2="1"><stop offset="0" stop-color="#d5ffb9"/><stop offset="0.031" stop-color="#9aff65"/><stop offset="0.427" stop-color="#15ffea"/><stop offset="0.51" stop-color="#00f6ff"/><stop offset="0.969" stop-color="#004dff"/><stop offset="0.99" stop-color="#7098ff"/></linearGradient><linearGradient id="s247" x2="0" y2="1"><stop offset="0" stop-color="#ecffe3"/><stop offset="0.033" stop-color="#a7ff88"/><stop offset="0.054" stop-color="#8dff72"/><stop offset="0.489" stop-color="#01fcfe"/><stop offset="0.946" stop-color="#005bff"/><stop offset="0.967" stop-color="#4080ff"/><stop offset="0.989" stop-color="#dfeaff"/></linearGradient><linearGradient id="s248" x2="0" y2="1"><stop offset="0" stop-color="#f8fff6"/><stop offset="0.035" stop-color="#aeffa1"/><stop offset="0.058" stop-color="#85ff7a"/><stop offset="0.5" stop-color="#01fcfe"/><stop offset="0.942" stop-color="#0069ff"/><stop offset="0.965" stop-color="#2077ff"/><stop offset="0.988" stop-color="#afceff"/></linearGradient><linearGradient id="s249" x2="0" y2="1"><stop offset="0" stop-color="#b9ffb5"/><stop offset="0.037" stop-color="#7eff81"/><stop offset="0.487" stop-color="#00fcff"/><stop offset="0.912" stop-color="#0078ff"/><stop offset="0.938" stop-color="#107bff"/><stop offset="0.988" stop-color="#eff6ff"/></linearGradient><linearGradient id="s250" x2="0" y2="1"><stop offset="0" stop-color="#deffe0"/><stop offset="0.041" stop-color="#7fff90"/><stop offset="0.122" stop-color="#63ff9c"/><stop offset="0.5" stop-color="#01fdfe"/><stop offset="0.932" stop-color="#0081ff"/><stop offset="0.959" stop-color="#60aeff"/><stop offset="0.986" stop-color="#eff6ff"/></linearGradient><linearGradient id="s251" x2="0" y2="1"><stop offset="0" stop-color="#f6fff8"/><stop offset="0.044" stop-color="#8affa5"/><stop offset="0.074" stop-color="#69ff96"/><stop offset="0.515" stop-color="#00fcff"/><stop offset="0.926" stop-color="#0090ff"/><stop offset="0.956" stop-color="#30a1ff"/><stop offset="0.985" stop-color="#bfe1ff"/></linearGradient><linearGradient id="s252" x2="0" y2="1"><stop offset="0" stop-color="#f6fff8"/><stop offset="0.048" stop-color="#a0ffbe"/><stop offset="0.081" stop-color="#62ff9d"/><stop offset="0.532" stop-color="#00fcff"/><stop offset="0.919" stop-color="#009fff"/><stop offset="0.952" stop-color="#20a7ff"/><stop offset="0.984" stop-color="#9fd8ff"/></linearGradient><linearGradient id="s253" x2="0" y2="1"><stop offset="0" stop-color="#a6ffc9"/><stop offset="0.054" stop-color="#5bffa4"/><stop offset="0.518" stop-color="#00fcff"/><stop offset="0.875" stop-color="#00aeff"/><stop offset="0.911" stop-color="#10aeff"/><stop offset="0.982" stop-color="#eff9ff"/></linearGradient><linearGradient id="s254" x2="0" y2="1"><stop offset="0" stop-color="#c0ffde"/><stop offset="0.06" stop-color="#54ffab"/><stop offset="0.54" stop-color="#00fdff"/><stop offset="0.86" stop-color="#00bfff"/><stop offset="0.9" stop-color="#10bcff"/><stop offset="0.98" stop-color="#effaff"/></linearGradient><linearGradient id="s255" x2="0" y2="1"><stop offset="0" stop-color="#beffe0"/><stop offset="0.068" stop-color="#59ffb6"/><stop offset="0.159" stop-color="#40ffbf"/><stop offset="0.568" stop-color="#00fcff"/><stop offset="0.886" stop-color="#00c8ff"/><stop offset="0.932" stop-color="#60daff"/><stop offset="0.977" stop-color="#effbff"/></linearGradient><linearGradient id="s256" x2="0" y2="1"><stop offset="0" stop-color="#ddfff1"/><stop offset="0.079" stop-color="#52ffbd"/><stop offset="0.184" stop-color="#39ffc6"/><stop offset="0.605" stop-color="#01fcfe"/><stop offset="0.816" stop-color="#00dfff"/><stop offset="0.868" stop-color="#10daff"/><stop offset="0.974" stop-color="#effcff"/></linearGradient><linearGradient id="s257" x2="0" y2="1"><stop offset="0" stop-color="#dcfff2"/><stop offset="0.094" stop-color="#65ffca"/><stop offset="0.156" stop-color="#3affc5"/><stop offset="0.656" stop-color="#00fcff"/><stop offset="0.844" stop-color="#00e7ff"/><stop offset="0.906" stop-color="#60edff"/><stop offset="0.969" stop-color="#dffbff"/></linearGradient><linearGradient id="s258" x2="0" y2="1"><stop offset="0" stop-color="#dbfff4"/><stop offset="0.115" stop-color="#47ffc8"/><stop offset="0.192" stop-color="#34ffcb"/><stop offset="0.731" stop-color="#01fdfe"/><stop offset="0.808" stop-color="#10faff"/><stop offset="0.885" stop-color="#60f6ff"/><stop offset="0.962" stop-color="#dffdff"/></linearGradient><linearGradient id="s259" x2="0" y2="1"><stop offset="0" stop-color="#d9fff5"/><stop offset="0.15" stop-color="#41ffce"/><stop offset="0.25" stop-color="#2effd1"/><stop offset="0.65" stop-color="#10fff0"/><stop offset="0.75" stop-color="#19fff6"/><stop offset="0.95" stop-color="#efffff"/></linearGradient><linearGradient id="s260" x2="0" y2="1"><stop offset="0" stop-color="#d8fff6"/><stop offset="0.214" stop-color="#3bffd4"/><stop offset="0.5" stop-color="#21ffde"/><stop offset="0.643" stop-color="#37ffe8"/><stop offset="0.786" stop-color="#8afff5"/><stop offset="0.929" stop-color="#f0fffe"/></linearGradient><linearGradient id="s261" x2="0" y2="1"><stop offset="0" stop-color="#b0ffef"/><stop offset="0.5" stop-color="#52ffdd"/><stop offset="0.833" stop-color="#acfff2"/></linearGradient></defs><rect x="30" y="178" width="1" height="1" fill="#8f8fc7"/><rect x="31" y="177" width="1" height="2" fill="url(#s0)"/><rect x="32" y="177" width="1" height="2" fill="url(#s1)"/><rect x="33" y="176" width="1" height="3" fill="url(#s2)"/><rect x="34" y="176" width="1" height="2" fill="url(#s3)"/><rect x="35" y="176" width="1" height="2" fill="url(#s4)"/><rect x="36" y="175" width="1" height="3" fill="url(#s5)"/><rect x="37" y="175" width="1" height="3" fill="url(#s6)"/><rect x="38" y="174" width="1" height="3" fill="url(#s7)"/><rect x="39" y="174" width="1" height="3" fill="url(#s8)"/><rect x="40" y="173" width="1" height="4" fill="url(#s9)"/><rect x="41" y="173" width="1" height="4" fill="url(#s10)"/><rect x="42" y="173" width="1" height="3" fill="url(#s11)"/><rect x="43" y="172" width="1" height="4" fill="url(#s12)"/><rect x="44" y="172" width="1" height="4" fill="url(#s13)"/><rect x="45" y="171" width="1" height="4" fill="url(#s14)"/><rect x="46" y="170" width="1" height="5" fill="url(#s15)"/><rect x="47" y="170" width="1" height="5" fill="url(#s16)"/><rect x="48" y="169" width="1" height="5" fill="url(#s17)"/><rect x="49" y="169" width="1" height="5" fill="url(#s18)"/><rect x="50" y="168" width="1" height="5" fill="url(#s19)"/><rect x="51" y="168" width="1" height="5" fill="url(#s20)"/><rect x="52" y="167" width="1" height="5" fill="url(#s21)"/><rect x="53" y="167" width="1" height="5" fill="url(#s22)"/><rect x="54" y="166" width="1" height="6" fill="url(#s23)"/><rect x="55" y="166" width="1" height="5" fill="url(#s24)"/><rect x="56" y="166" width="1" height="5" fill="url(#s25)"/><rect x="57" y="165" width="1" height="5" fill="url(#s26)"/><rect x="58" y="165" width="1" height="5" fill="url(#s27)"/><rect x="59" y="164" width="1" height="5" fill="url(#s28)"/><rect x="60" y="164" width="1" height="4" fill="url(#s29)"/><rect x="61" y="163" width="1" height="5" fill="url(#s30)"/><rect x="62" y="163" width="1" height="4" fill="url(#s31)"/><rect x="63" y="162" width="1" height="5" fill="url(#s32)"/><rect x="64" y="162" width="1" height="5" fill="url(#s33)"/><rect x="65" y="161" width="1" height="7" fill="url(#s34)"/><rect x="66" y="161" width="1" height="7" fill="url(#s35)"/><rect x="67" y="160" width="1" height="8" fill="url(#s36)"/><rect x="68" y="159" width="1" height="9" fill="url(#s37)"/><rect x="69" y="159" width="1" height="9" fill="url(#s38)"/><rect x="70" y="158" width="1" height="11" fill="url(#s39)"/><rect x="71" y="157" width="1" height="12" fill="url(#s40)"/><rect x="72" y="157" width="1" height="12" fill="url(#s41)"/><rect x="73" y="156" width="1" height="13" fill="url(#s42)"/><rect x="74" y="155" width="1" height="14" fill="url(#s43)"/><rect x="75" y="155" width="1" height="15" fill="url(#s44)"/><rect x="76" y="154" width="1" height="16" fill="url(#s45)"/><rect x="77" y="153" width="1" height="17" fill="url(#s46)"/><rect x="78" y="152" width="1" height="18" fill="url(#s47)"/><rect x="79" y="152" width="1" height="19" fill="url(#s48)"/><rect x="80" y="151" width="1" height="20" fill="url(#s49)"/><rect x="81" y="150" width="1" height="21" fill="url(#s50)"/><rect x="82" y="149" width="1" height="23" fill="url(#s51)"/><rect x="83" y="149" width="1" height="23" fill="url(#s52)"/><rect x="84" y="148" width="1" height="25" fill="url(#s53)"/><rect x="85" y="147" width="1" height="26" fill="url(#s54)"/><rect x="86" y="147" width="1" height="27" fill="url(#s55)"/><rect x="87" y="146" width="1" height="28" fill="url(#s56)"/><rect x="88" y="145" width="1" height="30" fill="url(#s57)"/><rect x="89" y="144" width="1" height="31" fill="url(#s58)"/><rect x="90" y="143" width="1" height="33" fill="url(#s59)"/><rect x="91" y="143" width="1" height="33" fill="url(#s60)"/><rect x="92" y="142" width="1" height="35" fill="url(#s61)"/><rect x="93" y="141" width="1" height="37" fill="url(#s62)"/><rect x="94" y="140" width="1" height="39" fill="url(#s63)"/><rect x="95" y="139" width="1" height="40" fill="url(#s64)"/><rect x="96" y="138" width="1" height="42" fill="url(#s65)"/><rect x="97" y="137" width="1" height="44" fill="url(#s66)"/><rect x="98" y="136" width="1" height="45" fill="url(#s67)"/><rect x="99" y="135" width="1" height="47" fill="url(#s68)"/><rect x="100" y="135" width="1" height="48" fill="url(#s69)"/><rect x="101" y="134" width="1" height="50" fill="url(#s70)"/><rect x="102" y="133" width="1" height="51" fill="url(#s71)"/><rect x="103" y="132" width="1" height="53" fill="url(#s72)"/><rect x="104" y="131" width="1" height="55" fill="url(#s73)"/><rect x="105" y="130" width="1" height="57" fill="url(#s74)"/><rect x="106" y="129" width="1" height="58" fill="url(#s75)"/><rect x="107" y="129" width="1" height="59" fill="url(#s76)"/><rect x="108" y="128" width="1" height="61" fill="url(#s77)"/><rect x="109" y="127" width="1" height="62" fill="url(#s78)"/><rect x="110" y="126" width="1" height="64" fill="url(#s79)"/><rect x="111" y="126" width="1" height="64" fill="url(#s80)"/><rect x="112" y="125" width="1" height="66" fill="url(#s81)"/><rect x="113" y="124" width="1" height="67" fill="url(#s82)"/><rect x="114" y="123" width="1" height="69" fill="url(#s83)"/><rect x="115" y="122" width="1" height="70" fill="url(#s84)"/><rect x="116" y="121" width="1" height="72" fill="url(#s85)"/><rect x="117" y="120" width="1" height="73" fill="url(#s86)"/><rect x="118" y="120" width="1" height="74" fill="url(#s87)"/><rect x="119" y="120" width="1" height="74" fill="url(#s88)"/><rect x="120" y="120" width="1" height="74" fill="url(#s89)"/><rect x="121" y="120" width="1" height="75" fill="url(#s90)"/><rect x="122" y="121" width="1" height="74" fill="url(#s91)"/><rect x="123" y="122" width="1" height="73" fill="url(#s92)"/><rect x="124" y="122" width="1" height="74" fill="url(#s93)"/><rect x="125" y="123" width="1" height="73" fill="url(#s94)"/><rect x="126" y="123" width="1" height="74" fill="url(#s95)"/><rect x="127" y="122" width="1" height="75" fill="url(#s96)"/><rect x="128" y="122" width="1" height="75" fill="url(#s97)"/><rect x="129" y="122" width="1" height="76" fill="url(#s98)"/><rect x="130" y="122" width="1" height="76" fill="url(#s99)"/><rect x="131" y="121" width="1" height="77" fill="url(#s100)"/><rect x="132" y="121" width="1" height="77" fill="url(#s101)"/><rect x="133" y="121" width="1" height="78" fill="url(#s102)"/><rect x="134" y="121" width="1" height="78" fill="url(#s103)"/><rect x="135" y="120" width="1" height="79" fill="url(#s104)"/><rect x="136" y="119" width="1" height="80" fill="url(#s105)"/><rect x="137" y="119" width="1" height="81" fill="url(#s106)"/><rect x="138" y="118" width="1" height="82" fill="url(#s107)"/><rect x="139" y="117" width="1" height="83" fill="url(#s108)"/><rect x="140" y="116" width="1" height="84" fill="url(#s109)"/><rect x="141" y="115" width="1" height="85" fill="url(#s110)"/><rect x="142" y="114" width="1" height="87" fill="url(#s111)"/><rect x="143" y="112" width="1" height="89" fill="url(#s112)"/><rect x="144" y="111" width="1" height="90" fill="url(#s113)"/><rect x="145" y="110" width="1" height="91" fill="url(#s114)"/><rect x="146" y="109" width="1" height="92" fill="url(#s115)"/><rect x="147" y="107" width="1" height="95" fill="url(#s116)"/><rect x="148" y="103" width="1" height="99" fill="url(#s117)"/><rect x="149" y="92" width="1" height="110" fill="url(#s118)"/><rect x="150" y="79" width="1" height="123" fill="url(#s119)"/><rect x="151" y="75" width="1" height="127" fill="url(#s120)"/><rect x="152" y="77" width="1" height="125" fill="url(#s121)"/><rect x="153" y="88" width="1" height="114" fill="url(#s122)"/><rect x="154" y="93" width="1" height="110" fill="url(#s123)"/><rect x="155" y="91" width="1" height="112" fill="url(#s124)"/><rect x="156" y="88" width="1" height="115" fill="url(#s125)"/><rect x="157" y="75" width="1" height="128" fill="url(#s126)"/><rect x="158" y="66" width="1" height="137" fill="url(#s127)"/><rect x="159" y="66" width="1" height="137" fill="url(#s128)"/><rect x="160" y="73" width="1" height="130" fill="url(#s129)"/><rect x="161" y="77" width="1" height="126" fill="url(#s130)"/><rect x="162" y="75" width="1" height="128" fill="url(#s131)"/><rect x="163" y="73" width="1" height="130" fill="url(#s132)"/><rect x="164" y="72" width="1" height="131" fill="url(#s133)"/><rect x="165" y="70" width="1" height="133" fill="url(#s134)"/><rect x="166" y="69" width="1" height="134" fill="url(#s135)"/><rect x="167" y="68" width="1" height="135" fill="url(#s136)"/><rect x="168" y="67" width="1" height="136" fill="url(#s137)"/><rect x="169" y="63" width="1" height="140" fill="url(#s138)"/><rect x="170" y="57" width="1" height="146" fill="url(#s139)"/><rect x="171" y="58" width="1" height="145" fill="url(#s140)"/><rect x="172" y="63" width="1" height="140" fill="url(#s141)"/><rect x="173" y="63" width="1" height="140" fill="url(#s142)"/><rect x="174" y="62" width="1" height="141" fill="url(#s143)"/><rect x="175" y="62" width="1" height="141" fill="url(#s144)"/><rect x="176" y="61" width="1" height="142" fill="url(#s145)"/><rect x="177" y="61" width="1" height="142" fill="url(#s146)"/><rect x="178" y="61" width="1" height="142" fill="url(#s147)"/><rect x="179" y="61" width="1" height="142" fill="url(#s148)"/><rect x="180" y="61" width="1" height="142" fill="url(#s149)"/><rect x="181" y="61" width="1" height="142" fill="url(#s150)"/><rect x="182" y="61" width="1" height="142" fill="url(#s151)"/><rect x="183" y="61" width="1" height="142" fill="url(#s152)"/><rect x="184" y="62" width="1" height="141" fill="url(#s153)"/><rect x="185" y="62" width="1" height="141" fill="url(#s154)"/><rect x="186" y="63" width="1" height="140" fill="url(#s155)"/><rect x="187" y="64" width="1" height="139" fill="url(#s156)"/><rect x="188" y="66" width="1" height="137" fill="url(#s157)"/><rect x="189" y="68" width="1" height="135" fill="url(#s158)"/><rect x="190" y="70" width="1" height="133" fill="url(#s159)"/><rect x="191" y="72" width="1" height="131" fill="url(#s160)"/><rect x="192" y="75" width="1" height="128" fill="url(#s161)"/><rect x="193" y="78" width="1" height="125" fill="url(#s162)"/><rect x="194" y="80" width="1" height="123" fill="url(#s163)"/><rect x="195" y="80" width="1" height="123" fill="url(#s164)"/><rect x="196" y="79" width="1" height="124" fill="url(#s165)"/><rect x="197" y="75" width="1" height="128" fill="url(#s166)"/><rect x="198" y="71" width="1" height="132" fill="url(#s167)"/><rect x="199" y="67" width="1" height="136" fill="url(#s168)"/><rect x="200" y="62" width="1" height="141" fill="url(#s169)"/><rect x="201" y="57" width="1" height="146" fill="url(#s170)"/><rect x="202" y="53" width="1" height="149" fill="url(#s171)"/><rect x="203" y="48" width="1" height="154" fill="url(#s172)"/><rect x="204" y="44" width="1" height="158" fill="url(#s173)"/><rect x="205" y="40" width="1" height="162" fill="url(#s174)"/><rect x="206" y="36" width="1" height="166" fill="url(#s175)"/><rect x="207" y="32" width="1" height="170" fill="url(#s176)"/><rect x="208" y="30" width="1" height="172" fill="url(#s177)"/><rect x="209" y="27" width="1" height="175" fill="url(#s178)"/><rect x="210" y="27" width="1" height="175" fill="url(#s179)"/><rect x="211" y="27" width="1" height="175" fill="url(#s180)"/><rect x="212" y="28" width="1" height="174" fill="url(#s181)"/><rect x="213" y="29" width="1" height="172" fill="url(#s182)"/><rect x="214" y="32" width="1" height="169" fill="url(#s183)"/><rect x="215" y="35" width="1" height="166" fill="url(#s184)"/><rect x="216" y="38" width="1" height="163" fill="url(#s185)"/><rect x="217" y="40" width="1" height="161" fill="url(#s186)"/><rect x="218" y="42" width="1" height="158" fill="url(#s187)"/><rect x="219" y="44" width="1" height="156" fill="url(#s188)"/><rect x="220" y="46" width="1" height="154" fill="url(#s189)"/><rect x="221" y="47" width="1" height="153" fill="url(#s190)"/><rect x="222" y="48" width="1" height="151" fill="url(#s191)"/><rect x="223" y="48" width="1" height="151" fill="url(#s192)"/><rect x="224" y="49" width="1" height="150" fill="url(#s193)"/><rect x="225" y="50" width="1" height="149" fill="url(#s194)"/><rect x="226" y="51" width="1" height="147" fill="url(#s195)"/><rect x="227" y="51" width="1" height="147" fill="url(#s196)"/><rect x="228" y="52" width="1" height="146" fill="url(#s197)"/><rect x="229" y="53" width="1" height="144" fill="url(#s198)"/><rect x="230" y="53" width="1" height="144" fill="url(#s199)"/><rect x="231" y="53" width="1" height="144" fill="url(#s200)"/><rect x="232" y="54" width="1" height="142" fill="url(#s201)"/><rect x="233" y="54" width="1" height="142" fill="url(#s202)"/><rect x="234" y="55" width="1" height="140" fill="url(#s203)"/><rect x="235" y="55" width="1" height="140" fill="url(#s204)"/><rect x="236" y="55" width="1" height="140" fill="url(#s205)"/><rect x="237" y="56" width="1" height="138" fill="url(#s206)"/><rect x="238" y="56" width="1" height="138" fill="url(#s207)"/><rect x="239" y="56" width="1" height="137" fill="url(#s208)"/><rect x="240" y="57" width="1" height="136" fill="url(#s209)"/><rect x="241" y="57" width="1" height="135" fill="url(#s210)"/><rect x="242" y="57" width="1" height="135" fill="url(#s211)"/><rect x="243" y="58" width="1" height="133" fill="url(#s212)"/><rect x="244" y="58" width="1" height="132" fill="url(#s213)"/><rect x="245" y="59" width="1" height="131" fill="url(#s214)"/><rect x="246" y="59" width="1" height="130" fill="url(#s215)"/><rect x="247" y="60" width="1" height="129" fill="url(#s216)"/><rect x="248" y="60" width="1" height="128" fill="url(#s217)"/><rect x="249" y="61" width="1" height="126" fill="url(#s218)"/><rect x="250" y="62" width="1" height="124" fill="url(#s219)"/><rect x="251" y="63" width="1" height="122" fill="url(#s220)"/><rect x="252" y="64" width="1" height="120" fill="url(#s221)"/><rect x="253" y="65" width="1" height="118" fill="url(#s222)"/><rect x="254" y="66" width="1" height="116" fill="url(#s223)"/><rect x="255" y="67" width="1" height="114" fill="url(#s224)"/><rect x="256" y="68" width="1" height="112" fill="url(#s225)"/><rect x="257" y="70" width="1" height="109" fill="url(#s226)"/><rect x="258" y="71" width="1" height="107" fill="url(#s227)"/><rect x="259" y="72" width="1" height="104" fill="url(#s228)"/><rect x="260" y="74" width="1" height="101" fill="url(#s229)"/><rect x="261" y="75" width="1" height="99" fill="url(#s230)"/><rect x="262" y="77" width="1" height="95" fill="url(#s231)"/><rect x="263" y="79" width="1" height="92" fill="url(#s232)"/><rect x="264" y="81" width="1" height="88" fill="url(#s233)"/><rect x="265" y="82" width="1" height="86" fill="url(#s234)"/><rect x="266" y="84" width="1" height="82" fill="url(#s235)"/><rect x="267" y="85" width="1" height="80" fill="url(#s236)"/><rect x="268" y="87" width="1" height="76" fill="url(#s237)"/><rect x="269" y="88" width="1" height="74" fill="url(#s238)"/><rect x="270" y="90" width="1" height="70" fill="url(#s239)"/><rect x="271" y="92" width="1" height="67" fill="url(#s240)"/><rect x="272" y="93" width="1" height="64" fill="url(#s241)"/><rect x="273" y="95" width="1" height="61" fill="url(#s242)"/><rect x="274" y="96" width="1" height="58" fill="url(#s243)"/><rect x="275" y="98" width="1" height="55" fill="url(#s244)"/><rect x="276" y="99" width="1" height="52" fill="url(#s245)"/><rect x="277" y="101" width="1" height="48" fill="url(#s246)"/><rect x="278" y="102" width="1" height="46" fill="url(#s247)"/><rect x="279" y="103" width="1" height="43" fill="url(#s248)"/><rect x="280" y="105" width="1" height="40" fill="url(#s249)"/><rect x="281" y="106" width="1" height="37" fill="url(#s250)"/><rect x="282" y="107" width="1" height="34" fill="url(#s251)"/><rect x="283" y="108" width="1" height="31" fill="url(#s252)"/><rect x="284" y="110" width="1" height="28" fill="url(#s253)"/><rect x="285" y="111" width="1" height="25" fill="url(#s254)"/><rect x="286" y="112" width="1" height="22" fill="url(#s255)"/><rect x="287" y="113" width="1" height="19" fill="url(#s256)"/><rect x="288" y="114" width="1" height="16" fill="url(#s257)"/><rect x="289" y="115" width="1" height="13" fill="url(#s258)"/><rect x="290" y="116" width="1" height="10" fill="url(#s259)"/><rect x="291" y="117" width="1" height="7" fill="url(#s260)"/><rect x="292" y="118" width="1" height="3" fill="url(#s261)"/>
<line x1="29.9" y1="74.7" x2="160.5" y2="127.6" stroke="#444" stroke-width="0.60"/><line x1="160.5" y1="127.6" x2="292.7" y2="74.4" stroke="#444" stroke-width="0.60"/><line x1="160.5" y1="127.6" x2="160.5" y2="217.8" stroke="#888" stroke-width="0.60"/><line x1="160.5" y1="127.6" x2="160.5" y2="201.5" stroke="#222" stroke-width="0.60"/>
<text x="24.5" y="175.5" class="ta" text-anchor="middle">0</text>
<text x="65.5" y="192.9" class="ta" text-anchor="middle">10</text>
<text x="107.7" y="210.8" class="ta" text-anchor="middle">20</text>
<text x="150.5" y="227.6" class="ta" text-anchor="middle">30</text>
<text x="292.7" y="177.4" class="ta" text-anchor="middle">2</text>
<text x="271.7" y="186.2" class="ta" text-anchor="middle">4</text>
<text x="249.5" y="194.9" class="ta" text-anchor="middle">6</text>
<text x="225.5" y="204.3" class="ta" text-anchor="middle">8</text>
<text x="206.6" y="213.3" class="ta" text-anchor="middle">10</text>
<text x="183.2" y="222.6" class="ta" text-anchor="middle">12</text>
<text x="77.9" y="212.9" class="la" textLength="7.4" lengthAdjust="spacingAndGlyphs">N</text>
<text x="233.7" y="212.9" class="la" textLength="14.9" lengthAdjust="spacingAndGlyphs">HR</text>
<text transform="translate(9.4,146.6) rotate(-90)" class="la" textLength="51.4" lengthAdjust="spacingAndGlyphs">Actual loss</text>
<defs><linearGradient id="ga" x1="0" y1="0" x2="0" y2="1"><stop offset="0.000" stop-color="#800000"/><stop offset="0.025" stop-color="#990000"/><stop offset="0.050" stop-color="#b30000"/><stop offset="0.075" stop-color="#cc0000"/><stop offset="0.100" stop-color="#e50000"/><stop offset="0.125" stop-color="#ff0000"/><stop offset="0.150" stop-color="#ff1a00"/><stop offset="0.175" stop-color="#ff3300"/><stop offset="0.200" stop-color="#ff4c00"/><stop offset="0.225" stop-color="#ff6600"/><stop offset="0.250" stop-color="#ff8000"/><stop offset="0.275" stop-color="#ff9900"/><stop offset="0.300" stop-color="#ffb300"/><stop offset="0.325" stop-color="#ffcc00"/><stop offset="0.350" stop-color="#ffe500"/><stop offset="0.375" stop-color="#ffff00"/><stop offset="0.400" stop-color="#e5ff1a"/><stop offset="0.425" stop-color="#ccff33"/><stop offset="0.450" stop-color="#b3ff4c"/><stop offset="0.475" stop-color="#99ff66"/><stop offset="0.500" stop-color="#80ff80"/><stop offset="0.525" stop-color="#66ff99"/><stop offset="0.550" stop-color="#4cffb3"/><stop offset="0.575" stop-color="#33ffcc"/><stop offset="0.600" stop-color="#1affe5"/><stop offset="0.625" stop-color="#00ffff"/><stop offset="0.650" stop-color="#00e5ff"/><stop offset="0.675" stop-color="#00ccff"/><stop offset="0.700" stop-color="#00b3ff"/><stop offset="0.725" stop-color="#0099ff"/><stop offset="0.750" stop-color="#0080ff"/><stop offset="0.775" stop-color="#0066ff"/><stop offset="0.800" stop-color="#004cff"/><stop offset="0.825" stop-color="#0033ff"/><stop offset="0.850" stop-color="#001aff"/><stop offset="0.875" stop-color="#0000ff"/><stop offset="0.900" stop-color="#0000e5"/><stop offset="0.925" stop-color="#0000cc"/><stop offset="0.950" stop-color="#0000b3"/><stop offset="0.975" stop-color="#000099"/><stop offset="1.000" stop-color="#000080"/></linearGradient></defs>
<rect x="299.5" y="21.4" width="8.8" height="196.3" fill="url(#ga)"/>
<text x="309" y="220.9" class="tc">0</text>
<path d="M299.5 218.0h1.5M306.8 218.0h1.5" stroke="#333" stroke-width="0.6"/>
<text x="309" y="201.3" class="tc">10</text>
<path d="M299.5 198.4h1.5M306.8 198.4h1.5" stroke="#333" stroke-width="0.6"/>
<text x="309" y="181.6" class="tc">20</text>
<path d="M299.5 178.7h1.5M306.8 178.7h1.5" stroke="#333" stroke-width="0.6"/>
<text x="309" y="162.0" class="tc">30</text>
<path d="M299.5 159.1h1.5M306.8 159.1h1.5" stroke="#333" stroke-width="0.6"/>
<text x="309" y="142.4" class="tc">40</text>
<path d="M299.5 139.5h1.5M306.8 139.5h1.5" stroke="#333" stroke-width="0.6"/>
<text x="309" y="122.7" class="tc">50</text>
<path d="M299.5 119.8h1.5M306.8 119.8h1.5" stroke="#333" stroke-width="0.6"/>
<text x="309" y="103.1" class="tc">60</text>
<path d="M299.5 100.2h1.5M306.8 100.2h1.5" stroke="#333" stroke-width="0.6"/>
<text x="309" y="83.5" class="tc">70</text>
<path d="M299.5 80.6h1.5M306.8 80.6h1.5" stroke="#333" stroke-width="0.6"/>
<text x="309" y="63.8" class="tc">80</text>
<path d="M299.5 60.9h1.5M306.8 60.9h1.5" stroke="#333" stroke-width="0.6"/>
<text x="309" y="44.2" class="tc">90</text>
<path d="M299.5 41.3h1.5M306.8 41.3h1.5" stroke="#333" stroke-width="0.6"/>
</svg></body></html>
